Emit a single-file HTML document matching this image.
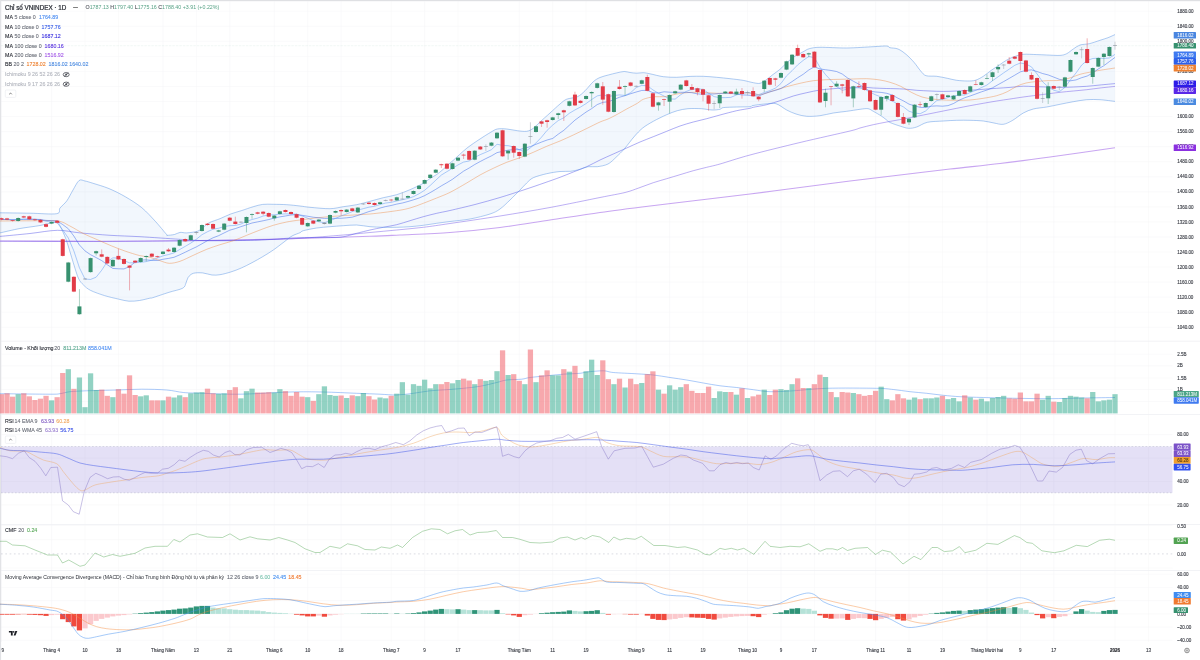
<!DOCTYPE html><html><head><meta charset="utf-8"><style>html,body{margin:0;padding:0;background:#fff}svg{display:block;filter:blur(0.3px)}</style></head><body><svg width="1200" height="660" viewBox="0 0 1200 660" font-family="Liberation Sans, sans-serif">
<rect width="1200" height="660" fill="#fff"/>
<line x1="1.49" y1="1.5" x2="1.49" y2="642" stroke="#f4f5f7" stroke-width="0.5"/>
<line x1="51.6" y1="1.5" x2="51.6" y2="642" stroke="#f4f5f7" stroke-width="0.5"/>
<line x1="85.01" y1="1.5" x2="85.01" y2="642" stroke="#f4f5f7" stroke-width="0.5"/>
<line x1="118.41" y1="1.5" x2="118.41" y2="642" stroke="#f4f5f7" stroke-width="0.5"/>
<line x1="162.95" y1="1.5" x2="162.95" y2="642" stroke="#f4f5f7" stroke-width="0.5"/>
<line x1="196.36" y1="1.5" x2="196.36" y2="642" stroke="#f4f5f7" stroke-width="0.5"/>
<line x1="229.76" y1="1.5" x2="229.76" y2="642" stroke="#f4f5f7" stroke-width="0.5"/>
<line x1="274.3" y1="1.5" x2="274.3" y2="642" stroke="#f4f5f7" stroke-width="0.5"/>
<line x1="307.71" y1="1.5" x2="307.71" y2="642" stroke="#f4f5f7" stroke-width="0.5"/>
<line x1="341.12" y1="1.5" x2="341.12" y2="642" stroke="#f4f5f7" stroke-width="0.5"/>
<line x1="391.22" y1="1.5" x2="391.22" y2="642" stroke="#f4f5f7" stroke-width="0.5"/>
<line x1="424.63" y1="1.5" x2="424.63" y2="642" stroke="#f4f5f7" stroke-width="0.5"/>
<line x1="458.03" y1="1.5" x2="458.03" y2="642" stroke="#f4f5f7" stroke-width="0.5"/>
<line x1="519.28" y1="1.5" x2="519.28" y2="642" stroke="#f4f5f7" stroke-width="0.5"/>
<line x1="552.68" y1="1.5" x2="552.68" y2="642" stroke="#f4f5f7" stroke-width="0.5"/>
<line x1="586.09" y1="1.5" x2="586.09" y2="642" stroke="#f4f5f7" stroke-width="0.5"/>
<line x1="636.2" y1="1.5" x2="636.2" y2="642" stroke="#f4f5f7" stroke-width="0.5"/>
<line x1="669.6" y1="1.5" x2="669.6" y2="642" stroke="#f4f5f7" stroke-width="0.5"/>
<line x1="703.01" y1="1.5" x2="703.01" y2="642" stroke="#f4f5f7" stroke-width="0.5"/>
<line x1="747.55" y1="1.5" x2="747.55" y2="642" stroke="#f4f5f7" stroke-width="0.5"/>
<line x1="780.96" y1="1.5" x2="780.96" y2="642" stroke="#f4f5f7" stroke-width="0.5"/>
<line x1="814.36" y1="1.5" x2="814.36" y2="642" stroke="#f4f5f7" stroke-width="0.5"/>
<line x1="875.6" y1="1.5" x2="875.6" y2="642" stroke="#f4f5f7" stroke-width="0.5"/>
<line x1="909.01" y1="1.5" x2="909.01" y2="642" stroke="#f4f5f7" stroke-width="0.5"/>
<line x1="942.42" y1="1.5" x2="942.42" y2="642" stroke="#f4f5f7" stroke-width="0.5"/>
<line x1="986.96" y1="1.5" x2="986.96" y2="642" stroke="#f4f5f7" stroke-width="0.5"/>
<line x1="1020.36" y1="1.5" x2="1020.36" y2="642" stroke="#f4f5f7" stroke-width="0.5"/>
<line x1="1053.77" y1="1.5" x2="1053.77" y2="642" stroke="#f4f5f7" stroke-width="0.5"/>
<line x1="1115.01" y1="1.5" x2="1115.01" y2="642" stroke="#f4f5f7" stroke-width="0.5"/>
<line x1="1148.42" y1="1.5" x2="1148.42" y2="642" stroke="#f4f5f7" stroke-width="0.5"/>
<line x1="1" y1="327.25" x2="1172.5" y2="327.25" stroke="#f4f5f7" stroke-width="0.5"/>
<line x1="1" y1="312.2" x2="1172.5" y2="312.2" stroke="#f4f5f7" stroke-width="0.5"/>
<line x1="1" y1="297.15" x2="1172.5" y2="297.15" stroke="#f4f5f7" stroke-width="0.5"/>
<line x1="1" y1="282.1" x2="1172.5" y2="282.1" stroke="#f4f5f7" stroke-width="0.5"/>
<line x1="1" y1="267.05" x2="1172.5" y2="267.05" stroke="#f4f5f7" stroke-width="0.5"/>
<line x1="1" y1="252" x2="1172.5" y2="252" stroke="#f4f5f7" stroke-width="0.5"/>
<line x1="1" y1="236.95" x2="1172.5" y2="236.95" stroke="#f4f5f7" stroke-width="0.5"/>
<line x1="1" y1="221.9" x2="1172.5" y2="221.9" stroke="#f4f5f7" stroke-width="0.5"/>
<line x1="1" y1="206.85" x2="1172.5" y2="206.85" stroke="#f4f5f7" stroke-width="0.5"/>
<line x1="1" y1="191.8" x2="1172.5" y2="191.8" stroke="#f4f5f7" stroke-width="0.5"/>
<line x1="1" y1="176.75" x2="1172.5" y2="176.75" stroke="#f4f5f7" stroke-width="0.5"/>
<line x1="1" y1="161.7" x2="1172.5" y2="161.7" stroke="#f4f5f7" stroke-width="0.5"/>
<line x1="1" y1="146.65" x2="1172.5" y2="146.65" stroke="#f4f5f7" stroke-width="0.5"/>
<line x1="1" y1="131.6" x2="1172.5" y2="131.6" stroke="#f4f5f7" stroke-width="0.5"/>
<line x1="1" y1="116.55" x2="1172.5" y2="116.55" stroke="#f4f5f7" stroke-width="0.5"/>
<line x1="1" y1="101.5" x2="1172.5" y2="101.5" stroke="#f4f5f7" stroke-width="0.5"/>
<line x1="1" y1="86.45" x2="1172.5" y2="86.45" stroke="#f4f5f7" stroke-width="0.5"/>
<line x1="1" y1="71.4" x2="1172.5" y2="71.4" stroke="#f4f5f7" stroke-width="0.5"/>
<line x1="1" y1="56.35" x2="1172.5" y2="56.35" stroke="#f4f5f7" stroke-width="0.5"/>
<line x1="1" y1="41.3" x2="1172.5" y2="41.3" stroke="#f4f5f7" stroke-width="0.5"/>
<line x1="1" y1="26.25" x2="1172.5" y2="26.25" stroke="#f4f5f7" stroke-width="0.5"/>
<line x1="1" y1="11.2" x2="1172.5" y2="11.2" stroke="#f4f5f7" stroke-width="0.5"/>
<line x1="1" y1="354.2" x2="1172.5" y2="354.2" stroke="#f4f5f7" stroke-width="0.5"/>
<line x1="1" y1="365.8" x2="1172.5" y2="365.8" stroke="#f4f5f7" stroke-width="0.5"/>
<line x1="1" y1="378" x2="1172.5" y2="378" stroke="#f4f5f7" stroke-width="0.5"/>
<line x1="1" y1="389.5" x2="1172.5" y2="389.5" stroke="#f4f5f7" stroke-width="0.5"/>
<line x1="1" y1="401.5" x2="1172.5" y2="401.5" stroke="#f4f5f7" stroke-width="0.5"/>
<line x1="1" y1="434.6" x2="1172.5" y2="434.6" stroke="#f4f5f7" stroke-width="0.5"/>
<line x1="1" y1="458.1" x2="1172.5" y2="458.1" stroke="#f4f5f7" stroke-width="0.5"/>
<line x1="1" y1="481.5" x2="1172.5" y2="481.5" stroke="#f4f5f7" stroke-width="0.5"/>
<line x1="1" y1="504.9" x2="1172.5" y2="504.9" stroke="#f4f5f7" stroke-width="0.5"/>
<line x1="1" y1="525.5" x2="1172.5" y2="525.5" stroke="#f4f5f7" stroke-width="0.5"/>
<line x1="1" y1="539.7" x2="1172.5" y2="539.7" stroke="#f4f5f7" stroke-width="0.5"/>
<line x1="1" y1="568" x2="1172.5" y2="568" stroke="#f4f5f7" stroke-width="0.5"/>
<line x1="1" y1="574.2" x2="1172.5" y2="574.2" stroke="#f4f5f7" stroke-width="0.5"/>
<line x1="1" y1="587.4" x2="1172.5" y2="587.4" stroke="#f4f5f7" stroke-width="0.5"/>
<line x1="1" y1="600.6" x2="1172.5" y2="600.6" stroke="#f4f5f7" stroke-width="0.5"/>
<line x1="1" y1="613.9" x2="1172.5" y2="613.9" stroke="#f4f5f7" stroke-width="0.5"/>
<line x1="1" y1="627.1" x2="1172.5" y2="627.1" stroke="#f4f5f7" stroke-width="0.5"/>
<line x1="1" y1="640.3" x2="1172.5" y2="640.3" stroke="#f4f5f7" stroke-width="0.5"/>
<line x1="0" y1="341.2" x2="1200" y2="341.2" stroke="#eceef2" stroke-width="0.7"/>
<line x1="0" y1="414.5" x2="1200" y2="414.5" stroke="#eceef2" stroke-width="0.7"/>
<line x1="0" y1="524.5" x2="1200" y2="524.5" stroke="#eceef2" stroke-width="0.7"/>
<line x1="0" y1="570.5" x2="1200" y2="570.5" stroke="#eceef2" stroke-width="0.7"/>
<rect x="0" y="0" width="1200" height="1.2" fill="#dfe0e3"/>
<rect x="0" y="0" width="1.1" height="660" fill="#e2e3e6"/>
<path d="M0 212.8 C4.8 212.86 20.94 213.06 30 213.2 C39.06 213.34 51.8 214.53 56.6 213.7 C61.4 212.87 58.37 210.05 60 208 C61.63 205.95 64.72 203.78 66.8 200.9 C68.88 198.02 71.03 193.26 73 190 C74.97 186.74 77.18 181.94 79.1 180.5 C81.02 179.06 82.82 180.57 85 181 C87.18 181.43 88.86 181.98 92.7 183.2 C96.54 184.42 103.77 186.42 109 188.6 C114.23 190.78 120.15 193.74 125.4 196.8 C130.65 199.86 137 203.76 141.8 207.7 C146.6 211.64 151.48 217.16 155.4 221.4 C159.32 225.64 164.4 231.98 166.3 234.2 C168.2 236.42 165.99 235.25 167.3 235.3 C168.61 235.35 172.47 234.96 174.5 234.5 C176.53 234.04 178.05 232.66 180 232.4 C181.95 232.14 183.93 233.08 186.7 232.9 C189.47 232.72 194.69 232.16 197.3 231.3 C199.91 230.44 201.08 228.88 203 227.5 C204.92 226.12 206.58 224.11 209.3 222.7 C212.02 221.29 216.58 220.09 220 218.7 C223.42 217.31 227.29 215.28 230.7 214 C234.11 212.72 237.68 211.87 241.3 210.7 C244.92 209.53 249.88 207.71 253.3 206.7 C256.72 205.69 259.5 204.78 262.7 204.4 C265.9 204.02 269.46 204.25 273.3 204.3 C277.14 204.35 282.43 204.43 286.7 204.7 C290.97 204.97 296.27 205.58 300 206 C303.73 206.42 305.2 206.87 310 207.3 C314.8 207.73 324.67 208.8 330 208.7 C335.33 208.6 339.03 207.34 343.3 206.7 C347.57 206.06 352.43 205.56 356.7 204.7 C360.97 203.84 365.74 202.42 370 201.3 C374.26 200.18 379.03 198.76 383.3 197.7 C387.57 196.64 392.43 195.98 396.7 194.7 C400.97 193.42 405.74 191.52 410 189.7 C414.26 187.88 420.1 185.09 423.3 183.3 C426.5 181.51 427.86 179.91 430 178.5 C432.14 177.09 434.62 175.94 436.7 174.5 C438.78 173.06 440.87 171.34 443 169.5 C445.13 167.66 448.35 164.47 450 163 C451.65 161.53 450.63 162.65 453.3 160.3 C455.97 157.95 462.43 151.71 466.7 148.3 C470.97 144.89 476.16 141.56 480 139 C483.84 136.44 487.93 133.9 490.7 132.3 C493.47 130.7 494.74 129.53 497.3 129 C499.86 128.47 503.5 128.73 506.7 129 C509.9 129.27 514.1 130.33 517.3 130.7 C520.5 131.07 524.14 131.68 526.7 131.3 C529.26 130.92 531.17 129.79 533.3 128.3 C535.43 126.81 537.33 124.45 540 122 C542.67 119.55 546.8 115.88 550 113 C553.2 110.12 557.33 106.21 560 104 C562.67 101.79 563.9 100.37 566.7 99.2 C569.5 98.03 574.57 98.04 577.5 96.7 C580.43 95.36 582.47 93.2 585 90.8 C587.53 88.4 590.9 83.83 593.3 81.7 C595.7 79.57 597.6 78.57 600 77.5 C602.4 76.43 605.63 75.74 608.3 75 C610.97 74.26 614.16 73.46 616.7 72.9 C619.24 72.34 622.07 71.56 624.2 71.5 C626.33 71.44 628 72.23 630 72.5 C632 72.77 634.57 73.17 636.7 73.2 C638.83 73.23 641.17 72.6 643.3 72.7 C645.43 72.8 646.8 73.16 650 73.8 C653.2 74.44 659.03 76.14 663.3 76.7 C667.57 77.26 672.43 77.35 676.7 77.3 C680.97 77.25 685.74 76.56 690 76.4 C694.26 76.24 699.03 76.16 703.3 76.3 C707.57 76.44 712.43 76.92 716.7 77.3 C720.97 77.68 725.74 78.2 730 78.7 C734.26 79.2 739.57 79.76 743.3 80.4 C747.03 81.04 750.63 82.24 753.3 82.7 C755.97 83.16 757.97 83.73 760 83.3 C762.03 82.87 763.92 81.41 766 80 C768.08 78.59 770.76 76.21 773 74.5 C775.24 72.79 777.84 71.14 780 69.3 C782.16 67.46 784.37 64.92 786.5 63 C788.63 61.08 791.14 58.82 793.3 57.3 C795.46 55.78 798.29 54.46 800 53.5 C801.71 52.54 802.51 52.07 804 51.3 C805.49 50.53 806.74 49.34 809.3 48.7 C811.86 48.06 814.02 47.41 820 47.3 C825.98 47.19 838.17 48.1 846.7 48 C855.23 47.9 866.9 47.02 873.3 46.7 C879.7 46.38 884.03 45.84 886.7 46 C889.37 46.16 888.19 47.22 890 47.7 C891.81 48.18 895.44 47.94 898 49 C900.56 50.06 903.44 52.17 906 54.3 C908.56 56.43 911.65 59.63 914 62.3 C916.35 64.97 918.78 68.86 920.7 71 C922.62 73.14 923.44 74.85 926 75.7 C928.56 76.55 933.29 75.88 936.7 76.3 C940.11 76.72 944.1 77.66 947.3 78.3 C950.5 78.94 953.5 79.87 956.7 80.3 C959.9 80.73 964.32 81 967.3 81 C970.28 81 972.74 81.05 975.3 80.3 C977.86 79.55 980.74 77.9 983.3 76.3 C985.86 74.7 988.74 72.11 991.3 70.3 C993.86 68.49 996.74 66.7 999.3 65 C1001.86 63.3 1004.74 61.09 1007.3 59.7 C1009.86 58.31 1012.74 57.16 1015.3 56.3 C1017.86 55.44 1019.88 54.57 1023.3 54.3 C1026.72 54.03 1032.96 54.49 1036.7 54.6 C1040.44 54.71 1042.97 54.87 1046.7 55 C1050.43 55.13 1056.8 55.61 1060 55.4 C1063.2 55.19 1064.57 54.72 1066.7 53.7 C1068.83 52.68 1071.17 50.39 1073.3 49 C1075.43 47.61 1077.44 45.85 1080 45 C1082.56 44.15 1086.1 44.45 1089.3 43.7 C1092.5 42.95 1097.01 41.26 1100 40.3 C1102.99 39.34 1105.6 38.61 1108 37.7 C1110.4 36.79 1113.88 35.1 1115 34.6 L1115 101.4 L1100 99.7 L1086.7 99.7 L1073.3 101.7 L1060 104.3 L1046.7 107 L1033.3 109 L1023.3 113 L1012.7 120.3 L1003.3 124.3 L994 123 L983.3 121 L970 120.3 L956.7 120.3 L943.3 121 L927.3 122.3 L916.7 127 L908.7 128.3 L900.7 126.3 L890 122.5 L886 119.5 L881.3 116 L873.3 111.3 L868 108.7 L860 109.3 L846.7 111.3 L833.3 113 L820 115.7 L806.7 116.3 L796 114 L786.7 110 L776 103.7 L765 104 L753 105.5 L750 106.7 L736.7 107 L723.3 107.6 L720 109.3 L712 110 L701.3 108.7 L688 108.7 L677.3 110.7 L666.7 114.7 L653.3 121.3 L642.7 128 L634.7 136 L629.3 142.7 L624 149.3 L616 157.3 L608 164 L597.3 166.7 L588 166.7 L580 169.3 L570.7 171.3 L560 171.5 L546.7 173.7 L533.3 177.7 L526.7 183 L520 190 L510 200 L500 209 L490 214 L470 219 L450 221.5 L436.7 223.3 L423.3 225.3 L410 226.7 L396.7 227.3 L383.3 227.3 L370 226.7 L356.7 225 L343.3 225.7 L330 226.7 L316.7 228 L303.3 230.7 L300 232.7 L292 236 L284 242 L273.3 250 L262.7 256.7 L252 262.7 L241.3 268 L230.7 272 L220 274.7 L212 275 L202.7 272.9 L193.3 273.3 L188.2 277.3 L186 283 L182.7 288.2 L169 292.3 L152.7 297.7 L149.8 298.2 L139.4 300.5 L128.9 301.2 L118.5 299.1 L104.5 295.6 L90.6 290.4 L83.6 285.1 L78.4 278.2 L73.2 262.5 L66.2 239.8 L59.2 224.2 L57.3 221.6 L40 225.5 L20 228.5 L0 232.9Z" fill="#2f7fe0" fill-opacity="0.062" stroke="none"/>
<path d="M0 241 C16 241.03 68 241.28 100 241.2 C132 241.12 169.6 240.88 200 240.5 C230.4 240.12 262.8 239.47 290 238.8 C317.2 238.13 352.4 236.91 370 236.3 C387.6 235.69 387.2 235.61 400 235 C412.8 234.39 434 233.7 450 232.5 C466 231.3 484 229.5 500 227.5 C516 225.5 534 222.4 550 220 C566 217.6 584 214.74 600 212.5 C616 210.26 634 208 650 206 C666 204 684 201.92 700 200 C716 198.08 734 196 750 194 C766 192 784 189.58 800 187.5 C816 185.42 834 183 850 181 C866 179 884 176.92 900 175 C916 173.08 934 170.84 950 169 C966 167.16 984 165.42 1000 163.5 C1016 161.58 1031.6 159.51 1050 157 C1068.4 154.49 1104.6 149.27 1115 147.8" fill="none" stroke="#c29cf0" stroke-width="1.15" stroke-opacity="0.9" stroke-linejoin="round" />
<path d="M0 241.2 C16 241.25 68 241.58 100 241.5 C132 241.42 174.4 240.97 200 240.7 C225.6 240.43 244 240.18 260 239.8 C276 239.42 286.67 239.07 300 238.3 C313.33 237.53 332.1 235.93 343.3 235 C354.5 234.07 361.46 233.3 370 232.5 C378.54 231.7 388.17 230.83 396.7 230 C405.23 229.17 414.77 228.34 423.3 227.3 C431.83 226.26 437.73 225.31 450 223.5 C462.27 221.69 484 218.56 500 216 C516 213.44 534 210.46 550 207.5 C566 204.54 588 199.9 600 197.5 C612 195.1 618.81 194.02 625 192.5 C631.19 190.98 634.17 189.57 638.7 188 C643.23 186.43 648.82 184.19 653.3 182.7 C657.78 181.21 662.43 179.98 666.7 178.7 C670.97 177.42 675.74 175.98 680 174.7 C684.26 173.42 689.03 171.88 693.3 170.7 C697.57 169.52 702.43 168.37 706.7 167.3 C710.97 166.23 713.07 165.97 720 164 C726.93 162.03 737.2 158.44 750 155 C762.8 151.56 784 146.34 800 142.5 C816 138.66 840.4 133.32 850 131 C859.6 128.68 856.27 129.01 860 128 C863.73 126.99 869.03 125.66 873.3 124.7 C877.57 123.74 881.9 122.91 886.7 122 C891.5 121.09 898.5 119.91 903.3 119 C908.1 118.09 912.43 117.15 916.7 116.3 C920.97 115.45 925.74 114.55 930 113.7 C934.26 112.85 939.03 111.86 943.3 111 C947.57 110.14 952.43 109.15 956.7 108.3 C960.97 107.45 965.74 106.5 970 105.7 C974.26 104.9 979.03 104.05 983.3 103.3 C987.57 102.55 992.43 101.69 996.7 101 C1000.97 100.31 1005.74 99.64 1010 99 C1014.26 98.36 1019.57 97.53 1023.3 97 C1027.03 96.47 1029.56 96.18 1033.3 95.7 C1037.04 95.22 1042.43 94.54 1046.7 94 C1050.97 93.46 1055.74 92.78 1060 92.3 C1064.26 91.82 1069.03 91.42 1073.3 91 C1077.57 90.58 1082.43 90.18 1086.7 89.7 C1090.97 89.22 1095.47 88.53 1100 88 C1104.53 87.47 1112.6 86.66 1115 86.4" fill="none" stroke="#6244e4" stroke-width="0.5" stroke-opacity="0.85" stroke-linejoin="round" />
<path d="M0 236.4 C4.8 235.94 20.8 234.48 30 233.5 C39.2 232.52 49.5 230.4 57.5 230.3 C65.5 230.2 71.6 232.1 80 232.9 C88.4 233.7 100.4 234.69 110 235.3 C119.6 235.91 128.8 236.06 140 236.7 C151.2 237.34 169.33 238.66 180 239.3 C190.67 239.94 196.03 240.52 206.7 240.7 C217.37 240.88 236.04 240.62 246.7 240.4 C257.36 240.18 266.9 239.64 273.3 239.3 C279.7 238.96 282.43 238.57 286.7 238.3 C290.97 238.03 294.67 237.73 300 237.6 C305.33 237.47 313.49 237.56 320 237.5 C326.51 237.44 334.83 237.87 340.7 237.2 C346.57 236.53 352.01 234.45 356.7 233.3 C361.39 232.15 365.74 230.96 370 230 C374.26 229.04 379.03 228.15 383.3 227.3 C387.57 226.45 392.43 225.76 396.7 224.7 C400.97 223.64 405.74 221.98 410 220.7 C414.26 219.42 419.03 217.88 423.3 216.7 C427.57 215.52 432.43 214.29 436.7 213.3 C440.97 212.31 443.87 211.91 450 210.5 C456.13 209.09 467 206.58 475 204.5 C483 202.42 492 199.9 500 197.5 C508 195.1 517.96 191.82 525 189.5 C532.04 187.18 538.4 184.95 544 183 C549.6 181.05 555.31 179.06 560 177.3 C564.69 175.54 569.03 173.7 573.3 172 C577.57 170.3 582.43 168.62 586.7 166.7 C590.97 164.78 595.74 162.03 600 160 C604.26 157.97 609.03 155.92 613.3 154 C617.57 152.08 622.43 149.92 626.7 148 C630.97 146.08 635.74 143.81 640 142 C644.26 140.19 649.03 138.41 653.3 136.7 C657.57 134.99 662.43 133.01 666.7 131.3 C670.97 129.59 675.74 127.49 680 126 C684.26 124.51 689.03 123.17 693.3 122 C697.57 120.83 702.43 119.82 706.7 118.7 C710.97 117.58 715.2 116.28 720 115 C724.8 113.72 731.9 111.77 736.7 110.7 C741.5 109.63 747.34 108.84 750 108.3 C752.66 107.76 750.63 107.88 753.3 107.3 C755.97 106.72 762.43 105.76 766.7 104.7 C770.97 103.64 775.74 102.09 780 100.7 C784.26 99.31 789.03 97.28 793.3 96 C797.57 94.72 802.43 93.66 806.7 92.7 C810.97 91.74 815.74 90.64 820 90 C824.26 89.36 829.03 89.07 833.3 88.7 C837.57 88.33 842.43 87.97 846.7 87.7 C850.97 87.43 855.74 86.95 860 87 C864.26 87.05 869.03 87.76 873.3 88 C877.57 88.24 881.9 88.34 886.7 88.5 C891.5 88.66 898.5 88.71 903.3 89 C908.1 89.29 912.43 89.98 916.7 90.3 C920.97 90.62 925.74 90.82 930 91 C934.26 91.18 939.03 91.4 943.3 91.4 C947.57 91.4 952.43 91.18 956.7 91 C960.97 90.82 965.74 90.57 970 90.3 C974.26 90.03 979.03 89.62 983.3 89.3 C987.57 88.98 992.43 88.6 996.7 88.3 C1000.97 88 1005.74 87.74 1010 87.4 C1014.26 87.06 1019.57 86.33 1023.3 86.2 C1027.03 86.07 1029.56 86.47 1033.3 86.6 C1037.04 86.73 1042.43 86.87 1046.7 87 C1050.97 87.13 1055.74 87.4 1060 87.4 C1064.26 87.4 1069.03 87.18 1073.3 87 C1077.57 86.82 1082.43 86.62 1086.7 86.3 C1090.97 85.98 1095.47 85.43 1100 85 C1104.53 84.57 1112.6 83.82 1115 83.6" fill="none" stroke="#4040e4" stroke-width="0.5" stroke-opacity="0.85" stroke-linejoin="round" />
<path d="M0 212.8 C4.8 212.86 20.94 213.06 30 213.2 C39.06 213.34 51.8 214.53 56.6 213.7 C61.4 212.87 58.37 210.05 60 208 C61.63 205.95 64.72 203.78 66.8 200.9 C68.88 198.02 71.03 193.26 73 190 C74.97 186.74 77.18 181.94 79.1 180.5 C81.02 179.06 82.82 180.57 85 181 C87.18 181.43 88.86 181.98 92.7 183.2 C96.54 184.42 103.77 186.42 109 188.6 C114.23 190.78 120.15 193.74 125.4 196.8 C130.65 199.86 137 203.76 141.8 207.7 C146.6 211.64 151.48 217.16 155.4 221.4 C159.32 225.64 164.4 231.98 166.3 234.2 C168.2 236.42 165.99 235.25 167.3 235.3 C168.61 235.35 172.47 234.96 174.5 234.5 C176.53 234.04 178.05 232.66 180 232.4 C181.95 232.14 183.93 233.08 186.7 232.9 C189.47 232.72 194.69 232.16 197.3 231.3 C199.91 230.44 201.08 228.88 203 227.5 C204.92 226.12 206.58 224.11 209.3 222.7 C212.02 221.29 216.58 220.09 220 218.7 C223.42 217.31 227.29 215.28 230.7 214 C234.11 212.72 237.68 211.87 241.3 210.7 C244.92 209.53 249.88 207.71 253.3 206.7 C256.72 205.69 259.5 204.78 262.7 204.4 C265.9 204.02 269.46 204.25 273.3 204.3 C277.14 204.35 282.43 204.43 286.7 204.7 C290.97 204.97 296.27 205.58 300 206 C303.73 206.42 305.2 206.87 310 207.3 C314.8 207.73 324.67 208.8 330 208.7 C335.33 208.6 339.03 207.34 343.3 206.7 C347.57 206.06 352.43 205.56 356.7 204.7 C360.97 203.84 365.74 202.42 370 201.3 C374.26 200.18 379.03 198.76 383.3 197.7 C387.57 196.64 392.43 195.98 396.7 194.7 C400.97 193.42 405.74 191.52 410 189.7 C414.26 187.88 420.1 185.09 423.3 183.3 C426.5 181.51 427.86 179.91 430 178.5 C432.14 177.09 434.62 175.94 436.7 174.5 C438.78 173.06 440.87 171.34 443 169.5 C445.13 167.66 448.35 164.47 450 163 C451.65 161.53 450.63 162.65 453.3 160.3 C455.97 157.95 462.43 151.71 466.7 148.3 C470.97 144.89 476.16 141.56 480 139 C483.84 136.44 487.93 133.9 490.7 132.3 C493.47 130.7 494.74 129.53 497.3 129 C499.86 128.47 503.5 128.73 506.7 129 C509.9 129.27 514.1 130.33 517.3 130.7 C520.5 131.07 524.14 131.68 526.7 131.3 C529.26 130.92 531.17 129.79 533.3 128.3 C535.43 126.81 537.33 124.45 540 122 C542.67 119.55 546.8 115.88 550 113 C553.2 110.12 557.33 106.21 560 104 C562.67 101.79 563.9 100.37 566.7 99.2 C569.5 98.03 574.57 98.04 577.5 96.7 C580.43 95.36 582.47 93.2 585 90.8 C587.53 88.4 590.9 83.83 593.3 81.7 C595.7 79.57 597.6 78.57 600 77.5 C602.4 76.43 605.63 75.74 608.3 75 C610.97 74.26 614.16 73.46 616.7 72.9 C619.24 72.34 622.07 71.56 624.2 71.5 C626.33 71.44 628 72.23 630 72.5 C632 72.77 634.57 73.17 636.7 73.2 C638.83 73.23 641.17 72.6 643.3 72.7 C645.43 72.8 646.8 73.16 650 73.8 C653.2 74.44 659.03 76.14 663.3 76.7 C667.57 77.26 672.43 77.35 676.7 77.3 C680.97 77.25 685.74 76.56 690 76.4 C694.26 76.24 699.03 76.16 703.3 76.3 C707.57 76.44 712.43 76.92 716.7 77.3 C720.97 77.68 725.74 78.2 730 78.7 C734.26 79.2 739.57 79.76 743.3 80.4 C747.03 81.04 750.63 82.24 753.3 82.7 C755.97 83.16 757.97 83.73 760 83.3 C762.03 82.87 763.92 81.41 766 80 C768.08 78.59 770.76 76.21 773 74.5 C775.24 72.79 777.84 71.14 780 69.3 C782.16 67.46 784.37 64.92 786.5 63 C788.63 61.08 791.14 58.82 793.3 57.3 C795.46 55.78 798.29 54.46 800 53.5 C801.71 52.54 802.51 52.07 804 51.3 C805.49 50.53 806.74 49.34 809.3 48.7 C811.86 48.06 814.02 47.41 820 47.3 C825.98 47.19 838.17 48.1 846.7 48 C855.23 47.9 866.9 47.02 873.3 46.7 C879.7 46.38 884.03 45.84 886.7 46 C889.37 46.16 888.19 47.22 890 47.7 C891.81 48.18 895.44 47.94 898 49 C900.56 50.06 903.44 52.17 906 54.3 C908.56 56.43 911.65 59.63 914 62.3 C916.35 64.97 918.78 68.86 920.7 71 C922.62 73.14 923.44 74.85 926 75.7 C928.56 76.55 933.29 75.88 936.7 76.3 C940.11 76.72 944.1 77.66 947.3 78.3 C950.5 78.94 953.5 79.87 956.7 80.3 C959.9 80.73 964.32 81 967.3 81 C970.28 81 972.74 81.05 975.3 80.3 C977.86 79.55 980.74 77.9 983.3 76.3 C985.86 74.7 988.74 72.11 991.3 70.3 C993.86 68.49 996.74 66.7 999.3 65 C1001.86 63.3 1004.74 61.09 1007.3 59.7 C1009.86 58.31 1012.74 57.16 1015.3 56.3 C1017.86 55.44 1019.88 54.57 1023.3 54.3 C1026.72 54.03 1032.96 54.49 1036.7 54.6 C1040.44 54.71 1042.97 54.87 1046.7 55 C1050.43 55.13 1056.8 55.61 1060 55.4 C1063.2 55.19 1064.57 54.72 1066.7 53.7 C1068.83 52.68 1071.17 50.39 1073.3 49 C1075.43 47.61 1077.44 45.85 1080 45 C1082.56 44.15 1086.1 44.45 1089.3 43.7 C1092.5 42.95 1097.01 41.26 1100 40.3 C1102.99 39.34 1105.6 38.61 1108 37.7 C1110.4 36.79 1113.88 35.1 1115 34.6" fill="none" stroke="#4a8ae0" stroke-width="0.55" stroke-opacity="0.8" stroke-linejoin="round" />
<path d="M0 232.9 C3.2 232.2 13.6 229.68 20 228.5 C26.4 227.32 34.03 226.6 40 225.5 C45.97 224.4 54.23 221.81 57.3 221.6 C60.37 221.39 57.78 221.29 59.2 224.2 C60.62 227.11 63.96 233.67 66.2 239.8 C68.44 245.93 71.25 256.36 73.2 262.5 C75.15 268.64 76.74 274.58 78.4 278.2 C80.06 281.82 81.65 283.15 83.6 285.1 C85.55 287.05 87.26 288.72 90.6 290.4 C93.94 292.08 100.04 294.21 104.5 295.6 C108.96 296.99 114.6 298.2 118.5 299.1 C122.4 300 125.56 300.98 128.9 301.2 C132.24 301.42 136.06 300.98 139.4 300.5 C142.74 300.02 147.67 298.65 149.8 298.2 C151.93 297.75 149.63 298.64 152.7 297.7 C155.77 296.76 164.2 293.82 169 292.3 C173.8 290.78 179.98 289.69 182.7 288.2 C185.42 286.71 185.12 284.74 186 283 C186.88 281.26 187.03 278.85 188.2 277.3 C189.37 275.75 190.98 274 193.3 273.3 C195.62 272.6 199.71 272.63 202.7 272.9 C205.69 273.17 209.23 274.71 212 275 C214.77 275.29 217.01 275.18 220 274.7 C222.99 274.22 227.29 273.07 230.7 272 C234.11 270.93 237.89 269.49 241.3 268 C244.71 266.51 248.58 264.51 252 262.7 C255.42 260.89 259.29 258.73 262.7 256.7 C266.11 254.67 269.89 252.35 273.3 250 C276.71 247.65 281.01 244.24 284 242 C286.99 239.76 289.44 237.49 292 236 C294.56 234.51 298.19 233.55 300 232.7 C301.81 231.85 300.63 231.45 303.3 230.7 C305.97 229.95 312.43 228.64 316.7 228 C320.97 227.36 325.74 227.07 330 226.7 C334.26 226.33 339.03 225.97 343.3 225.7 C347.57 225.43 352.43 224.84 356.7 225 C360.97 225.16 365.74 226.33 370 226.7 C374.26 227.07 379.03 227.2 383.3 227.3 C387.57 227.4 392.43 227.4 396.7 227.3 C400.97 227.2 405.74 227.02 410 226.7 C414.26 226.38 419.03 225.84 423.3 225.3 C427.57 224.76 432.43 223.91 436.7 223.3 C440.97 222.69 444.67 222.19 450 221.5 C455.33 220.81 463.6 220.2 470 219 C476.4 217.8 485.2 215.6 490 214 C494.8 212.4 496.8 211.24 500 209 C503.2 206.76 506.8 203.04 510 200 C513.2 196.96 517.33 192.72 520 190 C522.67 187.28 524.57 184.97 526.7 183 C528.83 181.03 530.1 179.19 533.3 177.7 C536.5 176.21 542.43 174.69 546.7 173.7 C550.97 172.71 556.16 171.88 560 171.5 C563.84 171.12 567.5 171.65 570.7 171.3 C573.9 170.95 577.23 170.04 580 169.3 C582.77 168.56 585.23 167.12 588 166.7 C590.77 166.28 594.1 167.13 597.3 166.7 C600.5 166.27 605.01 165.5 608 164 C610.99 162.5 613.44 159.65 616 157.3 C618.56 154.95 621.87 151.64 624 149.3 C626.13 146.96 627.59 144.83 629.3 142.7 C631.01 140.57 632.56 138.35 634.7 136 C636.84 133.65 639.72 130.35 642.7 128 C645.68 125.65 649.46 123.43 653.3 121.3 C657.14 119.17 662.86 116.4 666.7 114.7 C670.54 113 673.89 111.66 677.3 110.7 C680.71 109.74 684.16 109.02 688 108.7 C691.84 108.38 697.46 108.49 701.3 108.7 C705.14 108.91 709.01 109.9 712 110 C714.99 110.1 718.19 109.68 720 109.3 C721.81 108.92 720.63 107.97 723.3 107.6 C725.97 107.23 732.43 107.14 736.7 107 C740.97 106.86 747.39 106.94 750 106.7 C752.61 106.46 750.6 105.93 753 105.5 C755.4 105.07 761.32 104.29 765 104 C768.68 103.71 772.53 102.74 776 103.7 C779.47 104.66 783.5 108.35 786.7 110 C789.9 111.65 792.8 112.99 796 114 C799.2 115.01 802.86 116.03 806.7 116.3 C810.54 116.57 815.74 116.23 820 115.7 C824.26 115.17 829.03 113.7 833.3 113 C837.57 112.3 842.43 111.89 846.7 111.3 C850.97 110.71 856.59 109.72 860 109.3 C863.41 108.88 865.87 108.38 868 108.7 C870.13 109.02 871.17 110.13 873.3 111.3 C875.43 112.47 879.27 114.69 881.3 116 C883.33 117.31 884.61 118.46 886 119.5 C887.39 120.54 887.65 121.41 890 122.5 C892.35 123.59 897.71 125.37 900.7 126.3 C903.69 127.23 906.14 128.19 908.7 128.3 C911.26 128.41 913.72 127.96 916.7 127 C919.68 126.04 923.04 123.26 927.3 122.3 C931.56 121.34 938.6 121.32 943.3 121 C948 120.68 952.43 120.41 956.7 120.3 C960.97 120.19 965.74 120.19 970 120.3 C974.26 120.41 979.46 120.57 983.3 121 C987.14 121.43 990.8 122.47 994 123 C997.2 123.53 1000.31 124.73 1003.3 124.3 C1006.29 123.87 1009.5 122.11 1012.7 120.3 C1015.9 118.49 1020 114.81 1023.3 113 C1026.6 111.19 1029.56 109.96 1033.3 109 C1037.04 108.04 1042.43 107.75 1046.7 107 C1050.97 106.25 1055.74 105.15 1060 104.3 C1064.26 103.45 1069.03 102.44 1073.3 101.7 C1077.57 100.96 1082.43 100.02 1086.7 99.7 C1090.97 99.38 1095.47 99.43 1100 99.7 C1104.53 99.97 1112.6 101.13 1115 101.4" fill="none" stroke="#4a8ae0" stroke-width="0.55" stroke-opacity="0.8" stroke-linejoin="round" />
<path d="M0 221 C4.8 220.97 20.8 220.8 30 220.8 C39.2 220.8 51.15 220.18 57.5 221 C63.85 221.82 65.52 223.87 69.7 225.9 C73.88 227.93 79.14 231.48 83.6 233.7 C88.06 235.92 93.14 237.85 97.6 239.8 C102.06 241.75 107.05 244.08 111.5 245.9 C115.95 247.72 120.94 249.66 125.4 251.2 C129.86 252.74 135.5 254.52 139.4 255.5 C143.3 256.48 146.5 256.47 149.8 257.3 C153.1 258.13 156.88 259.74 160 260.7 C163.12 261.66 166.1 263.2 169.3 263.3 C172.5 263.4 176.16 262.58 180 261.3 C183.84 260.02 189.03 257.22 193.3 255.3 C197.57 253.38 202.43 251 206.7 249.3 C210.97 247.6 215.74 246.08 220 244.7 C224.26 243.32 229.03 242.2 233.3 240.7 C237.57 239.2 242.43 237.01 246.7 235.3 C250.97 233.59 255.74 231.6 260 230 C264.26 228.4 269.03 226.58 273.3 225.3 C277.57 224.02 282.43 222.85 286.7 222 C290.97 221.15 294.67 220.72 300 220 C305.33 219.28 312.8 218.22 320 217.5 C327.2 216.78 337 216.06 345 215.5 C353 214.94 361.73 214.77 370 214 C378.27 213.23 390.3 211.66 396.7 210.7 C403.1 209.74 405.74 209.18 410 208 C414.26 206.82 419.03 204.9 423.3 203.3 C427.57 201.7 432.43 199.74 436.7 198 C440.97 196.26 445.2 194.8 450 192.4 C454.8 190 461.9 185.78 466.7 183 C471.5 180.22 475.74 177.35 480 175 C484.26 172.65 489.03 170.33 493.3 168.3 C497.57 166.27 502.43 164 506.7 162.3 C510.97 160.6 515.74 159.3 520 157.7 C524.26 156.1 529.03 154.12 533.3 152.3 C537.57 150.48 542.43 148.11 546.7 146.3 C550.97 144.49 555.74 142.81 560 141 C564.26 139.19 569.03 137 573.3 135 C577.57 133 582.43 130.58 586.7 128.5 C590.97 126.42 596.59 123.52 600 122 C603.41 120.48 605.44 120.12 608 119 C610.56 117.88 613.01 116.6 616 115 C618.99 113.4 623.29 110.87 626.7 109 C630.11 107.13 634.64 104.85 637.3 103.3 C639.96 101.75 640.63 100.36 643.3 99.3 C645.97 98.24 650.58 97.12 654 96.7 C657.42 96.28 661.07 97.13 664.7 96.7 C668.33 96.27 672.65 94.69 676.7 94 C680.75 93.31 685.74 92.66 690 92.4 C694.26 92.14 699.03 92.26 703.3 92.4 C707.57 92.54 712.43 93.2 716.7 93.3 C720.97 93.4 724.67 93.05 730 93 C735.33 92.95 745.2 92.73 750 93 C754.8 93.27 756.27 95.07 760 94.7 C763.73 94.33 769.03 91.98 773.3 90.7 C777.57 89.42 782.43 87.88 786.7 86.7 C790.97 85.52 795.74 84.26 800 83.3 C804.26 82.34 809.03 81.28 813.3 80.7 C817.57 80.12 822.43 79.92 826.7 79.7 C830.97 79.48 835.74 79.41 840 79.3 C844.26 79.19 849.03 79.1 853.3 79 C857.57 78.9 862.43 78.54 866.7 78.7 C870.97 78.86 876.27 79.42 880 80 C883.73 80.58 886.69 81.29 890 82.3 C893.31 83.31 897.29 84.7 900.7 86.3 C904.11 87.9 907.89 90.59 911.3 92.3 C914.71 94.01 918.58 95.93 922 97 C925.42 98.07 929.29 98.52 932.7 99 C936.11 99.48 939.46 99.79 943.3 100 C947.14 100.21 952.43 100.3 956.7 100.3 C960.97 100.3 965.74 100.32 970 100 C974.26 99.68 979.03 98.99 983.3 98.3 C987.57 97.61 992.86 96.76 996.7 95.7 C1000.54 94.64 1004.1 93.2 1007.3 91.7 C1010.5 90.2 1013.71 87.69 1016.7 86.3 C1019.69 84.91 1022.8 83.77 1026 83 C1029.2 82.23 1033.39 81.87 1036.7 81.5 C1040.01 81.13 1042.97 80.89 1046.7 80.7 C1050.43 80.51 1056.16 80.78 1060 80.3 C1063.84 79.82 1067.5 78.66 1070.7 77.7 C1073.9 76.74 1077.02 75.16 1080 74.3 C1082.98 73.44 1086.1 72.94 1089.3 72.3 C1092.5 71.66 1095.89 70.99 1100 70.3 C1104.11 69.61 1112.6 68.37 1115 68" fill="none" stroke="#ee8030" stroke-width="0.55" stroke-opacity="0.75" stroke-linejoin="round" />
<path d="M1.49 219.51 L7.06 219.52 L12.63 219.67 L18.19 219.52 L23.76 219.32 L29.33 219.3 L34.9 219.37 L40.46 219.66 L46.03 220.39 L51.6 220.63 L57.17 220.95 L62.74 224.58 L68.3 228.73 L73.87 236.09 L79.44 244.98 L85.01 250.92 L90.57 254.71 L96.14 257.59 L101.71 260.58 L107.28 264.73 L112.84 268.44 L118.41 268.79 L123.98 268.93 L129.55 266.54 L135.11 262.15 L140.68 260.08 L146.25 259.87 L151.82 260.42 L157.38 260.46 L162.95 259.28 L168.52 258.42 L174.09 257.25 L179.65 254.86 L185.22 252.22 L190.79 249.5 L196.36 246.9 L201.93 243.8 L207.49 240.63 L213.06 237.79 L218.63 235.67 L224.2 232.9 L229.76 230.2 L235.33 228.6 L240.9 226.65 L246.47 224.82 L252.03 223.02 L257.6 221.89 L263.17 220.76 L268.74 219.56 L274.3 218.08 L279.87 216.85 L285.44 215.98 L291.01 214.98 L296.57 214.57 L302.14 215.34 L307.71 216.24 L313.28 217.23 L318.84 217.82 L324.41 218.42 L329.98 218.36 L335.55 218.33 L341.12 218.26 L346.68 217.82 L352.25 217.15 L357.82 215.44 L363.39 213.51 L368.95 211.55 L374.52 210.09 L380.09 208.05 L385.66 206.56 L391.22 205.49 L396.79 204.09 L402.36 203 L407.93 201.5 L413.49 199.84 L419.06 198.04 L424.63 195.64 L430.2 192.61 L435.76 189.35 L441.33 185.86 L446.9 182.7 L452.47 179.3 L458.03 175.2 L463.6 171.15 L469.17 168.02 L474.74 164.52 L480.31 161.46 L485.87 158.59 L491.44 155.88 L497.01 152.63 L502.58 151.39 L508.14 150.13 L513.71 149.63 L519.28 149.68 L524.85 148.08 L530.41 146.61 L535.98 144.3 L541.55 142.07 L547.12 140.01 L552.68 138.48 L558.25 134.18 L563.82 130.34 L569.39 125.2 L574.95 120.14 L580.52 116.06 L586.09 112.06 L591.66 108.63 L597.22 104.59 L602.79 102.35 L608.36 101.78 L613.93 99.55 L619.5 97.22 L625.06 95.69 L630.63 93.73 L636.2 92.03 L641.77 90.46 L647.33 90.34 L652.9 92.68 L658.47 92.96 L664.04 91.79 L669.6 92.19 L675.17 92.42 L680.74 92.29 L686.31 92.31 L691.87 92.69 L697.44 93.86 L703.01 94.25 L708.58 93.95 L714.14 94.01 L719.71 93.51 L725.28 93.17 L730.85 93.4 L736.41 94.09 L741.98 94.89 L747.55 95.13 L753.12 95.56 L758.69 96.02 L764.25 93.72 L769.82 91.89 L775.39 90.36 L780.96 88.5 L786.52 85.27 L792.09 81.58 L797.66 77.75 L803.23 74.27 L808.79 69.97 L814.36 66.77 L819.93 68.94 L825.5 69.74 L831.06 70.47 L836.63 71.54 L842.2 73.98 L847.77 78.15 L853.33 81.21 L858.9 84.18 L864.47 87.85 L870.04 91.25 L875.6 91.98 L881.17 92.41 L886.74 93.31 L892.31 95.04 L897.88 98.16 L903.44 100.89 L909.01 104.13 L914.58 105.9 L920.15 107.36 L925.71 107.53 L931.28 106.19 L936.85 105.89 L942.42 106.19 L947.98 105.63 L953.55 103.51 L959.12 100.24 L964.69 97.77 L970.25 95.93 L975.82 93.93 L981.39 91.86 L986.96 90.03 L992.52 87.86 L998.09 84.66 L1003.66 81.59 L1009.23 78.39 L1014.79 75.16 L1020.36 71.86 L1025.93 70.4 L1031.5 69.89 L1037.07 71.54 L1042.63 73.54 L1048.2 74.94 L1053.77 77.11 L1059.34 79.31 L1064.9 80.68 L1070.47 80.81 L1076.04 79.91 L1081.61 77.69 L1087.17 76.04 L1092.74 72.96 L1098.31 68.96 L1103.88 65.7 L1109.44 61.53 L1115.01 57.4" fill="none" stroke="#2e5fe8" stroke-width="0.55" stroke-opacity="0.85" stroke-linejoin="round" />
<path d="M1.49 219.52 L7.06 219.54 L12.63 219.84 L18.19 219.54 L23.76 219.14 L29.33 219.08 L34.9 219.2 L40.46 219.48 L46.03 221.24 L51.6 222.12 L57.17 222.82 L62.74 229.96 L68.3 237.98 L73.87 250.94 L79.44 267.84 L85.01 279.02 L90.57 279.46 L96.14 277.2 L101.71 270.22 L107.28 261.62 L112.84 257.86 L118.41 258.12 L123.98 260.66 L129.55 262.86 L135.11 262.68 L140.68 262.3 L146.25 261.62 L151.82 260.18 L157.38 258.06 L162.95 255.88 L168.52 254.54 L174.09 252.88 L179.65 249.54 L185.22 246.38 L190.79 243.12 L196.36 239.26 L201.93 234.72 L207.49 231.72 L213.06 229.2 L218.63 228.22 L224.2 226.54 L229.76 225.68 L235.33 225.48 L240.9 224.1 L246.47 221.42 L252.03 219.5 L257.6 218.1 L263.17 216.04 L268.74 215.02 L274.3 214.74 L279.87 214.2 L285.44 213.86 L291.01 213.92 L296.57 214.12 L302.14 215.94 L307.71 218.28 L313.28 220.6 L318.84 221.72 L324.41 222.72 L329.98 220.78 L335.55 218.38 L341.12 215.92 L346.68 213.92 L352.25 211.58 L357.82 210.1 L363.39 208.64 L368.95 207.18 L374.52 206.26 L380.09 204.52 L385.66 203.02 L391.22 202.34 L396.79 201 L402.36 199.74 L407.93 198.48 L413.49 196.66 L419.06 193.74 L424.63 190.28 L430.2 185.48 L435.76 180.22 L441.33 175.06 L446.9 171.66 L452.47 168.32 L458.03 164.92 L463.6 162.08 L469.17 160.98 L474.74 157.38 L480.31 154.6 L485.87 152.26 L491.44 149.68 L497.01 144.28 L502.58 145.4 L508.14 145.66 L513.71 147 L519.28 149.68 L524.85 151.88 L530.41 147.82 L535.98 142.94 L541.55 137.14 L547.12 130.34 L552.68 125.08 L558.25 120.54 L563.82 117.74 L569.39 113.26 L574.95 109.94 L580.52 107.04 L586.09 103.58 L591.66 99.52 L597.22 95.92 L602.79 94.76 L608.36 96.52 L613.93 95.52 L619.5 94.92 L625.06 95.46 L630.63 92.7 L636.2 87.54 L641.77 85.4 L647.33 85.76 L652.9 89.9 L658.47 93.22 L664.04 96.04 L669.6 98.98 L675.17 99.08 L680.74 94.68 L686.31 91.4 L691.87 89.34 L697.44 88.74 L703.01 89.42 L708.58 93.22 L714.14 96.62 L719.71 97.68 L725.28 97.6 L730.85 97.38 L736.41 94.96 L741.98 93.16 L747.55 92.58 L753.12 93.52 L758.69 94.66 L764.25 92.48 L769.82 90.62 L775.39 88.14 L780.96 83.48 L786.52 75.88 L792.09 70.68 L797.66 64.88 L803.23 60.4 L808.79 56.46 L814.36 57.66 L819.93 67.2 L825.5 74.6 L831.06 80.54 L836.63 86.62 L842.2 90.3 L847.77 89.1 L853.33 87.82 L858.9 87.82 L864.47 89.08 L870.04 92.2 L875.6 94.86 L881.17 97 L886.74 98.8 L892.31 101 L897.88 104.12 L903.44 106.92 L909.01 111.26 L914.58 113 L920.15 113.72 L925.71 110.94 L931.28 105.46 L936.85 100.52 L942.42 99.38 L947.98 97.54 L953.55 96.08 L959.12 95.02 L964.69 95.02 L970.25 92.48 L975.82 90.32 L981.39 87.64 L986.96 85.04 L992.52 80.7 L998.09 76.84 L1003.66 72.86 L1009.23 69.14 L1014.79 65.28 L1020.36 63.02 L1025.93 63.96 L1031.5 66.92 L1037.07 73.94 L1042.63 81.8 L1048.2 86.86 L1053.77 90.26 L1059.34 91.7 L1064.9 87.42 L1070.47 79.82 L1076.04 72.96 L1081.61 65.12 L1087.17 60.38 L1092.74 58.5 L1098.31 58.1 L1103.88 58.44 L1109.44 57.94 L1115.01 54.42" fill="none" stroke="#4a8cf2" stroke-width="0.55" stroke-opacity="0.8" stroke-linejoin="round" />
<line x1="1" y1="45.7" x2="1172.5" y2="45.7" stroke="#37916f" stroke-width="0.4" stroke-dasharray="0.5 0.9" stroke-opacity="0.35"/>
<line x1="1.49" y1="217.6" x2="1.49" y2="220.2" stroke="#e23b47" stroke-width="0.5" stroke-opacity="0.8"/>
<rect x="-0.51" y="218.2" width="4.0" height="1.4" fill="#e23b47"/>
<line x1="7.06" y1="217.8" x2="7.06" y2="220.2" stroke="#e23b47" stroke-width="0.5" stroke-opacity="0.8"/>
<rect x="5.06" y="218.4" width="4.0" height="1.2" fill="#e23b47"/>
<line x1="12.63" y1="219.7" x2="12.63" y2="221.6" stroke="#e23b47" stroke-width="0.5" stroke-opacity="0.8"/>
<rect x="10.63" y="220.3" width="4.0" height="0.7" fill="#e23b47"/>
<line x1="18.19" y1="217.4" x2="18.19" y2="221.6" stroke="#37916f" stroke-width="0.5" stroke-opacity="0.8"/>
<rect x="16.19" y="218" width="4.0" height="3" fill="#37916f"/>
<line x1="23.76" y1="215.7" x2="23.76" y2="218.1" stroke="#e23b47" stroke-width="0.5" stroke-opacity="0.8"/>
<rect x="21.76" y="216.3" width="4.0" height="1.2" fill="#e23b47"/>
<line x1="29.33" y1="215.7" x2="29.33" y2="219.9" stroke="#e23b47" stroke-width="0.5" stroke-opacity="0.8"/>
<rect x="27.33" y="216.3" width="4.0" height="3" fill="#e23b47"/>
<line x1="34.9" y1="218.8" x2="34.9" y2="220.8" stroke="#e23b47" stroke-width="0.5" stroke-opacity="0.8"/>
<rect x="32.9" y="219.4" width="4.0" height="0.8" fill="#e23b47"/>
<line x1="40.46" y1="219.2" x2="40.46" y2="223" stroke="#e23b47" stroke-width="0.5" stroke-opacity="0.8"/>
<rect x="38.46" y="219.8" width="4.0" height="2.6" fill="#e23b47"/>
<line x1="46.03" y1="223.6" x2="46.03" y2="227.4" stroke="#e23b47" stroke-width="0.5" stroke-opacity="0.8"/>
<rect x="44.03" y="224.2" width="4.0" height="2.6" fill="#e23b47"/>
<line x1="51.6" y1="221.3" x2="51.6" y2="224.2" stroke="#37916f" stroke-width="0.5" stroke-opacity="0.8"/>
<rect x="49.6" y="221.9" width="4.0" height="1.7" fill="#37916f"/>
<line x1="57.17" y1="220.1" x2="57.17" y2="223.4" stroke="#e23b47" stroke-width="0.5" stroke-opacity="0.8"/>
<rect x="55.17" y="220.7" width="4.0" height="2.1" fill="#e23b47"/>
<line x1="62.74" y1="238.7" x2="62.74" y2="256.5" stroke="#e23b47" stroke-width="0.5" stroke-opacity="0.8"/>
<rect x="60.74" y="239.3" width="4.0" height="16.6" fill="#e23b47"/>
<line x1="68.3" y1="261.9" x2="68.3" y2="282.3" stroke="#37916f" stroke-width="0.5" stroke-opacity="0.8"/>
<rect x="66.3" y="262.5" width="4.0" height="19.2" fill="#37916f"/>
<line x1="73.87" y1="276.2" x2="73.87" y2="292.2" stroke="#e23b47" stroke-width="0.5" stroke-opacity="0.8"/>
<rect x="71.87" y="276.8" width="4.0" height="14.8" fill="#e23b47"/>
<line x1="79.44" y1="289.1" x2="79.44" y2="314.8" stroke="#37916f" stroke-width="0.5" stroke-opacity="0.8"/>
<rect x="77.44" y="306.4" width="4.0" height="7.8" fill="#37916f"/>
<line x1="85.01" y1="278.1" x2="85.01" y2="279.9" stroke="#8d949e" stroke-width="0.5" stroke-opacity="0.8"/>
<rect x="83.01" y="278.7" width="4.0" height="0.6" fill="#8d949e"/>
<line x1="90.57" y1="257.5" x2="90.57" y2="272.7" stroke="#37916f" stroke-width="0.5" stroke-opacity="0.8"/>
<rect x="88.57" y="258.1" width="4.0" height="14" fill="#37916f"/>
<line x1="96.14" y1="250.6" x2="96.14" y2="255.5" stroke="#37916f" stroke-width="0.5" stroke-opacity="0.8"/>
<rect x="94.14" y="251.2" width="4.0" height="2.1" fill="#37916f"/>
<line x1="101.71" y1="249.4" x2="101.71" y2="257.3" stroke="#e23b47" stroke-width="0.5" stroke-opacity="0.8"/>
<rect x="99.71" y="254.3" width="4.0" height="2.4" fill="#e23b47"/>
<line x1="107.28" y1="256.3" x2="107.28" y2="264" stroke="#e23b47" stroke-width="0.5" stroke-opacity="0.8"/>
<rect x="105.28" y="256.9" width="4.0" height="6.5" fill="#e23b47"/>
<line x1="112.84" y1="259.3" x2="112.84" y2="266.9" stroke="#37916f" stroke-width="0.5" stroke-opacity="0.8"/>
<rect x="110.84" y="259.9" width="4.0" height="6.4" fill="#37916f"/>
<line x1="118.41" y1="248.6" x2="118.41" y2="260" stroke="#e23b47" stroke-width="0.5" stroke-opacity="0.8"/>
<rect x="116.41" y="255.9" width="4.0" height="3.5" fill="#e23b47"/>
<line x1="123.98" y1="258.4" x2="123.98" y2="264.5" stroke="#e23b47" stroke-width="0.5" stroke-opacity="0.8"/>
<rect x="121.98" y="259" width="4.0" height="4.9" fill="#e23b47"/>
<line x1="129.55" y1="265" x2="129.55" y2="290.4" stroke="#e23b47" stroke-width="0.5" stroke-opacity="0.8"/>
<rect x="127.55" y="265.6" width="4.0" height="2.1" fill="#e23b47"/>
<line x1="135.11" y1="260.1" x2="135.11" y2="263.1" stroke="#e23b47" stroke-width="0.5" stroke-opacity="0.8"/>
<rect x="133.11" y="260.7" width="4.0" height="1.8" fill="#e23b47"/>
<line x1="140.68" y1="257.4" x2="140.68" y2="262.6" stroke="#37916f" stroke-width="0.5" stroke-opacity="0.8"/>
<rect x="138.68" y="258" width="4.0" height="4" fill="#37916f"/>
<line x1="146.25" y1="255.4" x2="146.25" y2="261.3" stroke="#37916f" stroke-width="0.5" stroke-opacity="0.8"/>
<rect x="144.25" y="256" width="4.0" height="1" fill="#37916f"/>
<line x1="151.82" y1="253.1" x2="151.82" y2="257.3" stroke="#e23b47" stroke-width="0.5" stroke-opacity="0.8"/>
<rect x="149.82" y="253.7" width="4.0" height="3" fill="#e23b47"/>
<line x1="157.38" y1="255.7" x2="157.38" y2="257.7" stroke="#e23b47" stroke-width="0.5" stroke-opacity="0.8"/>
<rect x="155.38" y="256.3" width="4.0" height="0.8" fill="#e23b47"/>
<line x1="162.95" y1="251" x2="162.95" y2="254.6" stroke="#37916f" stroke-width="0.5" stroke-opacity="0.8"/>
<rect x="160.95" y="251.6" width="4.0" height="2.4" fill="#37916f"/>
<line x1="168.52" y1="248" x2="168.52" y2="251.9" stroke="#e23b47" stroke-width="0.5" stroke-opacity="0.8"/>
<rect x="166.52" y="249.6" width="4.0" height="1.7" fill="#e23b47"/>
<line x1="174.09" y1="247.1" x2="174.09" y2="252.6" stroke="#37916f" stroke-width="0.5" stroke-opacity="0.8"/>
<rect x="172.09" y="247.7" width="4.0" height="4.3" fill="#37916f"/>
<line x1="179.65" y1="239.4" x2="179.65" y2="246.3" stroke="#37916f" stroke-width="0.5" stroke-opacity="0.8"/>
<rect x="177.65" y="240" width="4.0" height="5.7" fill="#37916f"/>
<line x1="185.22" y1="238.4" x2="185.22" y2="241.9" stroke="#e23b47" stroke-width="0.5" stroke-opacity="0.8"/>
<rect x="183.22" y="239" width="4.0" height="2.3" fill="#e23b47"/>
<line x1="190.79" y1="234.7" x2="190.79" y2="240.6" stroke="#37916f" stroke-width="0.5" stroke-opacity="0.8"/>
<rect x="188.79" y="235.3" width="4.0" height="4.7" fill="#37916f"/>
<line x1="196.36" y1="231.3" x2="196.36" y2="234.7" stroke="#8d949e" stroke-width="0.5" stroke-opacity="0.8"/>
<rect x="194.36" y="232" width="4.0" height="0.8" fill="#8d949e"/>
<line x1="201.93" y1="224.4" x2="201.93" y2="231.6" stroke="#37916f" stroke-width="0.5" stroke-opacity="0.8"/>
<rect x="199.93" y="225" width="4.0" height="6" fill="#37916f"/>
<line x1="207.49" y1="223.1" x2="207.49" y2="225.6" stroke="#e23b47" stroke-width="0.5" stroke-opacity="0.8"/>
<rect x="205.49" y="223.7" width="4.0" height="1.3" fill="#e23b47"/>
<line x1="213.06" y1="223.4" x2="213.06" y2="229.3" stroke="#e23b47" stroke-width="0.5" stroke-opacity="0.8"/>
<rect x="211.06" y="224" width="4.0" height="4.7" fill="#e23b47"/>
<line x1="218.63" y1="229.8" x2="218.63" y2="232.2" stroke="#37916f" stroke-width="0.5" stroke-opacity="0.8"/>
<rect x="216.63" y="230.4" width="4.0" height="1.2" fill="#37916f"/>
<line x1="224.2" y1="223" x2="224.2" y2="230.3" stroke="#37916f" stroke-width="0.5" stroke-opacity="0.8"/>
<rect x="222.2" y="223.6" width="4.0" height="6.1" fill="#37916f"/>
<line x1="229.76" y1="217.1" x2="229.76" y2="221.3" stroke="#e23b47" stroke-width="0.5" stroke-opacity="0.8"/>
<rect x="227.76" y="217.7" width="4.0" height="3" fill="#e23b47"/>
<line x1="235.33" y1="216.7" x2="235.33" y2="224.6" stroke="#e23b47" stroke-width="0.5" stroke-opacity="0.8"/>
<rect x="233.33" y="221.6" width="4.0" height="2.4" fill="#e23b47"/>
<line x1="240.9" y1="221.2" x2="240.9" y2="222.9" stroke="#8d949e" stroke-width="0.5" stroke-opacity="0.8"/>
<rect x="238.9" y="221.8" width="4.0" height="0.6" fill="#8d949e"/>
<line x1="246.47" y1="216.4" x2="246.47" y2="232.4" stroke="#37916f" stroke-width="0.5" stroke-opacity="0.8"/>
<rect x="244.47" y="217" width="4.0" height="6" fill="#37916f"/>
<line x1="252.03" y1="213.4" x2="252.03" y2="218.7" stroke="#37916f" stroke-width="0.5" stroke-opacity="0.8"/>
<rect x="250.03" y="214" width="4.0" height="0.8" fill="#37916f"/>
<line x1="257.6" y1="211.8" x2="257.6" y2="214.3" stroke="#e23b47" stroke-width="0.5" stroke-opacity="0.8"/>
<rect x="255.6" y="212.4" width="4.0" height="1.3" fill="#e23b47"/>
<line x1="263.17" y1="211.1" x2="263.17" y2="215.3" stroke="#e23b47" stroke-width="0.5" stroke-opacity="0.8"/>
<rect x="261.17" y="211.7" width="4.0" height="2" fill="#e23b47"/>
<line x1="268.74" y1="212.4" x2="268.74" y2="217.3" stroke="#e23b47" stroke-width="0.5" stroke-opacity="0.8"/>
<rect x="266.74" y="213" width="4.0" height="3.7" fill="#e23b47"/>
<line x1="274.3" y1="215" x2="274.3" y2="220.7" stroke="#37916f" stroke-width="0.5" stroke-opacity="0.8"/>
<rect x="272.3" y="215.6" width="4.0" height="2.7" fill="#37916f"/>
<line x1="279.87" y1="210.7" x2="279.87" y2="214.6" stroke="#37916f" stroke-width="0.5" stroke-opacity="0.8"/>
<rect x="277.87" y="211.3" width="4.0" height="2.7" fill="#37916f"/>
<line x1="285.44" y1="209.4" x2="285.44" y2="212.6" stroke="#e23b47" stroke-width="0.5" stroke-opacity="0.8"/>
<rect x="283.44" y="210" width="4.0" height="2" fill="#e23b47"/>
<line x1="291.01" y1="211.4" x2="291.01" y2="214.6" stroke="#e23b47" stroke-width="0.5" stroke-opacity="0.8"/>
<rect x="289.01" y="212" width="4.0" height="2" fill="#e23b47"/>
<line x1="296.57" y1="213.6" x2="296.57" y2="218.3" stroke="#e23b47" stroke-width="0.5" stroke-opacity="0.8"/>
<rect x="294.57" y="214.2" width="4.0" height="3.5" fill="#e23b47"/>
<line x1="302.14" y1="217.4" x2="302.14" y2="225.3" stroke="#e23b47" stroke-width="0.5" stroke-opacity="0.8"/>
<rect x="300.14" y="218" width="4.0" height="6.7" fill="#e23b47"/>
<line x1="307.71" y1="222.4" x2="307.71" y2="226.9" stroke="#37916f" stroke-width="0.5" stroke-opacity="0.8"/>
<rect x="305.71" y="223" width="4.0" height="3.3" fill="#37916f"/>
<line x1="313.28" y1="220.1" x2="313.28" y2="224.2" stroke="#e23b47" stroke-width="0.5" stroke-opacity="0.8"/>
<rect x="311.28" y="220.7" width="4.0" height="2.9" fill="#e23b47"/>
<line x1="318.84" y1="219" x2="318.84" y2="221.9" stroke="#37916f" stroke-width="0.5" stroke-opacity="0.8"/>
<rect x="316.84" y="219.6" width="4.0" height="1.7" fill="#37916f"/>
<line x1="324.41" y1="222.1" x2="324.41" y2="224.6" stroke="#8d949e" stroke-width="0.5" stroke-opacity="0.8"/>
<rect x="322.41" y="222.7" width="4.0" height="1.3" fill="#8d949e"/>
<line x1="329.98" y1="214.4" x2="329.98" y2="224.2" stroke="#37916f" stroke-width="0.5" stroke-opacity="0.8"/>
<rect x="327.98" y="215" width="4.0" height="8.6" fill="#37916f"/>
<line x1="335.55" y1="210.4" x2="335.55" y2="213.3" stroke="#37916f" stroke-width="0.5" stroke-opacity="0.8"/>
<rect x="333.55" y="211" width="4.0" height="1.7" fill="#37916f"/>
<line x1="341.12" y1="209.4" x2="341.12" y2="215.3" stroke="#e23b47" stroke-width="0.5" stroke-opacity="0.8"/>
<rect x="339.12" y="210" width="4.0" height="1.3" fill="#e23b47"/>
<line x1="346.68" y1="209" x2="346.68" y2="212.6" stroke="#37916f" stroke-width="0.5" stroke-opacity="0.8"/>
<rect x="344.68" y="209.6" width="4.0" height="2.4" fill="#37916f"/>
<line x1="352.25" y1="207.8" x2="352.25" y2="211.6" stroke="#e23b47" stroke-width="0.5" stroke-opacity="0.8"/>
<rect x="350.25" y="208.4" width="4.0" height="2.6" fill="#e23b47"/>
<line x1="357.82" y1="207" x2="357.82" y2="213" stroke="#37916f" stroke-width="0.5" stroke-opacity="0.8"/>
<rect x="355.82" y="207.6" width="4.0" height="4.8" fill="#37916f"/>
<line x1="363.39" y1="203.1" x2="363.39" y2="204.9" stroke="#8d949e" stroke-width="0.5" stroke-opacity="0.8"/>
<rect x="361.39" y="203.7" width="4.0" height="0.6" fill="#8d949e"/>
<line x1="368.95" y1="202.1" x2="368.95" y2="204.6" stroke="#e23b47" stroke-width="0.5" stroke-opacity="0.8"/>
<rect x="366.95" y="202.7" width="4.0" height="1.3" fill="#e23b47"/>
<line x1="374.52" y1="202.4" x2="374.52" y2="205.6" stroke="#e23b47" stroke-width="0.5" stroke-opacity="0.8"/>
<rect x="372.52" y="203" width="4.0" height="2" fill="#e23b47"/>
<line x1="380.09" y1="201.7" x2="380.09" y2="204.6" stroke="#37916f" stroke-width="0.5" stroke-opacity="0.8"/>
<rect x="378.09" y="202.3" width="4.0" height="1.7" fill="#37916f"/>
<line x1="385.66" y1="199.5" x2="385.66" y2="201.3" stroke="#8d949e" stroke-width="0.5" stroke-opacity="0.8"/>
<rect x="383.66" y="200.1" width="4.0" height="0.6" fill="#8d949e"/>
<line x1="391.22" y1="199" x2="391.22" y2="201.7" stroke="#e23b47" stroke-width="0.5" stroke-opacity="0.8"/>
<rect x="389.22" y="199.7" width="4.0" height="0.6" fill="#e23b47"/>
<line x1="396.79" y1="196.7" x2="396.79" y2="201" stroke="#37916f" stroke-width="0.5" stroke-opacity="0.8"/>
<rect x="394.79" y="197.3" width="4.0" height="3.1" fill="#37916f"/>
<line x1="402.36" y1="192.4" x2="402.36" y2="199.6" stroke="#8d949e" stroke-width="0.5" stroke-opacity="0.8"/>
<rect x="400.36" y="198.7" width="4.0" height="0.6" fill="#8d949e"/>
<line x1="407.93" y1="195.4" x2="407.93" y2="198.3" stroke="#37916f" stroke-width="0.5" stroke-opacity="0.8"/>
<rect x="405.93" y="196" width="4.0" height="1.7" fill="#37916f"/>
<line x1="413.49" y1="190.4" x2="413.49" y2="194.6" stroke="#37916f" stroke-width="0.5" stroke-opacity="0.8"/>
<rect x="411.49" y="191" width="4.0" height="3" fill="#37916f"/>
<line x1="419.06" y1="185.1" x2="419.06" y2="189.6" stroke="#37916f" stroke-width="0.5" stroke-opacity="0.8"/>
<rect x="417.06" y="185.7" width="4.0" height="3.3" fill="#37916f"/>
<line x1="424.63" y1="179.4" x2="424.63" y2="184.3" stroke="#37916f" stroke-width="0.5" stroke-opacity="0.8"/>
<rect x="422.63" y="180" width="4.0" height="3.7" fill="#37916f"/>
<line x1="430.2" y1="174.1" x2="430.2" y2="178.6" stroke="#37916f" stroke-width="0.5" stroke-opacity="0.8"/>
<rect x="428.2" y="174.7" width="4.0" height="3.3" fill="#37916f"/>
<line x1="435.76" y1="169.1" x2="435.76" y2="173.3" stroke="#37916f" stroke-width="0.5" stroke-opacity="0.8"/>
<rect x="433.76" y="169.7" width="4.0" height="3" fill="#37916f"/>
<line x1="441.33" y1="163.7" x2="441.33" y2="168" stroke="#e23b47" stroke-width="0.5" stroke-opacity="0.8"/>
<rect x="439.33" y="164.3" width="4.0" height="0.9" fill="#e23b47"/>
<line x1="446.9" y1="163.1" x2="446.9" y2="169.3" stroke="#e23b47" stroke-width="0.5" stroke-opacity="0.8"/>
<rect x="444.9" y="163.7" width="4.0" height="5" fill="#e23b47"/>
<line x1="452.47" y1="162.7" x2="452.47" y2="169.6" stroke="#37916f" stroke-width="0.5" stroke-opacity="0.8"/>
<rect x="450.47" y="163.3" width="4.0" height="5.7" fill="#37916f"/>
<line x1="458.03" y1="157.1" x2="458.03" y2="161.2" stroke="#37916f" stroke-width="0.5" stroke-opacity="0.8"/>
<rect x="456.03" y="157.7" width="4.0" height="2.9" fill="#37916f"/>
<line x1="463.6" y1="153.7" x2="463.6" y2="159" stroke="#e23b47" stroke-width="0.5" stroke-opacity="0.8"/>
<rect x="461.6" y="154.7" width="4.0" height="0.8" fill="#e23b47"/>
<line x1="469.17" y1="150.4" x2="469.17" y2="160.3" stroke="#e23b47" stroke-width="0.5" stroke-opacity="0.8"/>
<rect x="467.17" y="151" width="4.0" height="8.7" fill="#e23b47"/>
<line x1="474.74" y1="150.1" x2="474.74" y2="160.3" stroke="#37916f" stroke-width="0.5" stroke-opacity="0.8"/>
<rect x="472.74" y="150.7" width="4.0" height="9" fill="#37916f"/>
<line x1="480.31" y1="146" x2="480.31" y2="150" stroke="#e23b47" stroke-width="0.5" stroke-opacity="0.8"/>
<rect x="478.31" y="146.6" width="4.0" height="2.8" fill="#e23b47"/>
<line x1="485.87" y1="144.3" x2="485.87" y2="151" stroke="#8d949e" stroke-width="0.5" stroke-opacity="0.8"/>
<rect x="483.87" y="146" width="4.0" height="0.6" fill="#8d949e"/>
<line x1="491.44" y1="142" x2="491.44" y2="146.3" stroke="#37916f" stroke-width="0.5" stroke-opacity="0.8"/>
<rect x="489.44" y="142.6" width="4.0" height="3.1" fill="#37916f"/>
<line x1="497.01" y1="132.1" x2="497.01" y2="138.9" stroke="#37916f" stroke-width="0.5" stroke-opacity="0.8"/>
<rect x="495.01" y="132.7" width="4.0" height="5.6" fill="#37916f"/>
<line x1="502.58" y1="129.7" x2="502.58" y2="156.9" stroke="#e23b47" stroke-width="0.5" stroke-opacity="0.8"/>
<rect x="500.58" y="130.3" width="4.0" height="26" fill="#e23b47"/>
<line x1="508.14" y1="150.1" x2="508.14" y2="159.7" stroke="#37916f" stroke-width="0.5" stroke-opacity="0.8"/>
<rect x="506.14" y="150.7" width="4.0" height="2.7" fill="#37916f"/>
<line x1="513.71" y1="145.4" x2="513.71" y2="157.7" stroke="#e23b47" stroke-width="0.5" stroke-opacity="0.8"/>
<rect x="511.71" y="146" width="4.0" height="6.7" fill="#e23b47"/>
<line x1="519.28" y1="151.4" x2="519.28" y2="159" stroke="#e23b47" stroke-width="0.5" stroke-opacity="0.8"/>
<rect x="517.28" y="152" width="4.0" height="4" fill="#e23b47"/>
<line x1="524.85" y1="143.1" x2="524.85" y2="157.2" stroke="#37916f" stroke-width="0.5" stroke-opacity="0.8"/>
<rect x="522.85" y="143.7" width="4.0" height="12.9" fill="#37916f"/>
<line x1="530.41" y1="122.3" x2="530.41" y2="143.7" stroke="#8d949e" stroke-width="0.5" stroke-opacity="0.8"/>
<rect x="528.41" y="136" width="4.0" height="0.6" fill="#8d949e"/>
<line x1="535.98" y1="125.7" x2="535.98" y2="132.6" stroke="#37916f" stroke-width="0.5" stroke-opacity="0.8"/>
<rect x="533.98" y="126.3" width="4.0" height="5.7" fill="#37916f"/>
<line x1="541.55" y1="120.8" x2="541.55" y2="127" stroke="#e23b47" stroke-width="0.5" stroke-opacity="0.8"/>
<rect x="539.55" y="121.4" width="4.0" height="2.3" fill="#e23b47"/>
<line x1="547.12" y1="119.7" x2="547.12" y2="127.7" stroke="#e23b47" stroke-width="0.5" stroke-opacity="0.8"/>
<rect x="545.12" y="120.3" width="4.0" height="1.7" fill="#e23b47"/>
<line x1="552.68" y1="116.8" x2="552.68" y2="120.6" stroke="#37916f" stroke-width="0.5" stroke-opacity="0.8"/>
<rect x="550.68" y="117.4" width="4.0" height="2.6" fill="#37916f"/>
<line x1="558.25" y1="112.7" x2="558.25" y2="119" stroke="#37916f" stroke-width="0.5" stroke-opacity="0.8"/>
<rect x="556.25" y="113.3" width="4.0" height="1.7" fill="#37916f"/>
<line x1="563.82" y1="109.7" x2="563.82" y2="121" stroke="#e23b47" stroke-width="0.5" stroke-opacity="0.8"/>
<rect x="561.82" y="110.3" width="4.0" height="2" fill="#e23b47"/>
<line x1="569.39" y1="100.7" x2="569.39" y2="106.4" stroke="#37916f" stroke-width="0.5" stroke-opacity="0.8"/>
<rect x="567.39" y="101.3" width="4.0" height="4.5" fill="#37916f"/>
<line x1="574.95" y1="91.7" x2="574.95" y2="106" stroke="#e23b47" stroke-width="0.5" stroke-opacity="0.8"/>
<rect x="572.95" y="94.6" width="4.0" height="10.8" fill="#e23b47"/>
<line x1="580.52" y1="100.2" x2="580.52" y2="103.5" stroke="#e23b47" stroke-width="0.5" stroke-opacity="0.8"/>
<rect x="578.52" y="100.8" width="4.0" height="2.1" fill="#e23b47"/>
<line x1="586.09" y1="95.4" x2="586.09" y2="99.6" stroke="#37916f" stroke-width="0.5" stroke-opacity="0.8"/>
<rect x="584.09" y="96" width="4.0" height="3" fill="#37916f"/>
<line x1="591.66" y1="91.3" x2="591.66" y2="107.3" stroke="#37916f" stroke-width="0.5" stroke-opacity="0.8"/>
<rect x="589.66" y="92" width="4.0" height="1.3" fill="#37916f"/>
<line x1="597.22" y1="82.7" x2="597.22" y2="88.5" stroke="#37916f" stroke-width="0.5" stroke-opacity="0.8"/>
<rect x="595.22" y="83.3" width="4.0" height="4.6" fill="#37916f"/>
<line x1="602.79" y1="82" x2="602.79" y2="104.7" stroke="#e23b47" stroke-width="0.5" stroke-opacity="0.8"/>
<rect x="600.79" y="86.3" width="4.0" height="13.3" fill="#e23b47"/>
<line x1="608.36" y1="93.6" x2="608.36" y2="112.3" stroke="#e23b47" stroke-width="0.5" stroke-opacity="0.8"/>
<rect x="606.36" y="94.2" width="4.0" height="17.5" fill="#e23b47"/>
<line x1="613.93" y1="90.4" x2="613.93" y2="112.6" stroke="#37916f" stroke-width="0.5" stroke-opacity="0.8"/>
<rect x="611.93" y="91" width="4.0" height="21" fill="#37916f"/>
<line x1="619.5" y1="80" x2="619.5" y2="89.6" stroke="#e23b47" stroke-width="0.5" stroke-opacity="0.8"/>
<rect x="617.5" y="86.7" width="4.0" height="2.3" fill="#e23b47"/>
<line x1="625.06" y1="85.4" x2="625.06" y2="95.4" stroke="#37916f" stroke-width="0.5" stroke-opacity="0.8"/>
<rect x="623.06" y="86" width="4.0" height="0.8" fill="#37916f"/>
<line x1="630.63" y1="81.9" x2="630.63" y2="86.4" stroke="#e23b47" stroke-width="0.5" stroke-opacity="0.8"/>
<rect x="628.63" y="82.5" width="4.0" height="3.3" fill="#e23b47"/>
<line x1="636.2" y1="85.3" x2="636.2" y2="87.1" stroke="#8d949e" stroke-width="0.5" stroke-opacity="0.8"/>
<rect x="634.2" y="85.9" width="4.0" height="0.6" fill="#8d949e"/>
<line x1="641.77" y1="79.7" x2="641.77" y2="84.4" stroke="#37916f" stroke-width="0.5" stroke-opacity="0.8"/>
<rect x="639.77" y="80.3" width="4.0" height="3.5" fill="#37916f"/>
<line x1="647.33" y1="74.7" x2="647.33" y2="91.4" stroke="#e23b47" stroke-width="0.5" stroke-opacity="0.8"/>
<rect x="645.33" y="77" width="4.0" height="13.8" fill="#e23b47"/>
<line x1="652.9" y1="92.7" x2="652.9" y2="107.3" stroke="#e23b47" stroke-width="0.5" stroke-opacity="0.8"/>
<rect x="650.9" y="93.3" width="4.0" height="13.4" fill="#e23b47"/>
<line x1="658.47" y1="101.8" x2="658.47" y2="110.7" stroke="#37916f" stroke-width="0.5" stroke-opacity="0.8"/>
<rect x="656.47" y="102.4" width="4.0" height="2.9" fill="#37916f"/>
<line x1="664.04" y1="98.7" x2="664.04" y2="106" stroke="#e23b47" stroke-width="0.5" stroke-opacity="0.8"/>
<rect x="662.04" y="99.3" width="4.0" height="0.7" fill="#e23b47"/>
<line x1="669.6" y1="94.4" x2="669.6" y2="113.3" stroke="#37916f" stroke-width="0.5" stroke-opacity="0.8"/>
<rect x="667.6" y="95" width="4.0" height="6.7" fill="#37916f"/>
<line x1="675.17" y1="90.7" x2="675.17" y2="93.9" stroke="#37916f" stroke-width="0.5" stroke-opacity="0.8"/>
<rect x="673.17" y="91.3" width="4.0" height="2" fill="#37916f"/>
<line x1="680.74" y1="84.1" x2="680.74" y2="90.2" stroke="#37916f" stroke-width="0.5" stroke-opacity="0.8"/>
<rect x="678.74" y="84.7" width="4.0" height="4.9" fill="#37916f"/>
<line x1="686.31" y1="79.8" x2="686.31" y2="86.6" stroke="#e23b47" stroke-width="0.5" stroke-opacity="0.8"/>
<rect x="684.31" y="80.4" width="4.0" height="5.6" fill="#e23b47"/>
<line x1="691.87" y1="84" x2="691.87" y2="90.3" stroke="#e23b47" stroke-width="0.5" stroke-opacity="0.8"/>
<rect x="689.87" y="87" width="4.0" height="2.7" fill="#e23b47"/>
<line x1="697.44" y1="87.7" x2="697.44" y2="95.3" stroke="#e23b47" stroke-width="0.5" stroke-opacity="0.8"/>
<rect x="695.44" y="88.3" width="4.0" height="3.7" fill="#e23b47"/>
<line x1="703.01" y1="88.7" x2="703.01" y2="101.3" stroke="#e23b47" stroke-width="0.5" stroke-opacity="0.8"/>
<rect x="701.01" y="89.3" width="4.0" height="5.4" fill="#e23b47"/>
<line x1="708.58" y1="94.7" x2="708.58" y2="110.7" stroke="#e23b47" stroke-width="0.5" stroke-opacity="0.8"/>
<rect x="706.58" y="95.3" width="4.0" height="8.4" fill="#e23b47"/>
<line x1="714.14" y1="100.7" x2="714.14" y2="109.3" stroke="#8d949e" stroke-width="0.5" stroke-opacity="0.8"/>
<rect x="712.14" y="103" width="4.0" height="0.6" fill="#8d949e"/>
<line x1="719.71" y1="94.4" x2="719.71" y2="108" stroke="#37916f" stroke-width="0.5" stroke-opacity="0.8"/>
<rect x="717.71" y="95" width="4.0" height="8.3" fill="#37916f"/>
<line x1="725.28" y1="91" x2="725.28" y2="93.9" stroke="#37916f" stroke-width="0.5" stroke-opacity="0.8"/>
<rect x="723.28" y="91.6" width="4.0" height="1.7" fill="#37916f"/>
<line x1="730.85" y1="91" x2="730.85" y2="94.2" stroke="#e23b47" stroke-width="0.5" stroke-opacity="0.8"/>
<rect x="728.85" y="91.6" width="4.0" height="2" fill="#e23b47"/>
<line x1="736.41" y1="88.7" x2="736.41" y2="95" stroke="#37916f" stroke-width="0.5" stroke-opacity="0.8"/>
<rect x="734.41" y="91.6" width="4.0" height="2.8" fill="#37916f"/>
<line x1="741.98" y1="88" x2="741.98" y2="98.7" stroke="#e23b47" stroke-width="0.5" stroke-opacity="0.8"/>
<rect x="739.98" y="91" width="4.0" height="3" fill="#e23b47"/>
<line x1="747.55" y1="90.7" x2="747.55" y2="95.3" stroke="#8d949e" stroke-width="0.5" stroke-opacity="0.8"/>
<rect x="745.55" y="92.1" width="4.0" height="0.6" fill="#8d949e"/>
<line x1="753.12" y1="87.3" x2="753.12" y2="96.9" stroke="#e23b47" stroke-width="0.5" stroke-opacity="0.8"/>
<rect x="751.12" y="91" width="4.0" height="5.3" fill="#e23b47"/>
<line x1="758.69" y1="96.1" x2="758.69" y2="101.3" stroke="#e23b47" stroke-width="0.5" stroke-opacity="0.8"/>
<rect x="756.69" y="96.7" width="4.0" height="2.6" fill="#e23b47"/>
<line x1="764.25" y1="80.1" x2="764.25" y2="92" stroke="#37916f" stroke-width="0.5" stroke-opacity="0.8"/>
<rect x="762.25" y="80.7" width="4.0" height="8.3" fill="#37916f"/>
<line x1="769.82" y1="77.4" x2="769.82" y2="85.3" stroke="#e23b47" stroke-width="0.5" stroke-opacity="0.8"/>
<rect x="767.82" y="78" width="4.0" height="6.7" fill="#e23b47"/>
<line x1="775.39" y1="77.8" x2="775.39" y2="86" stroke="#e23b47" stroke-width="0.5" stroke-opacity="0.8"/>
<rect x="773.39" y="78.4" width="4.0" height="1.3" fill="#e23b47"/>
<line x1="780.96" y1="72.4" x2="780.96" y2="78.3" stroke="#37916f" stroke-width="0.5" stroke-opacity="0.8"/>
<rect x="778.96" y="73" width="4.0" height="4.7" fill="#37916f"/>
<line x1="786.52" y1="60.7" x2="786.52" y2="70.2" stroke="#37916f" stroke-width="0.5" stroke-opacity="0.8"/>
<rect x="784.52" y="61.3" width="4.0" height="8.3" fill="#37916f"/>
<line x1="792.09" y1="54.1" x2="792.09" y2="65" stroke="#37916f" stroke-width="0.5" stroke-opacity="0.8"/>
<rect x="790.09" y="54.7" width="4.0" height="9.7" fill="#37916f"/>
<line x1="797.66" y1="44.7" x2="797.66" y2="56.3" stroke="#e23b47" stroke-width="0.5" stroke-opacity="0.8"/>
<rect x="795.66" y="48" width="4.0" height="7.7" fill="#e23b47"/>
<line x1="803.23" y1="53.4" x2="803.23" y2="57.9" stroke="#e23b47" stroke-width="0.5" stroke-opacity="0.8"/>
<rect x="801.23" y="54" width="4.0" height="3.3" fill="#e23b47"/>
<line x1="808.79" y1="52.7" x2="808.79" y2="57.3" stroke="#37916f" stroke-width="0.5" stroke-opacity="0.8"/>
<rect x="806.79" y="53.3" width="4.0" height="1.1" fill="#37916f"/>
<line x1="814.36" y1="51.1" x2="814.36" y2="67.9" stroke="#e23b47" stroke-width="0.5" stroke-opacity="0.8"/>
<rect x="812.36" y="51.7" width="4.0" height="15.6" fill="#e23b47"/>
<line x1="819.93" y1="69.4" x2="819.93" y2="103" stroke="#e23b47" stroke-width="0.5" stroke-opacity="0.8"/>
<rect x="817.93" y="70" width="4.0" height="32.4" fill="#e23b47"/>
<line x1="825.5" y1="88.7" x2="825.5" y2="107.3" stroke="#37916f" stroke-width="0.5" stroke-opacity="0.8"/>
<rect x="823.5" y="92.7" width="4.0" height="8.3" fill="#37916f"/>
<line x1="831.06" y1="86" x2="831.06" y2="105.3" stroke="#e23b47" stroke-width="0.5" stroke-opacity="0.8"/>
<rect x="829.06" y="86.4" width="4.0" height="0.6" fill="#e23b47"/>
<line x1="836.63" y1="81.3" x2="836.63" y2="87" stroke="#37916f" stroke-width="0.5" stroke-opacity="0.8"/>
<rect x="834.63" y="83.7" width="4.0" height="2.7" fill="#37916f"/>
<line x1="842.2" y1="83.8" x2="842.2" y2="93.3" stroke="#e23b47" stroke-width="0.5" stroke-opacity="0.8"/>
<rect x="840.2" y="84.4" width="4.0" height="1.3" fill="#e23b47"/>
<line x1="847.77" y1="79.4" x2="847.77" y2="97" stroke="#e23b47" stroke-width="0.5" stroke-opacity="0.8"/>
<rect x="845.77" y="80" width="4.0" height="16.4" fill="#e23b47"/>
<line x1="853.33" y1="85.7" x2="853.33" y2="107.3" stroke="#37916f" stroke-width="0.5" stroke-opacity="0.8"/>
<rect x="851.33" y="86.3" width="4.0" height="12.1" fill="#37916f"/>
<line x1="858.9" y1="81.3" x2="858.9" y2="88" stroke="#e23b47" stroke-width="0.5" stroke-opacity="0.8"/>
<rect x="856.9" y="86.4" width="4.0" height="0.6" fill="#e23b47"/>
<line x1="864.47" y1="82.4" x2="864.47" y2="90.6" stroke="#e23b47" stroke-width="0.5" stroke-opacity="0.8"/>
<rect x="862.47" y="83" width="4.0" height="7" fill="#e23b47"/>
<line x1="870.04" y1="89.8" x2="870.04" y2="101.9" stroke="#e23b47" stroke-width="0.5" stroke-opacity="0.8"/>
<rect x="868.04" y="90.4" width="4.0" height="10.9" fill="#e23b47"/>
<line x1="875.6" y1="99.4" x2="875.6" y2="110.3" stroke="#e23b47" stroke-width="0.5" stroke-opacity="0.8"/>
<rect x="873.6" y="100" width="4.0" height="9.7" fill="#e23b47"/>
<line x1="881.17" y1="96.4" x2="881.17" y2="115.3" stroke="#37916f" stroke-width="0.5" stroke-opacity="0.8"/>
<rect x="879.17" y="97" width="4.0" height="12.7" fill="#37916f"/>
<line x1="886.74" y1="95.4" x2="886.74" y2="101.3" stroke="#37916f" stroke-width="0.5" stroke-opacity="0.8"/>
<rect x="884.74" y="96" width="4.0" height="2.7" fill="#37916f"/>
<line x1="892.31" y1="94.4" x2="892.31" y2="101.6" stroke="#e23b47" stroke-width="0.5" stroke-opacity="0.8"/>
<rect x="890.31" y="95" width="4.0" height="6" fill="#e23b47"/>
<line x1="897.88" y1="102.4" x2="897.88" y2="117.5" stroke="#e23b47" stroke-width="0.5" stroke-opacity="0.8"/>
<rect x="895.88" y="103" width="4.0" height="13.9" fill="#e23b47"/>
<line x1="903.44" y1="113" x2="903.44" y2="124.3" stroke="#e23b47" stroke-width="0.5" stroke-opacity="0.8"/>
<rect x="901.44" y="117" width="4.0" height="6.7" fill="#e23b47"/>
<line x1="909.01" y1="118.1" x2="909.01" y2="125" stroke="#37916f" stroke-width="0.5" stroke-opacity="0.8"/>
<rect x="907.01" y="118.7" width="4.0" height="3.6" fill="#37916f"/>
<line x1="914.58" y1="104.1" x2="914.58" y2="118" stroke="#37916f" stroke-width="0.5" stroke-opacity="0.8"/>
<rect x="912.58" y="104.7" width="4.0" height="12.7" fill="#37916f"/>
<line x1="920.15" y1="101.7" x2="920.15" y2="107" stroke="#e23b47" stroke-width="0.5" stroke-opacity="0.8"/>
<rect x="918.15" y="104" width="4.0" height="0.6" fill="#e23b47"/>
<line x1="925.71" y1="102.4" x2="925.71" y2="107.6" stroke="#37916f" stroke-width="0.5" stroke-opacity="0.8"/>
<rect x="923.71" y="103" width="4.0" height="4" fill="#37916f"/>
<line x1="931.28" y1="95.7" x2="931.28" y2="101.6" stroke="#37916f" stroke-width="0.5" stroke-opacity="0.8"/>
<rect x="929.28" y="96.3" width="4.0" height="4.7" fill="#37916f"/>
<line x1="936.85" y1="93.4" x2="936.85" y2="99.7" stroke="#8d949e" stroke-width="0.5" stroke-opacity="0.8"/>
<rect x="934.85" y="94" width="4.0" height="0.6" fill="#8d949e"/>
<line x1="942.42" y1="93.7" x2="942.42" y2="99.6" stroke="#e23b47" stroke-width="0.5" stroke-opacity="0.8"/>
<rect x="940.42" y="94.3" width="4.0" height="4.7" fill="#e23b47"/>
<line x1="947.98" y1="94.8" x2="947.98" y2="97.6" stroke="#37916f" stroke-width="0.5" stroke-opacity="0.8"/>
<rect x="945.98" y="95.4" width="4.0" height="1.6" fill="#37916f"/>
<line x1="953.55" y1="95.1" x2="953.55" y2="100" stroke="#37916f" stroke-width="0.5" stroke-opacity="0.8"/>
<rect x="951.55" y="95.7" width="4.0" height="3.7" fill="#37916f"/>
<line x1="959.12" y1="90.4" x2="959.12" y2="96.3" stroke="#37916f" stroke-width="0.5" stroke-opacity="0.8"/>
<rect x="957.12" y="91" width="4.0" height="4.7" fill="#37916f"/>
<line x1="964.69" y1="89.4" x2="964.69" y2="94.6" stroke="#e23b47" stroke-width="0.5" stroke-opacity="0.8"/>
<rect x="962.69" y="90" width="4.0" height="4" fill="#e23b47"/>
<line x1="970.25" y1="85.7" x2="970.25" y2="92.3" stroke="#37916f" stroke-width="0.5" stroke-opacity="0.8"/>
<rect x="968.25" y="86.3" width="4.0" height="5.4" fill="#37916f"/>
<line x1="975.82" y1="80.3" x2="975.82" y2="85.2" stroke="#e23b47" stroke-width="0.5" stroke-opacity="0.8"/>
<rect x="973.82" y="84" width="4.0" height="0.6" fill="#e23b47"/>
<line x1="981.39" y1="81.7" x2="981.39" y2="85.6" stroke="#37916f" stroke-width="0.5" stroke-opacity="0.8"/>
<rect x="979.39" y="82.3" width="4.0" height="2.7" fill="#37916f"/>
<line x1="986.96" y1="74.3" x2="986.96" y2="79.2" stroke="#37916f" stroke-width="0.5" stroke-opacity="0.8"/>
<rect x="984.96" y="78" width="4.0" height="0.6" fill="#37916f"/>
<line x1="992.52" y1="71.7" x2="992.52" y2="81" stroke="#37916f" stroke-width="0.5" stroke-opacity="0.8"/>
<rect x="990.52" y="72.3" width="4.0" height="4.7" fill="#37916f"/>
<line x1="998.09" y1="64.3" x2="998.09" y2="73" stroke="#37916f" stroke-width="0.5" stroke-opacity="0.8"/>
<rect x="996.09" y="67" width="4.0" height="2.3" fill="#37916f"/>
<line x1="1003.66" y1="64.1" x2="1003.66" y2="69" stroke="#8d949e" stroke-width="0.5" stroke-opacity="0.8"/>
<rect x="1001.66" y="64.7" width="4.0" height="0.6" fill="#8d949e"/>
<line x1="1009.23" y1="57" x2="1009.23" y2="64.3" stroke="#e23b47" stroke-width="0.5" stroke-opacity="0.8"/>
<rect x="1007.23" y="60.7" width="4.0" height="3" fill="#e23b47"/>
<line x1="1014.79" y1="56.1" x2="1014.79" y2="59.3" stroke="#e23b47" stroke-width="0.5" stroke-opacity="0.8"/>
<rect x="1012.79" y="56.7" width="4.0" height="2" fill="#e23b47"/>
<line x1="1020.36" y1="51.4" x2="1020.36" y2="70.3" stroke="#e23b47" stroke-width="0.5" stroke-opacity="0.8"/>
<rect x="1018.36" y="52" width="4.0" height="9" fill="#e23b47"/>
<line x1="1025.93" y1="59.9" x2="1025.93" y2="72.3" stroke="#e23b47" stroke-width="0.5" stroke-opacity="0.8"/>
<rect x="1023.93" y="60.5" width="4.0" height="11.2" fill="#e23b47"/>
<line x1="1031.5" y1="72.3" x2="1031.5" y2="80.1" stroke="#e23b47" stroke-width="0.5" stroke-opacity="0.8"/>
<rect x="1029.5" y="75" width="4.0" height="4.5" fill="#e23b47"/>
<line x1="1037.07" y1="77.4" x2="1037.07" y2="99.4" stroke="#e23b47" stroke-width="0.5" stroke-opacity="0.8"/>
<rect x="1035.07" y="78" width="4.0" height="20.8" fill="#e23b47"/>
<line x1="1042.63" y1="92.3" x2="1042.63" y2="103" stroke="#8d949e" stroke-width="0.5" stroke-opacity="0.8"/>
<rect x="1040.63" y="98" width="4.0" height="0.6" fill="#8d949e"/>
<line x1="1048.2" y1="82.3" x2="1048.2" y2="104" stroke="#37916f" stroke-width="0.5" stroke-opacity="0.8"/>
<rect x="1046.2" y="86.3" width="4.0" height="12" fill="#37916f"/>
<line x1="1053.77" y1="85.4" x2="1053.77" y2="89.3" stroke="#e23b47" stroke-width="0.5" stroke-opacity="0.8"/>
<rect x="1051.77" y="86" width="4.0" height="2.7" fill="#e23b47"/>
<line x1="1059.34" y1="86.1" x2="1059.34" y2="90.3" stroke="#8d949e" stroke-width="0.5" stroke-opacity="0.8"/>
<rect x="1057.34" y="86.7" width="4.0" height="0.6" fill="#8d949e"/>
<line x1="1064.9" y1="76.8" x2="1064.9" y2="87.3" stroke="#37916f" stroke-width="0.5" stroke-opacity="0.8"/>
<rect x="1062.9" y="77.4" width="4.0" height="9.3" fill="#37916f"/>
<line x1="1070.47" y1="59.4" x2="1070.47" y2="72.3" stroke="#37916f" stroke-width="0.5" stroke-opacity="0.8"/>
<rect x="1068.47" y="60" width="4.0" height="11.7" fill="#37916f"/>
<line x1="1076.04" y1="51.4" x2="1076.04" y2="54.9" stroke="#37916f" stroke-width="0.5" stroke-opacity="0.8"/>
<rect x="1074.04" y="52" width="4.0" height="2.3" fill="#37916f"/>
<line x1="1081.61" y1="47" x2="1081.61" y2="58.3" stroke="#8d949e" stroke-width="0.5" stroke-opacity="0.8"/>
<rect x="1079.61" y="49.5" width="4.0" height="0.6" fill="#8d949e"/>
<line x1="1087.17" y1="38.3" x2="1087.17" y2="63.6" stroke="#e23b47" stroke-width="0.5" stroke-opacity="0.8"/>
<rect x="1085.17" y="49" width="4.0" height="14" fill="#e23b47"/>
<line x1="1092.74" y1="67.4" x2="1092.74" y2="83.7" stroke="#37916f" stroke-width="0.5" stroke-opacity="0.8"/>
<rect x="1090.74" y="68" width="4.0" height="9" fill="#37916f"/>
<line x1="1098.31" y1="57.4" x2="1098.31" y2="67.2" stroke="#37916f" stroke-width="0.5" stroke-opacity="0.8"/>
<rect x="1096.31" y="58" width="4.0" height="8.6" fill="#37916f"/>
<line x1="1103.88" y1="53.1" x2="1103.88" y2="65" stroke="#37916f" stroke-width="0.5" stroke-opacity="0.8"/>
<rect x="1101.88" y="53.7" width="4.0" height="3.3" fill="#37916f"/>
<line x1="1109.44" y1="46.4" x2="1109.44" y2="56.6" stroke="#37916f" stroke-width="0.5" stroke-opacity="0.8"/>
<rect x="1107.44" y="47" width="4.0" height="9" fill="#37916f"/>
<line x1="1115.01" y1="41.7" x2="1115.01" y2="49.7" stroke="#8d949e" stroke-width="0.5" stroke-opacity="0.8"/>
<rect x="1113.01" y="45.4" width="4.0" height="0.6" fill="#8d949e"/>
<path d="M0 393.7 C8 393.78 40.4 394.2 50 394.2 C59.6 394.2 56.8 394.1 60 393.7 C63.2 393.3 65.73 392.16 70 391.7 C74.27 391.24 79.23 391.07 86.7 390.8 C94.17 390.53 107.9 390.26 116.7 390 C125.5 389.74 133.7 389.2 141.7 389.2 C149.7 389.2 160.04 389.47 166.7 390 C173.36 390.53 177.97 391.99 183.3 392.5 C188.63 393.01 190.93 392.93 200 393.2 C209.07 393.47 225.6 394.39 240 394.2 C254.4 394.01 276.72 392.35 290 392 C303.28 391.65 312.33 391.79 323 392 C333.67 392.21 347.58 392.95 356.7 393.3 C365.82 393.65 373.6 393.93 380 394.2 C386.4 394.47 391.37 395.14 396.7 395 C402.03 394.86 407.97 393.97 413.3 393.3 C418.63 392.63 424.66 391.38 430 390.8 C435.34 390.22 441.37 390.1 446.7 389.7 C452.03 389.3 457.97 388.84 463.3 388.3 C468.63 387.76 474.66 387.23 480 386.3 C485.34 385.37 492.43 383.51 496.7 382.5 C500.97 381.49 502.7 380.53 506.7 380 C510.7 379.47 517.97 379.6 521.7 379.2 C525.43 378.8 526 378.04 530 377.5 C534 376.96 541.37 376.33 546.7 375.8 C552.03 375.27 557.97 374.6 563.3 374.2 C568.63 373.8 576.26 373.65 580 373.3 C583.74 372.95 582.97 372.4 586.7 372 C590.43 371.6 599.04 370.72 603.3 370.8 C607.56 370.88 607.96 372.02 613.3 372.5 C618.64 372.98 630.3 373.4 636.7 373.8 C643.1 374.2 647.97 374.41 653.3 375 C658.63 375.59 664.66 376.7 670 377.5 C675.34 378.3 681.37 379.12 686.7 380 C692.03 380.88 697.97 382.07 703.3 383 C708.63 383.93 714.66 385.08 720 385.8 C725.34 386.52 731.37 386.88 736.7 387.5 C742.03 388.12 747.97 389.03 753.3 389.7 C758.63 390.37 763.6 391.52 770 391.7 C776.4 391.88 784.23 391.34 793.3 390.8 C802.37 390.26 813.36 388.7 826.7 388.3 C840.04 387.9 866.04 388.11 876.7 388.3 C887.36 388.49 887.97 388.96 893.3 389.5 C898.63 390.04 904.66 391.09 910 391.7 C915.34 392.31 921.37 392.72 926.7 393.3 C932.03 393.88 937.97 394.76 943.3 395.3 C948.63 395.84 953.6 396.35 960 396.7 C966.4 397.05 974.23 397.24 983.3 397.5 C992.37 397.76 1006.03 398.11 1016.7 398.3 C1027.37 398.49 1039.34 398.75 1050 398.7 C1060.66 398.65 1072.9 398.19 1083.3 398 C1093.7 397.81 1109.93 397.58 1115 397.5" fill="none" stroke="#4a8cf2" stroke-width="0.55" stroke-opacity="0.85" stroke-linejoin="round" />
<rect x="-1.13" y="394.17" width="5.25" height="19.23" fill="#ef515b" fill-opacity="0.5"/>
<rect x="4.43" y="393.33" width="5.25" height="20.07" fill="#ef515b" fill-opacity="0.5"/>
<rect x="10" y="396.67" width="5.25" height="16.73" fill="#ef515b" fill-opacity="0.5"/>
<rect x="15.57" y="394.17" width="5.25" height="19.23" fill="#26a688" fill-opacity="0.5"/>
<rect x="21.14" y="393.33" width="5.25" height="20.07" fill="#ef515b" fill-opacity="0.5"/>
<rect x="26.7" y="396.33" width="5.25" height="17.07" fill="#ef515b" fill-opacity="0.5"/>
<rect x="32.27" y="400" width="5.25" height="13.4" fill="#ef515b" fill-opacity="0.5"/>
<rect x="37.84" y="398.67" width="5.25" height="14.73" fill="#ef515b" fill-opacity="0.5"/>
<rect x="43.41" y="395.83" width="5.25" height="17.57" fill="#ef515b" fill-opacity="0.5"/>
<rect x="48.98" y="400.33" width="5.25" height="13.07" fill="#26a688" fill-opacity="0.5"/>
<rect x="54.54" y="397.17" width="5.25" height="16.23" fill="#ef515b" fill-opacity="0.5"/>
<rect x="60.11" y="373" width="5.25" height="40.4" fill="#ef515b" fill-opacity="0.5"/>
<rect x="65.68" y="369.17" width="5.25" height="44.23" fill="#26a688" fill-opacity="0.5"/>
<rect x="71.25" y="388.83" width="5.25" height="24.57" fill="#ef515b" fill-opacity="0.5"/>
<rect x="76.81" y="377.5" width="5.25" height="35.9" fill="#26a688" fill-opacity="0.5"/>
<rect x="82.38" y="407.17" width="5.25" height="6.23" fill="#26a688" fill-opacity="0.5"/>
<rect x="87.95" y="373.33" width="5.25" height="40.07" fill="#26a688" fill-opacity="0.5"/>
<rect x="93.52" y="390" width="5.25" height="23.4" fill="#26a688" fill-opacity="0.5"/>
<rect x="99.08" y="389.67" width="5.25" height="23.73" fill="#ef515b" fill-opacity="0.5"/>
<rect x="104.65" y="395.83" width="5.25" height="17.57" fill="#ef515b" fill-opacity="0.5"/>
<rect x="110.22" y="397.17" width="5.25" height="16.23" fill="#26a688" fill-opacity="0.5"/>
<rect x="115.79" y="389.17" width="5.25" height="24.23" fill="#ef515b" fill-opacity="0.5"/>
<rect x="121.35" y="393.67" width="5.25" height="19.73" fill="#ef515b" fill-opacity="0.5"/>
<rect x="126.92" y="375.33" width="5.25" height="38.07" fill="#ef515b" fill-opacity="0.5"/>
<rect x="132.49" y="395" width="5.25" height="18.4" fill="#ef515b" fill-opacity="0.5"/>
<rect x="138.06" y="396.33" width="5.25" height="17.07" fill="#26a688" fill-opacity="0.5"/>
<rect x="143.62" y="395.33" width="5.25" height="18.07" fill="#26a688" fill-opacity="0.5"/>
<rect x="149.19" y="400.33" width="5.25" height="13.07" fill="#ef515b" fill-opacity="0.5"/>
<rect x="154.76" y="400.33" width="5.25" height="13.07" fill="#ef515b" fill-opacity="0.5"/>
<rect x="160.33" y="400.33" width="5.25" height="13.07" fill="#26a688" fill-opacity="0.5"/>
<rect x="165.89" y="396.67" width="5.25" height="16.73" fill="#ef515b" fill-opacity="0.5"/>
<rect x="171.46" y="397.5" width="5.25" height="15.9" fill="#26a688" fill-opacity="0.5"/>
<rect x="177.03" y="395.33" width="5.25" height="18.07" fill="#26a688" fill-opacity="0.5"/>
<rect x="182.6" y="397.17" width="5.25" height="16.23" fill="#ef515b" fill-opacity="0.5"/>
<rect x="188.16" y="393.33" width="5.25" height="20.07" fill="#26a688" fill-opacity="0.5"/>
<rect x="193.73" y="392.5" width="5.25" height="20.9" fill="#26a688" fill-opacity="0.5"/>
<rect x="199.3" y="392.17" width="5.25" height="21.23" fill="#26a688" fill-opacity="0.5"/>
<rect x="204.87" y="388.67" width="5.25" height="24.73" fill="#ef515b" fill-opacity="0.5"/>
<rect x="210.44" y="393.33" width="5.25" height="20.07" fill="#ef515b" fill-opacity="0.5"/>
<rect x="216" y="393.83" width="5.25" height="19.57" fill="#26a688" fill-opacity="0.5"/>
<rect x="221.57" y="393.33" width="5.25" height="20.07" fill="#26a688" fill-opacity="0.5"/>
<rect x="227.14" y="390" width="5.25" height="23.4" fill="#ef515b" fill-opacity="0.5"/>
<rect x="232.71" y="387.17" width="5.25" height="26.23" fill="#ef515b" fill-opacity="0.5"/>
<rect x="238.27" y="398.33" width="5.25" height="15.07" fill="#26a688" fill-opacity="0.5"/>
<rect x="243.84" y="391.17" width="5.25" height="22.23" fill="#26a688" fill-opacity="0.5"/>
<rect x="249.41" y="388.67" width="5.25" height="24.73" fill="#26a688" fill-opacity="0.5"/>
<rect x="254.98" y="392.5" width="5.25" height="20.9" fill="#ef515b" fill-opacity="0.5"/>
<rect x="260.54" y="392.5" width="5.25" height="20.9" fill="#ef515b" fill-opacity="0.5"/>
<rect x="266.11" y="392.17" width="5.25" height="21.23" fill="#ef515b" fill-opacity="0.5"/>
<rect x="271.68" y="392.5" width="5.25" height="20.9" fill="#26a688" fill-opacity="0.5"/>
<rect x="277.25" y="389.17" width="5.25" height="24.23" fill="#26a688" fill-opacity="0.5"/>
<rect x="282.81" y="391.17" width="5.25" height="22.23" fill="#ef515b" fill-opacity="0.5"/>
<rect x="288.38" y="395.83" width="5.25" height="17.57" fill="#ef515b" fill-opacity="0.5"/>
<rect x="293.95" y="392" width="5.25" height="21.4" fill="#ef515b" fill-opacity="0.5"/>
<rect x="299.52" y="396.67" width="5.25" height="16.73" fill="#ef515b" fill-opacity="0.5"/>
<rect x="305.08" y="397.17" width="5.25" height="16.23" fill="#26a688" fill-opacity="0.5"/>
<rect x="310.65" y="400.83" width="5.25" height="12.57" fill="#ef515b" fill-opacity="0.5"/>
<rect x="316.22" y="394.17" width="5.25" height="19.23" fill="#26a688" fill-opacity="0.5"/>
<rect x="321.79" y="386.33" width="5.25" height="27.07" fill="#26a688" fill-opacity="0.5"/>
<rect x="327.36" y="395" width="5.25" height="18.4" fill="#26a688" fill-opacity="0.5"/>
<rect x="332.92" y="395.83" width="5.25" height="17.57" fill="#26a688" fill-opacity="0.5"/>
<rect x="338.49" y="395.5" width="5.25" height="17.9" fill="#ef515b" fill-opacity="0.5"/>
<rect x="344.06" y="398" width="5.25" height="15.4" fill="#26a688" fill-opacity="0.5"/>
<rect x="349.63" y="395.33" width="5.25" height="18.07" fill="#ef515b" fill-opacity="0.5"/>
<rect x="355.19" y="396.17" width="5.25" height="17.23" fill="#26a688" fill-opacity="0.5"/>
<rect x="360.76" y="393" width="5.25" height="20.4" fill="#26a688" fill-opacity="0.5"/>
<rect x="366.33" y="396.17" width="5.25" height="17.23" fill="#ef515b" fill-opacity="0.5"/>
<rect x="371.9" y="399.5" width="5.25" height="13.9" fill="#ef515b" fill-opacity="0.5"/>
<rect x="377.46" y="397.5" width="5.25" height="15.9" fill="#26a688" fill-opacity="0.5"/>
<rect x="383.03" y="398.33" width="5.25" height="15.07" fill="#26a688" fill-opacity="0.5"/>
<rect x="388.6" y="395.83" width="5.25" height="17.57" fill="#ef515b" fill-opacity="0.5"/>
<rect x="394.17" y="393.67" width="5.25" height="19.73" fill="#26a688" fill-opacity="0.5"/>
<rect x="399.73" y="382.17" width="5.25" height="31.23" fill="#26a688" fill-opacity="0.5"/>
<rect x="405.3" y="394.67" width="5.25" height="18.73" fill="#26a688" fill-opacity="0.5"/>
<rect x="410.87" y="384.17" width="5.25" height="29.23" fill="#26a688" fill-opacity="0.5"/>
<rect x="416.44" y="385.83" width="5.25" height="27.57" fill="#26a688" fill-opacity="0.5"/>
<rect x="422" y="379.67" width="5.25" height="33.73" fill="#26a688" fill-opacity="0.5"/>
<rect x="427.57" y="388.33" width="5.25" height="25.07" fill="#26a688" fill-opacity="0.5"/>
<rect x="433.14" y="384.17" width="5.25" height="29.23" fill="#26a688" fill-opacity="0.5"/>
<rect x="438.71" y="384.17" width="5.25" height="29.23" fill="#ef515b" fill-opacity="0.5"/>
<rect x="444.27" y="382" width="5.25" height="31.4" fill="#ef515b" fill-opacity="0.5"/>
<rect x="449.84" y="383.33" width="5.25" height="30.07" fill="#26a688" fill-opacity="0.5"/>
<rect x="455.41" y="380" width="5.25" height="33.4" fill="#26a688" fill-opacity="0.5"/>
<rect x="460.98" y="378.67" width="5.25" height="34.73" fill="#ef515b" fill-opacity="0.5"/>
<rect x="466.55" y="380.5" width="5.25" height="32.9" fill="#ef515b" fill-opacity="0.5"/>
<rect x="472.11" y="384.17" width="5.25" height="29.23" fill="#26a688" fill-opacity="0.5"/>
<rect x="477.68" y="379.17" width="5.25" height="34.23" fill="#ef515b" fill-opacity="0.5"/>
<rect x="483.25" y="380.83" width="5.25" height="32.57" fill="#26a688" fill-opacity="0.5"/>
<rect x="488.82" y="380" width="5.25" height="33.4" fill="#26a688" fill-opacity="0.5"/>
<rect x="494.38" y="371.17" width="5.25" height="42.23" fill="#26a688" fill-opacity="0.5"/>
<rect x="499.95" y="350.33" width="5.25" height="63.07" fill="#ef515b" fill-opacity="0.5"/>
<rect x="505.52" y="375" width="5.25" height="38.4" fill="#26a688" fill-opacity="0.5"/>
<rect x="511.09" y="374.17" width="5.25" height="39.23" fill="#ef515b" fill-opacity="0.5"/>
<rect x="516.65" y="380.83" width="5.25" height="32.57" fill="#ef515b" fill-opacity="0.5"/>
<rect x="522.22" y="384.17" width="5.25" height="29.23" fill="#26a688" fill-opacity="0.5"/>
<rect x="527.79" y="349.5" width="5.25" height="63.9" fill="#ef515b" fill-opacity="0.5"/>
<rect x="533.36" y="382.17" width="5.25" height="31.23" fill="#26a688" fill-opacity="0.5"/>
<rect x="538.92" y="375.33" width="5.25" height="38.07" fill="#ef515b" fill-opacity="0.5"/>
<rect x="544.49" y="370.33" width="5.25" height="43.07" fill="#ef515b" fill-opacity="0.5"/>
<rect x="550.06" y="375.33" width="5.25" height="38.07" fill="#26a688" fill-opacity="0.5"/>
<rect x="555.63" y="375.33" width="5.25" height="38.07" fill="#26a688" fill-opacity="0.5"/>
<rect x="561.19" y="369.17" width="5.25" height="44.23" fill="#ef515b" fill-opacity="0.5"/>
<rect x="566.76" y="371.67" width="5.25" height="41.73" fill="#26a688" fill-opacity="0.5"/>
<rect x="572.33" y="365.83" width="5.25" height="47.57" fill="#ef515b" fill-opacity="0.5"/>
<rect x="577.9" y="378" width="5.25" height="35.4" fill="#ef515b" fill-opacity="0.5"/>
<rect x="583.46" y="371.33" width="5.25" height="42.07" fill="#26a688" fill-opacity="0.5"/>
<rect x="589.03" y="359.67" width="5.25" height="53.73" fill="#26a688" fill-opacity="0.5"/>
<rect x="594.6" y="375" width="5.25" height="38.4" fill="#26a688" fill-opacity="0.5"/>
<rect x="600.17" y="360.33" width="5.25" height="53.07" fill="#ef515b" fill-opacity="0.5"/>
<rect x="605.74" y="379.17" width="5.25" height="34.23" fill="#ef515b" fill-opacity="0.5"/>
<rect x="611.3" y="384.17" width="5.25" height="29.23" fill="#26a688" fill-opacity="0.5"/>
<rect x="616.87" y="378.67" width="5.25" height="34.73" fill="#ef515b" fill-opacity="0.5"/>
<rect x="622.44" y="387.5" width="5.25" height="25.9" fill="#26a688" fill-opacity="0.5"/>
<rect x="628.01" y="378.67" width="5.25" height="34.73" fill="#ef515b" fill-opacity="0.5"/>
<rect x="633.57" y="384.17" width="5.25" height="29.23" fill="#ef515b" fill-opacity="0.5"/>
<rect x="639.14" y="383" width="5.25" height="30.4" fill="#26a688" fill-opacity="0.5"/>
<rect x="644.71" y="374.17" width="5.25" height="39.23" fill="#ef515b" fill-opacity="0.5"/>
<rect x="650.28" y="371.33" width="5.25" height="42.07" fill="#ef515b" fill-opacity="0.5"/>
<rect x="655.84" y="389.67" width="5.25" height="23.73" fill="#26a688" fill-opacity="0.5"/>
<rect x="661.41" y="393.67" width="5.25" height="19.73" fill="#ef515b" fill-opacity="0.5"/>
<rect x="666.98" y="385.33" width="5.25" height="28.07" fill="#26a688" fill-opacity="0.5"/>
<rect x="672.55" y="389.67" width="5.25" height="23.73" fill="#26a688" fill-opacity="0.5"/>
<rect x="678.11" y="387.17" width="5.25" height="26.23" fill="#26a688" fill-opacity="0.5"/>
<rect x="683.68" y="384.17" width="5.25" height="29.23" fill="#ef515b" fill-opacity="0.5"/>
<rect x="689.25" y="390.83" width="5.25" height="22.57" fill="#ef515b" fill-opacity="0.5"/>
<rect x="694.82" y="393" width="5.25" height="20.4" fill="#ef515b" fill-opacity="0.5"/>
<rect x="700.38" y="393" width="5.25" height="20.4" fill="#ef515b" fill-opacity="0.5"/>
<rect x="705.95" y="386.67" width="5.25" height="26.73" fill="#ef515b" fill-opacity="0.5"/>
<rect x="711.52" y="398" width="5.25" height="15.4" fill="#26a688" fill-opacity="0.5"/>
<rect x="717.09" y="391.33" width="5.25" height="22.07" fill="#26a688" fill-opacity="0.5"/>
<rect x="722.65" y="392" width="5.25" height="21.4" fill="#26a688" fill-opacity="0.5"/>
<rect x="728.22" y="392" width="5.25" height="21.4" fill="#ef515b" fill-opacity="0.5"/>
<rect x="733.79" y="394.67" width="5.25" height="18.73" fill="#26a688" fill-opacity="0.5"/>
<rect x="739.36" y="388.33" width="5.25" height="25.07" fill="#ef515b" fill-opacity="0.5"/>
<rect x="744.92" y="398" width="5.25" height="15.4" fill="#26a688" fill-opacity="0.5"/>
<rect x="750.49" y="396.33" width="5.25" height="17.07" fill="#ef515b" fill-opacity="0.5"/>
<rect x="756.06" y="394.67" width="5.25" height="18.73" fill="#ef515b" fill-opacity="0.5"/>
<rect x="761.63" y="389.67" width="5.25" height="23.73" fill="#26a688" fill-opacity="0.5"/>
<rect x="767.2" y="395" width="5.25" height="18.4" fill="#ef515b" fill-opacity="0.5"/>
<rect x="772.76" y="389.67" width="5.25" height="23.73" fill="#ef515b" fill-opacity="0.5"/>
<rect x="778.33" y="389.17" width="5.25" height="24.23" fill="#26a688" fill-opacity="0.5"/>
<rect x="783.9" y="390" width="5.25" height="23.4" fill="#26a688" fill-opacity="0.5"/>
<rect x="789.47" y="384.17" width="5.25" height="29.23" fill="#26a688" fill-opacity="0.5"/>
<rect x="795.03" y="378.33" width="5.25" height="35.07" fill="#ef515b" fill-opacity="0.5"/>
<rect x="800.6" y="388" width="5.25" height="25.4" fill="#ef515b" fill-opacity="0.5"/>
<rect x="806.17" y="388" width="5.25" height="25.4" fill="#26a688" fill-opacity="0.5"/>
<rect x="811.74" y="384.17" width="5.25" height="29.23" fill="#ef515b" fill-opacity="0.5"/>
<rect x="817.3" y="374.67" width="5.25" height="38.73" fill="#ef515b" fill-opacity="0.5"/>
<rect x="822.87" y="377" width="5.25" height="36.4" fill="#26a688" fill-opacity="0.5"/>
<rect x="828.44" y="392" width="5.25" height="21.4" fill="#ef515b" fill-opacity="0.5"/>
<rect x="834.01" y="397.17" width="5.25" height="16.23" fill="#26a688" fill-opacity="0.5"/>
<rect x="839.57" y="392" width="5.25" height="21.4" fill="#ef515b" fill-opacity="0.5"/>
<rect x="845.14" y="392.5" width="5.25" height="20.9" fill="#ef515b" fill-opacity="0.5"/>
<rect x="850.71" y="393" width="5.25" height="20.4" fill="#26a688" fill-opacity="0.5"/>
<rect x="856.28" y="394.17" width="5.25" height="19.23" fill="#ef515b" fill-opacity="0.5"/>
<rect x="861.84" y="395.83" width="5.25" height="17.57" fill="#ef515b" fill-opacity="0.5"/>
<rect x="867.41" y="395" width="5.25" height="18.4" fill="#ef515b" fill-opacity="0.5"/>
<rect x="872.98" y="390.83" width="5.25" height="22.57" fill="#ef515b" fill-opacity="0.5"/>
<rect x="878.55" y="386.67" width="5.25" height="26.73" fill="#26a688" fill-opacity="0.5"/>
<rect x="884.12" y="399.17" width="5.25" height="14.23" fill="#26a688" fill-opacity="0.5"/>
<rect x="889.68" y="400.33" width="5.25" height="13.07" fill="#ef515b" fill-opacity="0.5"/>
<rect x="895.25" y="394.17" width="5.25" height="19.23" fill="#ef515b" fill-opacity="0.5"/>
<rect x="900.82" y="398.33" width="5.25" height="15.07" fill="#ef515b" fill-opacity="0.5"/>
<rect x="906.39" y="399.67" width="5.25" height="13.73" fill="#26a688" fill-opacity="0.5"/>
<rect x="911.95" y="397.5" width="5.25" height="15.9" fill="#26a688" fill-opacity="0.5"/>
<rect x="917.52" y="399.17" width="5.25" height="14.23" fill="#ef515b" fill-opacity="0.5"/>
<rect x="923.09" y="398.33" width="5.25" height="15.07" fill="#26a688" fill-opacity="0.5"/>
<rect x="928.66" y="398.33" width="5.25" height="15.07" fill="#26a688" fill-opacity="0.5"/>
<rect x="934.22" y="397.5" width="5.25" height="15.9" fill="#26a688" fill-opacity="0.5"/>
<rect x="939.79" y="395.83" width="5.25" height="17.57" fill="#ef515b" fill-opacity="0.5"/>
<rect x="945.36" y="399.17" width="5.25" height="14.23" fill="#26a688" fill-opacity="0.5"/>
<rect x="950.93" y="398" width="5.25" height="15.4" fill="#26a688" fill-opacity="0.5"/>
<rect x="956.49" y="401.33" width="5.25" height="12.07" fill="#26a688" fill-opacity="0.5"/>
<rect x="962.06" y="395.33" width="5.25" height="18.07" fill="#ef515b" fill-opacity="0.5"/>
<rect x="967.63" y="397.5" width="5.25" height="15.9" fill="#26a688" fill-opacity="0.5"/>
<rect x="973.2" y="399.67" width="5.25" height="13.73" fill="#ef515b" fill-opacity="0.5"/>
<rect x="978.76" y="398.67" width="5.25" height="14.73" fill="#26a688" fill-opacity="0.5"/>
<rect x="984.33" y="401.33" width="5.25" height="12.07" fill="#26a688" fill-opacity="0.5"/>
<rect x="989.9" y="398" width="5.25" height="15.4" fill="#26a688" fill-opacity="0.5"/>
<rect x="995.47" y="397" width="5.25" height="16.4" fill="#26a688" fill-opacity="0.5"/>
<rect x="1001.03" y="395.83" width="5.25" height="17.57" fill="#26a688" fill-opacity="0.5"/>
<rect x="1006.6" y="398.33" width="5.25" height="15.07" fill="#ef515b" fill-opacity="0.5"/>
<rect x="1012.17" y="398.67" width="5.25" height="14.73" fill="#ef515b" fill-opacity="0.5"/>
<rect x="1017.74" y="392.5" width="5.25" height="20.9" fill="#ef515b" fill-opacity="0.5"/>
<rect x="1023.3" y="401.33" width="5.25" height="12.07" fill="#ef515b" fill-opacity="0.5"/>
<rect x="1028.87" y="401.33" width="5.25" height="12.07" fill="#ef515b" fill-opacity="0.5"/>
<rect x="1034.44" y="393.67" width="5.25" height="19.73" fill="#ef515b" fill-opacity="0.5"/>
<rect x="1040.01" y="399.67" width="5.25" height="13.73" fill="#26a688" fill-opacity="0.5"/>
<rect x="1045.58" y="395.83" width="5.25" height="17.57" fill="#26a688" fill-opacity="0.5"/>
<rect x="1051.14" y="401.67" width="5.25" height="11.73" fill="#ef515b" fill-opacity="0.5"/>
<rect x="1056.71" y="402" width="5.25" height="11.4" fill="#26a688" fill-opacity="0.5"/>
<rect x="1062.28" y="398" width="5.25" height="15.4" fill="#26a688" fill-opacity="0.5"/>
<rect x="1067.85" y="395.83" width="5.25" height="17.57" fill="#26a688" fill-opacity="0.5"/>
<rect x="1073.41" y="396.67" width="5.25" height="16.73" fill="#26a688" fill-opacity="0.5"/>
<rect x="1078.98" y="397.5" width="5.25" height="15.9" fill="#26a688" fill-opacity="0.5"/>
<rect x="1084.55" y="398.33" width="5.25" height="15.07" fill="#ef515b" fill-opacity="0.5"/>
<rect x="1090.12" y="392" width="5.25" height="21.4" fill="#26a688" fill-opacity="0.5"/>
<rect x="1095.68" y="401.33" width="5.25" height="12.07" fill="#26a688" fill-opacity="0.5"/>
<rect x="1101.25" y="400.33" width="5.25" height="13.07" fill="#26a688" fill-opacity="0.5"/>
<rect x="1106.82" y="399.67" width="5.25" height="13.73" fill="#26a688" fill-opacity="0.5"/>
<rect x="1112.39" y="394.17" width="5.25" height="19.23" fill="#26a688" fill-opacity="0.5"/>
<rect x="1" y="446.5" width="1171.5" height="46.3" fill="#7864d2" fill-opacity="0.2"/>
<line x1="1" y1="446.5" x2="1172.5" y2="446.5" stroke="#8a8fa8" stroke-width="0.5" stroke-dasharray="1.7 1.8" stroke-opacity="0.55"/>
<line x1="1" y1="492.8" x2="1172.5" y2="492.8" stroke="#8a8fa8" stroke-width="0.5" stroke-dasharray="1.7 1.8" stroke-opacity="0.55"/>
<path d="M0 447.5 C1.6 448.03 6 450.19 10 450.8 C14 451.41 21.27 450.63 25 451.3 C28.73 451.97 30.37 453.61 33.3 455 C36.23 456.39 39.56 458.61 43.3 460 C47.04 461.39 53.5 461.83 56.7 463.7 C59.9 465.57 61.17 469.09 63.3 471.7 C65.43 474.31 67.86 477.47 70 480 C72.14 482.53 74.83 485.77 76.7 487.5 C78.57 489.23 80.1 490.53 81.7 490.8 C83.3 491.07 84.57 490.13 86.7 489.2 C88.83 488.27 91.54 486.07 95 485 C98.46 483.93 103.5 483.3 108.3 482.5 C113.1 481.7 119.66 480.8 125 480 C130.34 479.2 136.37 478.17 141.7 477.5 C147.03 476.83 154.3 476.47 158.3 475.8 C162.3 475.13 163.76 474.23 166.7 473.3 C169.64 472.37 173.5 471.2 176.7 470 C179.9 468.8 183.24 467.27 186.7 465.8 C190.16 464.33 195.1 462 198.3 460.8 C201.5 459.6 202.7 458.96 206.7 458.3 C210.7 457.64 217.97 457.36 223.3 456.7 C228.63 456.04 234.66 455.14 240 454.2 C245.34 453.26 252.7 451.52 256.7 450.8 C260.7 450.08 261.8 449.78 265 449.7 C268.2 449.62 272.7 450.25 276.7 450.3 C280.7 450.35 286.54 449.38 290 450 C293.46 450.62 295.63 452.81 298.3 454.2 C300.97 455.59 303.76 457.77 306.7 458.7 C309.64 459.63 313.5 459.79 316.7 460 C319.9 460.21 323.5 460.32 326.7 460 C329.9 459.68 333.24 458.67 336.7 458 C340.16 457.33 343.77 456.68 348.3 455.8 C352.83 454.92 359.66 453.46 365 452.5 C370.34 451.54 376.63 450.6 381.7 449.8 C386.77 449 391.64 448.54 396.7 447.5 C401.76 446.46 407.97 445.03 413.3 443.3 C418.63 441.57 425.2 438.35 430 436.7 C434.8 435.05 439.3 433.75 443.3 433 C447.3 432.25 450.46 432.08 455 432 C459.54 431.92 467.17 432.69 471.7 432.5 C476.23 432.31 479.3 431.6 483.3 430.8 C487.3 430 493.76 426.83 496.7 427.5 C499.64 428.17 499.57 432.87 501.7 435 C503.83 437.13 507.34 439.2 510 440.8 C512.66 442.4 515.1 444.01 518.3 445 C521.5 445.99 526.26 446.87 530 447 C533.74 447.13 537.7 446.39 541.7 445.8 C545.7 445.21 550.74 444.1 555 443.3 C559.26 442.5 564.3 441.38 568.3 440.8 C572.3 440.22 577.06 440.04 580 439.7 C582.94 439.36 583.77 439.05 586.7 438.7 C589.63 438.35 595.1 436.89 598.3 437.5 C601.5 438.11 603.23 441.17 606.7 442.5 C610.17 443.83 614.67 445.13 620 445.8 C625.33 446.47 635.2 445.9 640 446.7 C644.8 447.5 646.27 449.26 650 450.8 C653.73 452.34 658.77 455.36 663.3 456.3 C667.83 457.24 674.03 456.51 678.3 456.7 C682.57 456.89 686 456.84 690 457.5 C694 458.16 699.03 459.81 703.3 460.8 C707.57 461.79 712.43 463.3 716.7 463.7 C720.97 464.1 725.2 463.36 730 463.3 C734.8 463.24 741.9 463.11 746.7 463.3 C751.5 463.49 755.74 464.76 760 464.5 C764.26 464.24 769.3 462.95 773.3 461.7 C777.3 460.45 781.26 458.3 785 456.7 C788.74 455.1 792.7 452.82 796.7 451.7 C800.7 450.58 806.8 449.44 810 449.7 C813.2 449.96 814.03 451.52 816.7 453.3 C819.37 455.08 822.97 458.8 826.7 460.8 C830.43 462.8 835.74 464.6 840 465.8 C844.26 467 849.03 467.5 853.3 468.3 C857.57 469.1 862.43 470 866.7 470.8 C870.97 471.6 875.74 472.63 880 473.3 C884.26 473.97 889.03 474.2 893.3 475 C897.57 475.8 902.7 477.9 906.7 478.3 C910.7 478.7 914.57 478.08 918.3 477.5 C922.03 476.92 926 475.63 930 474.7 C934 473.77 939.3 472.53 943.3 471.7 C947.3 470.87 951.26 470.17 955 469.5 C958.74 468.83 962.17 468.59 966.7 467.5 C971.23 466.41 977.97 464.46 983.3 462.7 C988.63 460.94 994.99 458.26 1000 456.5 C1005.01 454.74 1010.94 452.37 1014.6 451.7 C1018.26 451.03 1019.91 451.21 1022.9 452.3 C1025.89 453.39 1029.96 456.56 1033.3 458.5 C1036.64 460.44 1039.8 463.15 1043.8 464.4 C1047.8 465.65 1053.98 466.57 1058.3 466.3 C1062.62 466.03 1066.8 463.95 1070.8 462.7 C1074.8 461.45 1079.3 459 1083.3 458.5 C1087.3 458 1091.8 459.71 1095.8 459.6 C1099.8 459.49 1105.23 458.1 1108.3 457.8 C1111.37 457.5 1113.93 457.72 1115 457.7" fill="none" stroke="#f0a860" stroke-width="0.55" stroke-opacity="0.8" stroke-linejoin="round" />
<path d="M0 448.3 C1.6 448.62 6 449.9 10 450.3 C14 450.7 19.93 450.5 25 450.8 C30.07 451.1 36.63 451.72 41.7 452.2 C46.77 452.68 52.7 452.95 56.7 453.8 C60.7 454.65 62.97 456.03 66.7 457.5 C70.43 458.97 75.74 461.72 80 463 C84.26 464.28 88.77 464.78 93.3 465.5 C97.83 466.22 103.23 466.83 108.3 467.5 C113.37 468.17 119.66 469.03 125 469.7 C130.34 470.37 136.9 471.2 141.7 471.7 C146.5 472.2 151 472.59 155 472.8 C159 473.01 162.17 473.05 166.7 473 C171.23 472.95 177.97 472.77 183.3 472.5 C188.63 472.23 193.6 471.97 200 471.3 C206.4 470.63 214.23 469.52 223.3 468.3 C232.37 467.08 246.03 465.08 256.7 463.7 C267.37 462.32 282 460.42 290 459.7 C298 458.98 301.37 459.28 306.7 459.2 C312.03 459.12 317.97 459.39 323.3 459.2 C328.63 459.01 334.66 458.4 340 458 C345.34 457.6 351.37 457.13 356.7 456.7 C362.03 456.27 367.97 455.78 373.3 455.3 C378.63 454.82 383.6 454.5 390 453.7 C396.4 452.9 406.9 451.29 413.3 450.3 C419.7 449.31 424.66 448.35 430 447.5 C435.34 446.65 441.37 445.8 446.7 445 C452.03 444.2 457.97 443.17 463.3 442.5 C468.63 441.83 474.66 441.33 480 440.8 C485.34 440.27 492.43 439.28 496.7 439.2 C500.97 439.12 502.7 439.96 506.7 440.3 C510.7 440.64 516.64 441.14 521.7 441.3 C526.76 441.46 532.97 441.38 538.3 441.3 C543.63 441.22 549.66 441.01 555 440.8 C560.34 440.59 566.63 440.18 571.7 440 C576.77 439.82 581.64 439.7 586.7 439.7 C591.76 439.7 597.97 439.74 603.3 440 C608.63 440.26 614.66 440.9 620 441.3 C625.34 441.7 631.37 441.96 636.7 442.5 C642.03 443.04 647.97 443.98 653.3 444.7 C658.63 445.42 664.66 446.28 670 447 C675.34 447.72 681.37 448.45 686.7 449.2 C692.03 449.95 697.97 450.96 703.3 451.7 C708.63 452.44 714.66 453.14 720 453.8 C725.34 454.46 731.37 455.21 736.7 455.8 C742.03 456.39 747.97 457.04 753.3 457.5 C758.63 457.96 766.26 458.57 770 458.7 C773.74 458.83 772.97 458.57 776.7 458.3 C780.43 458.03 787.97 457.4 793.3 457 C798.63 456.6 804.66 455.45 810 455.8 C815.34 456.15 821.37 458.32 826.7 459.2 C832.03 460.08 837.97 460.69 843.3 461.3 C848.63 461.91 854.66 462.41 860 463 C865.34 463.59 871.37 464.41 876.7 465 C882.03 465.59 887.97 466.11 893.3 466.7 C898.63 467.29 904.66 468.22 910 468.7 C915.34 469.18 921.37 469.49 926.7 469.7 C932.03 469.91 937.97 469.9 943.3 470 C948.63 470.1 955.6 470.36 960 470.3 C964.4 470.24 965.73 470.05 970.8 469.6 C975.87 469.15 985.03 468.27 991.7 467.5 C998.37 466.73 1005.84 465.3 1012.5 464.8 C1019.16 464.3 1026.63 464.24 1033.3 464.4 C1039.97 464.56 1047.53 465.74 1054.2 465.8 C1060.87 465.86 1068.34 465.23 1075 464.8 C1081.66 464.37 1089.4 463.56 1095.8 463.1 C1102.2 462.64 1111.93 462.09 1115 461.9" fill="none" stroke="#3d55e8" stroke-width="0.55" stroke-opacity="0.9" stroke-linejoin="round" />
<path d="M0 455.8 L6.7 456.7 L12.5 458.7 L18.3 453.3 L24.2 450.8 L29.2 457.5 L35 461.3 L40.8 468.3 L45.8 475.8 L50.8 467.5 L57.5 467.2 L62.5 500.8 L68.3 505 L73.3 511.7 L79.2 514.2 L84.2 491.7 L90 477.5 L95.8 473.3 L101.7 475.8 L107.5 478.7 L113.3 477 L119.2 476.7 L124.2 479.2 L129.2 480.3 L135 477.5 L140 474.7 L145 472.5 L150.8 473.3 L157.5 473 L162.5 469.2 L168.3 468.3 L174.2 464.7 L179.2 460 L185 461.3 L190 457.5 L196.7 453.3 L203.3 450.3 L208.3 451.3 L213.3 455 L219.2 457 L225 452.5 L230 450.8 L235 454.7 L240 455 L246.7 449.7 L253.3 447.5 L261.7 447.2 L270 452.5 L275 450.8 L280.8 448.3 L286.7 450 L291.7 452.5 L296.7 460 L301.7 468.7 L306.7 466.3 L312.5 466.7 L318.3 463.7 L324.2 467.5 L329.2 459.2 L335 455 L340.8 454.7 L345.8 453.3 L351.7 454.5 L356.7 451.7 L363.3 448.7 L369.2 448.3 L375 449.7 L381.7 446.7 L388.3 445 L395.8 442.5 L403.3 444.7 L410 440.8 L416.7 435 L423.3 430.8 L430 428 L436.7 426.3 L441.7 425.5 L445.8 432.5 L451.7 430.8 L458.3 428.3 L464.2 428 L469.2 435.8 L475 432 L481.7 432.5 L488.3 430 L496.7 426.7 L499.2 436.7 L502.5 456.3 L508.3 454.2 L514.2 456.7 L519.2 458 L525 450.8 L530 446.7 L536.7 443 L543.3 441.7 L550 440.8 L556.7 438.3 L562.5 437.5 L568.3 434.5 L575 439.2 L585 435.8 L596.7 431.7 L601.7 446.7 L608.3 459.2 L614.2 450.8 L625 448.3 L635 448 L641.7 446.3 L647.5 456.7 L653.3 467.2 L663.3 464.2 L673.3 458.3 L680.8 455 L686.7 455.8 L693.3 460 L702.5 463.3 L709.2 470.8 L714.2 470.8 L720 464.7 L725.8 462.5 L730.8 463.7 L736.7 462.5 L742.5 463.7 L748.3 463 L753.3 467.5 L759.2 470 L765 455.8 L770.8 459.2 L776.7 455.8 L783.3 449.2 L791.7 443.3 L798.3 445 L803.3 445.8 L808.3 444.7 L813.3 455 L820 480.8 L826.7 475 L833.3 471.3 L840 470.8 L847.5 476.7 L853.3 470.8 L859.2 469.2 L866.7 474.2 L875 482.5 L880.8 474.2 L886.7 473.3 L893.3 477.5 L898.3 484.2 L904.2 486.7 L910 481.7 L914.2 474.2 L920 473.7 L926.7 472 L931.7 468.3 L936.7 467.5 L943.3 470 L951.7 468.3 L958.3 464.8 L964.6 467.5 L970.8 462.3 L981.3 459.6 L991.7 453.3 L1000 449.2 L1008.3 447.7 L1014.6 445.4 L1019.8 447.1 L1025 455.4 L1031.3 467.9 L1037.5 481 L1042.7 481 L1049 471 L1056.3 472.1 L1062.5 467.5 L1069.8 454.4 L1076 450.2 L1081.3 449.2 L1086.5 460.6 L1092.7 463.8 L1100 458.5 L1108.3 453.8 L1115 453.6" fill="none" stroke="#8070c4" stroke-width="0.55" stroke-opacity="0.8" stroke-linejoin="round" />
<line x1="1" y1="553.9" x2="1172.5" y2="553.9" stroke="#9a9fb0" stroke-width="0.5" stroke-dasharray="1.7 2.6" stroke-opacity="0.7"/>
<path d="M0 541.3 L6.3 541.3 L12.5 545 L25 545.8 L35 550 L47.5 555 L57.5 555 L62.5 563 L68.8 560 L80 566.3 L85 565 L95 553 L103.8 557 L112.5 554.5 L120 556.3 L135 553.3 L145 548 L155 546.3 L167.5 546.3 L173.8 539.5 L180 542 L190 535 L197.5 533.8 L207.5 537 L222.5 537.5 L230 533.8 L240 540 L250 536.8 L257.5 538.8 L270 540 L278.8 537.5 L287.5 540 L295 542.5 L305 548.8 L315 552.5 L320 552.5 L330 546.3 L340 548.3 L347.5 543.8 L357.5 545.8 L365 549.5 L375 550 L381.3 547 L390 548.3 L397.5 545 L402.5 547.5 L412.5 537.5 L422.5 531.3 L431.3 528.8 L440 529.5 L447.5 533.8 L455 530.8 L462.5 529.5 L470 535 L477.5 532.5 L487.5 532 L496.3 530.5 L502.5 537.5 L512.5 537.5 L520 539.3 L530 542.5 L540 543 L552.5 542 L560 538 L567.5 537 L575 540 L581.3 537.5 L585 539.3 L592.5 535.5 L600 537 L608.8 542.5 L613.8 537 L620 540 L626.3 538.3 L635 539.3 L641.3 536.3 L653.8 545.5 L665 545.5 L677.5 547.5 L685 546.8 L697.5 550 L705 554.3 L710 555 L720 548.3 L725 549.5 L731.3 548.3 L737.5 550 L743.8 548.3 L753.8 554.3 L765 541.3 L770 546.3 L780 547.5 L790 546.3 L800 546.8 L808.8 543.8 L820 551.3 L826.3 548.8 L832.5 548.8 L837.5 550 L842.5 547.5 L847.5 550.5 L855 548.3 L867.5 547.5 L875.5 554.5 L882.4 550.2 L890.6 552.1 L903 564 L914 556.3 L920.9 559.6 L931.9 547.5 L937.4 547.5 L944.3 551.6 L952.5 550.8 L959.4 546.6 L964.9 552.7 L975.9 550.2 L986.9 543.3 L997.9 544.4 L1014.4 535.6 L1019.9 537.6 L1026.8 542.5 L1032.3 543.3 L1041.9 550.8 L1054.3 552.7 L1063.9 550.8 L1076.3 545.3 L1087.3 546.6 L1099.6 540.3 L1109.3 539.2 L1115 540.3" fill="none" stroke="#58a858" stroke-width="0.55" stroke-opacity="0.8" stroke-linejoin="round" />
<rect x="-1.13" y="613.9" width="5.25" height="0.8" fill="#f04a3e"/>
<rect x="4.43" y="613.9" width="5.25" height="0.8" fill="#f04a3e"/>
<rect x="10" y="613.9" width="5.25" height="0.8" fill="#f04a3e"/>
<rect x="15.57" y="613.9" width="5.25" height="0.5" fill="#f04a3e"/>
<rect x="21.14" y="613.9" width="5.25" height="0.3" fill="#f04a3e"/>
<rect x="26.7" y="613.9" width="5.25" height="0.8" fill="#f04a3e"/>
<rect x="32.27" y="613.9" width="5.25" height="1" fill="#f04a3e"/>
<rect x="37.84" y="613.9" width="5.25" height="1.3" fill="#f04a3e"/>
<rect x="43.41" y="613.9" width="5.25" height="2" fill="#f04a3e"/>
<rect x="48.98" y="613.9" width="5.25" height="1.2" fill="#fbc9cd"/>
<rect x="54.54" y="613.9" width="5.25" height="0.8" fill="#fbc9cd"/>
<rect x="60.11" y="613.9" width="5.25" height="5.3" fill="#f04a3e"/>
<rect x="65.68" y="613.9" width="5.25" height="8.2" fill="#f04a3e"/>
<rect x="71.25" y="613.9" width="5.25" height="12.5" fill="#f04a3e"/>
<rect x="76.81" y="613.9" width="5.25" height="16.5" fill="#f04a3e"/>
<rect x="82.38" y="613.9" width="5.25" height="14.5" fill="#fbc9cd"/>
<rect x="87.95" y="613.9" width="5.25" height="10.3" fill="#fbc9cd"/>
<rect x="93.52" y="613.9" width="5.25" height="7" fill="#fbc9cd"/>
<rect x="99.08" y="613.9" width="5.25" height="5" fill="#fbc9cd"/>
<rect x="104.65" y="613.9" width="5.25" height="3.7" fill="#fbc9cd"/>
<rect x="110.22" y="613.9" width="5.25" height="2.5" fill="#fbc9cd"/>
<rect x="115.79" y="613.9" width="5.25" height="1.7" fill="#fbc9cd"/>
<rect x="121.35" y="613.9" width="5.25" height="1.2" fill="#fbc9cd"/>
<rect x="126.92" y="613.9" width="5.25" height="0.5" fill="#fbc9cd"/>
<rect x="132.49" y="613.6" width="5.25" height="0.3" fill="#2f9478"/>
<rect x="138.06" y="613.1" width="5.25" height="0.8" fill="#2f9478"/>
<rect x="143.62" y="612.6" width="5.25" height="1.3" fill="#2f9478"/>
<rect x="149.19" y="612.1" width="5.25" height="1.8" fill="#2f9478"/>
<rect x="154.76" y="611.4" width="5.25" height="2.5" fill="#2f9478"/>
<rect x="160.33" y="610.6" width="5.25" height="3.3" fill="#2f9478"/>
<rect x="165.89" y="610.1" width="5.25" height="3.8" fill="#2f9478"/>
<rect x="171.46" y="609.6" width="5.25" height="4.3" fill="#2f9478"/>
<rect x="177.03" y="608.7" width="5.25" height="5.2" fill="#2f9478"/>
<rect x="182.6" y="608.4" width="5.25" height="5.5" fill="#2f9478"/>
<rect x="188.16" y="607.6" width="5.25" height="6.3" fill="#2f9478"/>
<rect x="193.73" y="606.4" width="5.25" height="7.5" fill="#2f9478"/>
<rect x="199.3" y="605.9" width="5.25" height="8" fill="#2f9478"/>
<rect x="204.87" y="605.9" width="5.25" height="8" fill="#2f9478"/>
<rect x="210.44" y="607.6" width="5.25" height="6.3" fill="#b5e2d8"/>
<rect x="216" y="608.4" width="5.25" height="5.5" fill="#b5e2d8"/>
<rect x="221.57" y="608.4" width="5.25" height="5.5" fill="#b5e2d8"/>
<rect x="227.14" y="609.2" width="5.25" height="4.7" fill="#b5e2d8"/>
<rect x="232.71" y="609.7" width="5.25" height="4.2" fill="#b5e2d8"/>
<rect x="238.27" y="610.1" width="5.25" height="3.8" fill="#b5e2d8"/>
<rect x="243.84" y="610.1" width="5.25" height="3.8" fill="#b5e2d8"/>
<rect x="249.41" y="610.4" width="5.25" height="3.5" fill="#b5e2d8"/>
<rect x="254.98" y="610.6" width="5.25" height="3.3" fill="#b5e2d8"/>
<rect x="260.54" y="611.2" width="5.25" height="2.7" fill="#b5e2d8"/>
<rect x="266.11" y="612.1" width="5.25" height="1.8" fill="#b5e2d8"/>
<rect x="271.68" y="612.6" width="5.25" height="1.3" fill="#b5e2d8"/>
<rect x="277.25" y="612.9" width="5.25" height="1" fill="#b5e2d8"/>
<rect x="282.81" y="613.2" width="5.25" height="0.7" fill="#b5e2d8"/>
<rect x="288.38" y="613.7" width="5.25" height="0.2" fill="#b5e2d8"/>
<rect x="293.95" y="613.9" width="5.25" height="0.8" fill="#f04a3e"/>
<rect x="299.52" y="613.9" width="5.25" height="1.5" fill="#f04a3e"/>
<rect x="305.08" y="613.9" width="5.25" height="2.5" fill="#f04a3e"/>
<rect x="310.65" y="613.9" width="5.25" height="2.5" fill="#f04a3e"/>
<rect x="316.22" y="613.9" width="5.25" height="1.7" fill="#fbc9cd"/>
<rect x="321.79" y="613.9" width="5.25" height="2.8" fill="#f04a3e"/>
<rect x="327.36" y="613.9" width="5.25" height="1.5" fill="#fbc9cd"/>
<rect x="332.92" y="613.9" width="5.25" height="0.8" fill="#fbc9cd"/>
<rect x="338.49" y="613.9" width="5.25" height="0.3" fill="#fbc9cd"/>
<rect x="344.06" y="613.75" width="5.25" height="0.15" fill="#b5e2d8"/>
<rect x="349.63" y="613.75" width="5.25" height="0.15" fill="#b5e2d8"/>
<rect x="355.19" y="613.75" width="5.25" height="0.15" fill="#b5e2d8"/>
<rect x="360.76" y="613.5" width="5.25" height="0.4" fill="#2f9478"/>
<rect x="366.33" y="613.4" width="5.25" height="0.5" fill="#2f9478"/>
<rect x="371.9" y="613.4" width="5.25" height="0.5" fill="#2f9478"/>
<rect x="377.46" y="613.4" width="5.25" height="0.5" fill="#2f9478"/>
<rect x="383.03" y="613.4" width="5.25" height="0.5" fill="#2f9478"/>
<rect x="388.6" y="613.7" width="5.25" height="0.2" fill="#b5e2d8"/>
<rect x="394.17" y="613.4" width="5.25" height="0.5" fill="#2f9478"/>
<rect x="399.73" y="613.7" width="5.25" height="0.2" fill="#b5e2d8"/>
<rect x="405.3" y="613.5" width="5.25" height="0.4" fill="#2f9478"/>
<rect x="410.87" y="613.1" width="5.25" height="0.8" fill="#2f9478"/>
<rect x="416.44" y="612.4" width="5.25" height="1.5" fill="#2f9478"/>
<rect x="422" y="611.4" width="5.25" height="2.5" fill="#2f9478"/>
<rect x="427.57" y="610.6" width="5.25" height="3.3" fill="#2f9478"/>
<rect x="433.14" y="609.6" width="5.25" height="4.3" fill="#2f9478"/>
<rect x="438.71" y="608.9" width="5.25" height="5" fill="#2f9478"/>
<rect x="444.27" y="609.2" width="5.25" height="4.7" fill="#b5e2d8"/>
<rect x="449.84" y="609.4" width="5.25" height="4.5" fill="#b5e2d8"/>
<rect x="455.41" y="609.2" width="5.25" height="4.7" fill="#2f9478"/>
<rect x="460.98" y="609.6" width="5.25" height="4.3" fill="#b5e2d8"/>
<rect x="466.55" y="610.1" width="5.25" height="3.8" fill="#b5e2d8"/>
<rect x="472.11" y="610.1" width="5.25" height="3.8" fill="#2f9478"/>
<rect x="477.68" y="610.2" width="5.25" height="3.7" fill="#b5e2d8"/>
<rect x="483.25" y="610.4" width="5.25" height="3.5" fill="#b5e2d8"/>
<rect x="488.82" y="610.4" width="5.25" height="3.5" fill="#b5e2d8"/>
<rect x="494.38" y="609.9" width="5.25" height="4" fill="#2f9478"/>
<rect x="499.95" y="613.2" width="5.25" height="0.7" fill="#b5e2d8"/>
<rect x="505.52" y="613.9" width="5.25" height="0.5" fill="#f04a3e"/>
<rect x="511.09" y="613.9" width="5.25" height="1.5" fill="#f04a3e"/>
<rect x="516.65" y="613.9" width="5.25" height="3" fill="#f04a3e"/>
<rect x="522.22" y="613.9" width="5.25" height="1.3" fill="#fbc9cd"/>
<rect x="527.79" y="613.9" width="5.25" height="0.7" fill="#fbc9cd"/>
<rect x="533.36" y="613.9" width="5.25" height="0.1" fill="#fbc9cd"/>
<rect x="538.92" y="613.2" width="5.25" height="0.7" fill="#2f9478"/>
<rect x="544.49" y="612.7" width="5.25" height="1.2" fill="#2f9478"/>
<rect x="550.06" y="612.2" width="5.25" height="1.7" fill="#2f9478"/>
<rect x="555.63" y="611.9" width="5.25" height="2" fill="#2f9478"/>
<rect x="561.19" y="611.6" width="5.25" height="2.3" fill="#2f9478"/>
<rect x="566.76" y="610.4" width="5.25" height="3.5" fill="#2f9478"/>
<rect x="572.33" y="610.9" width="5.25" height="3" fill="#b5e2d8"/>
<rect x="577.9" y="611.4" width="5.25" height="2.5" fill="#b5e2d8"/>
<rect x="583.46" y="611.2" width="5.25" height="2.7" fill="#2f9478"/>
<rect x="589.03" y="610.9" width="5.25" height="3" fill="#2f9478"/>
<rect x="594.6" y="610.2" width="5.25" height="3.7" fill="#2f9478"/>
<rect x="600.17" y="612.9" width="5.25" height="1" fill="#b5e2d8"/>
<rect x="605.74" y="613.9" width="5.25" height="0.7" fill="#f04a3e"/>
<rect x="611.3" y="613.9" width="5.25" height="0.3" fill="#fbc9cd"/>
<rect x="616.87" y="613.9" width="5.25" height="0.2" fill="#fbc9cd"/>
<rect x="622.44" y="613.9" width="5.25" height="0.3" fill="#f04a3e"/>
<rect x="628.01" y="613.9" width="5.25" height="0.7" fill="#f04a3e"/>
<rect x="633.57" y="613.9" width="5.25" height="0.7" fill="#f04a3e"/>
<rect x="639.14" y="613.9" width="5.25" height="0.2" fill="#fbc9cd"/>
<rect x="644.71" y="613.9" width="5.25" height="1.7" fill="#f04a3e"/>
<rect x="650.28" y="613.9" width="5.25" height="5" fill="#f04a3e"/>
<rect x="655.84" y="613.9" width="5.25" height="6" fill="#f04a3e"/>
<rect x="661.41" y="613.9" width="5.25" height="6.2" fill="#f04a3e"/>
<rect x="666.98" y="613.9" width="5.25" height="5.5" fill="#fbc9cd"/>
<rect x="672.55" y="613.9" width="5.25" height="5" fill="#fbc9cd"/>
<rect x="678.11" y="613.9" width="5.25" height="4" fill="#fbc9cd"/>
<rect x="683.68" y="613.9" width="5.25" height="3.3" fill="#fbc9cd"/>
<rect x="689.25" y="613.9" width="5.25" height="3.5" fill="#f04a3e"/>
<rect x="694.82" y="613.9" width="5.25" height="3.8" fill="#f04a3e"/>
<rect x="700.38" y="613.9" width="5.25" height="4" fill="#f04a3e"/>
<rect x="705.95" y="613.9" width="5.25" height="5" fill="#f04a3e"/>
<rect x="711.52" y="613.9" width="5.25" height="5.7" fill="#f04a3e"/>
<rect x="717.09" y="613.9" width="5.25" height="4.5" fill="#fbc9cd"/>
<rect x="722.65" y="613.9" width="5.25" height="3.7" fill="#fbc9cd"/>
<rect x="728.22" y="613.9" width="5.25" height="3" fill="#fbc9cd"/>
<rect x="733.79" y="613.9" width="5.25" height="2.5" fill="#fbc9cd"/>
<rect x="739.36" y="613.9" width="5.25" height="2.2" fill="#fbc9cd"/>
<rect x="744.92" y="613.9" width="5.25" height="2" fill="#fbc9cd"/>
<rect x="750.49" y="613.9" width="5.25" height="2.3" fill="#f04a3e"/>
<rect x="756.06" y="613.9" width="5.25" height="3.2" fill="#f04a3e"/>
<rect x="761.63" y="613.9" width="5.25" height="0.7" fill="#fbc9cd"/>
<rect x="767.2" y="613.9" width="5.25" height="0.1" fill="#fbc9cd"/>
<rect x="772.76" y="613.2" width="5.25" height="0.7" fill="#2f9478"/>
<rect x="778.33" y="612.4" width="5.25" height="1.5" fill="#2f9478"/>
<rect x="783.9" y="610.2" width="5.25" height="3.7" fill="#2f9478"/>
<rect x="789.47" y="608.7" width="5.25" height="5.2" fill="#2f9478"/>
<rect x="795.03" y="608.2" width="5.25" height="5.7" fill="#2f9478"/>
<rect x="800.6" y="608.6" width="5.25" height="5.3" fill="#b5e2d8"/>
<rect x="806.17" y="608.9" width="5.25" height="5" fill="#b5e2d8"/>
<rect x="811.74" y="610.7" width="5.25" height="3.2" fill="#b5e2d8"/>
<rect x="817.3" y="613.9" width="5.25" height="1.5" fill="#f04a3e"/>
<rect x="822.87" y="613.9" width="5.25" height="4" fill="#f04a3e"/>
<rect x="828.44" y="613.9" width="5.25" height="4.8" fill="#f04a3e"/>
<rect x="834.01" y="613.9" width="5.25" height="4.7" fill="#fbc9cd"/>
<rect x="839.57" y="613.9" width="5.25" height="4.5" fill="#fbc9cd"/>
<rect x="845.14" y="613.9" width="5.25" height="6" fill="#f04a3e"/>
<rect x="850.71" y="613.9" width="5.25" height="5" fill="#fbc9cd"/>
<rect x="856.28" y="613.9" width="5.25" height="4.2" fill="#fbc9cd"/>
<rect x="861.84" y="613.9" width="5.25" height="4.3" fill="#fbc9cd"/>
<rect x="867.41" y="613.9" width="5.25" height="5" fill="#f04a3e"/>
<rect x="872.98" y="613.9" width="5.25" height="6.3" fill="#f04a3e"/>
<rect x="878.55" y="613.9" width="5.25" height="5" fill="#fbc9cd"/>
<rect x="884.12" y="613.9" width="5.25" height="4" fill="#fbc9cd"/>
<rect x="889.68" y="613.9" width="5.25" height="3" fill="#fbc9cd"/>
<rect x="895.25" y="613.9" width="5.25" height="5.3" fill="#f04a3e"/>
<rect x="900.82" y="613.9" width="5.25" height="6.7" fill="#f04a3e"/>
<rect x="906.39" y="613.9" width="5.25" height="5.5" fill="#fbc9cd"/>
<rect x="911.95" y="613.9" width="5.25" height="3.5" fill="#fbc9cd"/>
<rect x="917.52" y="613.9" width="5.25" height="2" fill="#fbc9cd"/>
<rect x="923.09" y="613.9" width="5.25" height="0.8" fill="#fbc9cd"/>
<rect x="928.66" y="613.6" width="5.25" height="0.3" fill="#2f9478"/>
<rect x="934.22" y="612.9" width="5.25" height="1" fill="#2f9478"/>
<rect x="939.79" y="612.4" width="5.25" height="1.5" fill="#2f9478"/>
<rect x="945.36" y="611.6" width="5.25" height="2.3" fill="#2f9478"/>
<rect x="950.93" y="610.9" width="5.25" height="3" fill="#2f9478"/>
<rect x="956.49" y="610.6" width="5.25" height="3.3" fill="#2f9478"/>
<rect x="962.06" y="610.9" width="5.25" height="3" fill="#b5e2d8"/>
<rect x="967.63" y="610.1" width="5.25" height="3.8" fill="#2f9478"/>
<rect x="973.2" y="609.6" width="5.25" height="4.3" fill="#2f9478"/>
<rect x="978.76" y="609.2" width="5.25" height="4.7" fill="#2f9478"/>
<rect x="984.33" y="608.6" width="5.25" height="5.3" fill="#2f9478"/>
<rect x="989.9" y="608.1" width="5.25" height="5.8" fill="#2f9478"/>
<rect x="995.47" y="607.6" width="5.25" height="6.3" fill="#2f9478"/>
<rect x="1001.03" y="607.2" width="5.25" height="6.7" fill="#2f9478"/>
<rect x="1006.6" y="607.9" width="5.25" height="6" fill="#b5e2d8"/>
<rect x="1012.17" y="607.2" width="5.25" height="6.7" fill="#2f9478"/>
<rect x="1017.74" y="608.2" width="5.25" height="5.7" fill="#b5e2d8"/>
<rect x="1023.3" y="609.9" width="5.25" height="4" fill="#b5e2d8"/>
<rect x="1028.87" y="612.6" width="5.25" height="1.3" fill="#b5e2d8"/>
<rect x="1034.44" y="613.9" width="5.25" height="1.2" fill="#f04a3e"/>
<rect x="1040.01" y="613.9" width="5.25" height="4.5" fill="#f04a3e"/>
<rect x="1045.58" y="613.9" width="5.25" height="3.3" fill="#fbc9cd"/>
<rect x="1051.14" y="613.9" width="5.25" height="4.3" fill="#f04a3e"/>
<rect x="1056.71" y="613.9" width="5.25" height="3" fill="#fbc9cd"/>
<rect x="1062.28" y="613.9" width="5.25" height="2.3" fill="#fbc9cd"/>
<rect x="1067.85" y="613.9" width="5.25" height="0.3" fill="#fbc9cd"/>
<rect x="1073.41" y="611.4" width="5.25" height="2.5" fill="#2f9478"/>
<rect x="1078.98" y="609.1" width="5.25" height="4.8" fill="#2f9478"/>
<rect x="1084.55" y="610.6" width="5.25" height="3.3" fill="#b5e2d8"/>
<rect x="1090.12" y="611.9" width="5.25" height="2" fill="#b5e2d8"/>
<rect x="1095.68" y="612.2" width="5.25" height="1.7" fill="#b5e2d8"/>
<rect x="1101.25" y="610.9" width="5.25" height="3" fill="#2f9478"/>
<rect x="1106.82" y="610.1" width="5.25" height="3.8" fill="#2f9478"/>
<rect x="1112.39" y="609.9" width="5.25" height="4" fill="#2f9478"/>
<path d="M0 604.2 C2.67 604.28 11.37 604.44 16.7 604.7 C22.03 604.96 27.97 605.35 33.3 605.8 C38.63 606.25 45.73 606.96 50 607.5 C54.27 608.04 56.8 608.4 60 609.2 C63.2 610 66.8 611.04 70 612.5 C73.2 613.96 77.07 616.57 80 618.3 C82.93 620.03 85.63 621.96 88.3 623.3 C90.97 624.64 93.76 625.84 96.7 626.7 C99.64 627.56 102.97 628.22 106.7 628.7 C110.43 629.18 115.74 629.54 120 629.7 C124.26 629.86 129.03 629.92 133.3 629.7 C137.57 629.48 142.7 628.78 146.7 628.3 C150.7 627.82 153.77 627.5 158.3 626.7 C162.83 625.9 169.93 624.5 175 623.3 C180.07 622.1 186.27 620.53 190 619.2 C193.73 617.87 195.63 616.2 198.3 615 C200.97 613.8 202.7 612.9 206.7 611.7 C210.7 610.5 217.97 608.7 223.3 607.5 C228.63 606.3 234.66 605.19 240 604.2 C245.34 603.21 251.37 602.02 256.7 601.3 C262.03 600.58 267.97 599.96 273.3 599.7 C278.63 599.44 284.66 599.44 290 599.7 C295.34 599.96 301.37 600.64 306.7 601.3 C312.03 601.96 317.97 603.16 323.3 603.8 C328.63 604.44 334.66 605.16 340 605.3 C345.34 605.44 351.37 605.02 356.7 604.7 C362.03 604.38 367.97 603.65 373.3 603.3 C378.63 602.95 386.26 602.71 390 602.5 C393.74 602.29 392.97 602.19 396.7 602 C400.43 601.81 407.97 601.75 413.3 601.3 C418.63 600.85 424.66 600.16 430 599.2 C435.34 598.24 441.37 596.5 446.7 595.3 C452.03 594.1 457.97 592.68 463.3 591.7 C468.63 590.72 474.66 589.95 480 589.2 C485.34 588.45 492.43 587.4 496.7 587 C500.97 586.6 502.7 586.49 506.7 586.7 C510.7 586.91 517.97 587.82 521.7 588.3 C525.43 588.78 527.07 589.64 530 589.7 C532.93 589.76 536 589.13 540 588.7 C544 588.27 549.93 587.67 555 587 C560.07 586.33 566.63 585.14 571.7 584.5 C576.77 583.86 582.17 583.59 586.7 583 C591.23 582.41 596.27 581.01 600 580.8 C603.73 580.59 606.27 581.51 610 581.7 C613.73 581.89 617.97 581.79 623.3 582 C628.63 582.21 638.5 582.52 643.3 583 C648.1 583.48 650.1 584.2 653.3 585 C656.5 585.8 659.56 587.07 663.3 588 C667.04 588.93 672.43 589.95 676.7 590.8 C680.97 591.65 685.74 592.5 690 593.3 C694.26 594.1 699.03 594.86 703.3 595.8 C707.57 596.74 712.43 598.26 716.7 599.2 C720.97 600.14 725.74 601.04 730 601.7 C734.26 602.36 739.03 602.77 743.3 603.3 C747.57 603.83 752.43 604.6 756.7 605 C760.97 605.4 767.34 605.8 770 605.8 C772.66 605.8 770.63 605.45 773.3 605 C775.97 604.55 782.43 603.8 786.7 603 C790.97 602.2 795.74 600.88 800 600 C804.26 599.12 810.1 597.77 813.3 597.5 C816.5 597.23 816.8 597.63 820 598.3 C823.2 598.97 829.03 600.68 833.3 601.7 C837.57 602.72 842.43 603.77 846.7 604.7 C850.97 605.63 855.74 606.52 860 607.5 C864.26 608.48 869.03 609.81 873.3 610.8 C877.57 611.79 882.43 612.63 886.7 613.7 C890.97 614.77 896.27 616.36 900 617.5 C903.73 618.64 906.8 619.92 910 620.8 C913.2 621.68 916.8 622.6 920 623 C923.2 623.4 926.8 623.38 930 623.3 C933.2 623.22 935.73 623.16 940 622.5 C944.27 621.84 951.37 620.35 956.7 619.2 C962.03 618.05 967.97 616.5 973.3 615.3 C978.63 614.1 984.66 612.95 990 611.7 C995.34 610.45 1002.17 608.7 1006.7 607.5 C1011.23 606.3 1015.1 605 1018.3 604.2 C1021.5 603.4 1024.3 602.64 1026.7 602.5 C1029.1 602.36 1030.64 602.77 1033.3 603.3 C1035.96 603.83 1040.1 605.05 1043.3 605.8 C1046.5 606.55 1050.1 607.46 1053.3 608 C1056.5 608.54 1060.36 609.2 1063.3 609.2 C1066.24 609.2 1068.76 608.54 1071.7 608 C1074.64 607.46 1078.24 606.47 1081.7 605.8 C1085.16 605.13 1089.84 604.33 1093.3 603.8 C1096.76 603.27 1099.83 603 1103.3 602.5 C1106.77 602 1113.13 600.99 1115 600.7" fill="none" stroke="#f58a3a" stroke-width="0.55" stroke-opacity="0.8" stroke-linejoin="round" />
<path d="M0 604.2 C2.67 604.38 11.37 604.85 16.7 605.3 C22.03 605.75 27.97 606.25 33.3 607 C38.63 607.75 46 609.25 50 610 C54 610.75 55.63 610.37 58.3 611.7 C60.97 613.03 64.3 615.77 66.7 618.3 C69.1 620.83 71.44 624.96 73.3 627.5 C75.16 630.04 76.7 632.6 78.3 634.2 C79.9 635.8 81.7 636.84 83.3 637.5 C84.9 638.16 86.16 638.43 88.3 638.3 C90.44 638.17 93.5 637.36 96.7 636.7 C99.9 636.04 103.77 635.06 108.3 634.2 C112.83 633.34 119.66 632.37 125 631.3 C130.34 630.23 136.37 628.78 141.7 627.5 C147.03 626.22 152.97 624.77 158.3 623.3 C163.63 621.83 171 619.63 175 618.3 C179 616.97 180.63 616.06 183.3 615 C185.97 613.94 189.03 612.63 191.7 611.7 C194.37 610.77 197.6 609.95 200 609.2 C202.4 608.45 202.97 607.78 206.7 607 C210.43 606.22 217.97 605.1 223.3 604.3 C228.63 603.5 234.66 602.77 240 602 C245.34 601.23 252.7 600.04 256.7 599.5 C260.7 598.96 261.8 598.73 265 598.6 C268.2 598.47 272.7 598.52 276.7 598.7 C280.7 598.88 285.74 599.09 290 599.7 C294.26 600.31 299.3 601.65 303.3 602.5 C307.3 603.35 311.53 604.33 315 605 C318.47 605.67 322.07 606.57 325 606.7 C327.93 606.83 330.37 606.07 333.3 605.8 C336.23 605.53 339.56 605.26 343.3 605 C347.04 604.74 351.9 604.52 356.7 604.2 C361.5 603.88 367.97 603.32 373.3 603 C378.63 602.68 386.26 602.47 390 602.2 C393.74 601.93 392.97 601.57 396.7 601.3 C400.43 601.03 408.5 601.24 413.3 600.5 C418.1 599.76 422.43 597.98 426.7 596.7 C430.97 595.42 435.74 593.62 440 592.5 C444.26 591.38 449.57 590.42 453.3 589.7 C457.03 588.98 460.1 588.43 463.3 588 C466.5 587.57 469.56 587.48 473.3 587 C477.04 586.52 482.96 585.64 486.7 585 C490.44 584.36 494.04 582.87 496.7 583 C499.36 583.13 500.64 584.81 503.3 585.8 C505.96 586.79 510.63 588.32 513.3 589.2 C515.97 590.08 517.6 591.04 520 591.3 C522.4 591.56 525.37 591.33 528.3 590.8 C531.23 590.27 534.03 588.98 538.3 588 C542.57 587.02 549.66 585.69 555 584.7 C560.34 583.71 567.17 582.5 571.7 581.8 C576.23 581.1 579.3 580.91 583.3 580.3 C587.3 579.69 594.03 578.32 596.7 578 C599.37 577.68 598.4 577.66 600 578.3 C601.6 578.94 603.5 581.33 606.7 582 C609.9 582.67 615.2 582.29 620 582.5 C624.8 582.71 632.97 583.11 636.7 583.3 C640.43 583.49 641.17 583.03 643.3 583.7 C645.43 584.37 647.86 586.22 650 587.5 C652.14 588.78 654.3 590.55 656.7 591.7 C659.1 592.85 661.8 594.04 665 594.7 C668.2 595.36 673.23 595.54 676.7 595.8 C680.17 596.06 683.5 595.9 686.7 596.3 C689.9 596.7 693.5 597.44 696.7 598.3 C699.9 599.16 704.04 600.76 706.7 601.7 C709.36 602.64 710.64 603.67 713.3 604.2 C715.96 604.73 719.56 604.74 723.3 605 C727.04 605.26 732.43 605.48 736.7 605.8 C740.97 606.12 746.54 606.6 750 607 C753.46 607.4 755.9 608.35 758.3 608.3 C760.7 608.25 763.13 607.1 765 606.7 C766.87 606.3 767.6 606.34 770 605.8 C772.4 605.26 776.8 604.5 780 603.3 C783.2 602.1 786.8 599.68 790 598.3 C793.2 596.92 797.07 595.55 800 594.7 C802.93 593.85 805.9 592.95 808.3 593 C810.7 593.05 812.6 593.61 815 595 C817.4 596.39 820.37 599.97 823.3 601.7 C826.23 603.43 829.56 604.52 833.3 605.8 C837.04 607.08 842.43 608.63 846.7 609.7 C850.97 610.77 855.74 611.7 860 612.5 C864.26 613.3 869.03 613.9 873.3 614.7 C877.57 615.5 882.96 616.25 886.7 617.5 C890.44 618.75 893.77 621.03 896.7 622.5 C899.63 623.97 902.6 625.9 905 626.7 C907.4 627.5 909.3 627.56 911.7 627.5 C914.1 627.44 917.07 626.83 920 626.3 C922.93 625.77 926.8 625.13 930 624.2 C933.2 623.27 936.8 621.52 940 620.5 C943.2 619.48 946.8 618.63 950 617.8 C953.2 616.97 956.27 616.28 960 615.3 C963.73 614.32 969.03 612.82 973.3 611.7 C977.57 610.58 982.96 609.37 986.7 608.3 C990.44 607.23 993.5 606.12 996.7 605 C999.9 603.88 1003.77 602.37 1006.7 601.3 C1009.63 600.23 1012.6 598.86 1015 598.3 C1017.4 597.74 1019.3 597.48 1021.7 597.8 C1024.1 598.12 1027.6 599.28 1030 600.3 C1032.4 601.32 1034.3 602.92 1036.7 604.2 C1039.1 605.48 1042.34 607.29 1045 608.3 C1047.66 609.31 1050.63 609.96 1053.3 610.5 C1055.97 611.04 1059.3 611.65 1061.7 611.7 C1064.1 611.75 1066.17 611.74 1068.3 610.8 C1070.43 609.86 1072.86 607.26 1075 605.8 C1077.14 604.34 1079.57 602.42 1081.7 601.7 C1083.83 600.98 1086.17 601.22 1088.3 601.3 C1090.43 601.38 1092.6 602.36 1095 602.2 C1097.4 602.04 1100.1 601.07 1103.3 600.3 C1106.5 599.53 1113.13 597.86 1115 597.4" fill="none" stroke="#3f8cf0" stroke-width="0.55" stroke-opacity="0.85" stroke-linejoin="round" />
<text x="1177.2" y="328.9" font-size="4.55" fill="#3a3d45" stroke="#3a3d45" stroke-width="0.12" text-anchor="start" font-weight="normal" fill-opacity="1" >1040.00</text>
<text x="1177.2" y="313.85" font-size="4.55" fill="#3a3d45" stroke="#3a3d45" stroke-width="0.12" text-anchor="start" font-weight="normal" fill-opacity="1" >1080.00</text>
<text x="1177.2" y="298.8" font-size="4.55" fill="#3a3d45" stroke="#3a3d45" stroke-width="0.12" text-anchor="start" font-weight="normal" fill-opacity="1" >1120.00</text>
<text x="1177.2" y="283.75" font-size="4.55" fill="#3a3d45" stroke="#3a3d45" stroke-width="0.12" text-anchor="start" font-weight="normal" fill-opacity="1" >1160.00</text>
<text x="1177.2" y="268.7" font-size="4.55" fill="#3a3d45" stroke="#3a3d45" stroke-width="0.12" text-anchor="start" font-weight="normal" fill-opacity="1" >1200.00</text>
<text x="1177.2" y="253.65" font-size="4.55" fill="#3a3d45" stroke="#3a3d45" stroke-width="0.12" text-anchor="start" font-weight="normal" fill-opacity="1" >1240.00</text>
<text x="1177.2" y="238.6" font-size="4.55" fill="#3a3d45" stroke="#3a3d45" stroke-width="0.12" text-anchor="start" font-weight="normal" fill-opacity="1" >1280.00</text>
<text x="1177.2" y="223.55" font-size="4.55" fill="#3a3d45" stroke="#3a3d45" stroke-width="0.12" text-anchor="start" font-weight="normal" fill-opacity="1" >1320.00</text>
<text x="1177.2" y="208.5" font-size="4.55" fill="#3a3d45" stroke="#3a3d45" stroke-width="0.12" text-anchor="start" font-weight="normal" fill-opacity="1" >1360.00</text>
<text x="1177.2" y="193.45" font-size="4.55" fill="#3a3d45" stroke="#3a3d45" stroke-width="0.12" text-anchor="start" font-weight="normal" fill-opacity="1" >1400.00</text>
<text x="1177.2" y="178.4" font-size="4.55" fill="#3a3d45" stroke="#3a3d45" stroke-width="0.12" text-anchor="start" font-weight="normal" fill-opacity="1" >1440.00</text>
<text x="1177.2" y="163.35" font-size="4.55" fill="#3a3d45" stroke="#3a3d45" stroke-width="0.12" text-anchor="start" font-weight="normal" fill-opacity="1" >1480.00</text>
<text x="1177.2" y="148.3" font-size="4.55" fill="#3a3d45" stroke="#3a3d45" stroke-width="0.12" text-anchor="start" font-weight="normal" fill-opacity="1" >1520.00</text>
<text x="1177.2" y="133.25" font-size="4.55" fill="#3a3d45" stroke="#3a3d45" stroke-width="0.12" text-anchor="start" font-weight="normal" fill-opacity="1" >1560.00</text>
<text x="1177.2" y="118.2" font-size="4.55" fill="#3a3d45" stroke="#3a3d45" stroke-width="0.12" text-anchor="start" font-weight="normal" fill-opacity="1" >1600.00</text>
<text x="1177.2" y="103.15" font-size="4.55" fill="#3a3d45" stroke="#3a3d45" stroke-width="0.12" text-anchor="start" font-weight="normal" fill-opacity="1" >1640.00</text>
<text x="1177.2" y="88.1" font-size="4.55" fill="#3a3d45" stroke="#3a3d45" stroke-width="0.12" text-anchor="start" font-weight="normal" fill-opacity="1" >1680.00</text>
<text x="1177.2" y="73.05" font-size="4.55" fill="#3a3d45" stroke="#3a3d45" stroke-width="0.12" text-anchor="start" font-weight="normal" fill-opacity="1" >1720.00</text>
<text x="1177.2" y="58" font-size="4.55" fill="#3a3d45" stroke="#3a3d45" stroke-width="0.12" text-anchor="start" font-weight="normal" fill-opacity="1" >1760.00</text>
<text x="1177.2" y="42.95" font-size="4.55" fill="#3a3d45" stroke="#3a3d45" stroke-width="0.12" text-anchor="start" font-weight="normal" fill-opacity="1" >1800.00</text>
<text x="1177.2" y="27.9" font-size="4.55" fill="#3a3d45" stroke="#3a3d45" stroke-width="0.12" text-anchor="start" font-weight="normal" fill-opacity="1" >1840.00</text>
<text x="1177.2" y="12.85" font-size="4.55" fill="#3a3d45" stroke="#3a3d45" stroke-width="0.12" text-anchor="start" font-weight="normal" fill-opacity="1" >1880.00</text>
<text x="1177.2" y="355.85" font-size="4.55" fill="#3a3d45" stroke="#3a3d45" stroke-width="0.12" text-anchor="start" font-weight="normal" fill-opacity="1" >2.5B</text>
<text x="1177.2" y="367.45" font-size="4.55" fill="#3a3d45" stroke="#3a3d45" stroke-width="0.12" text-anchor="start" font-weight="normal" fill-opacity="1" >2B</text>
<text x="1177.2" y="379.65" font-size="4.55" fill="#3a3d45" stroke="#3a3d45" stroke-width="0.12" text-anchor="start" font-weight="normal" fill-opacity="1" >1.5B</text>
<text x="1177.2" y="390.95" font-size="4.55" fill="#3a3d45" stroke="#3a3d45" stroke-width="0.12" text-anchor="start" font-weight="normal" fill-opacity="1" >1B</text>
<text x="1177.2" y="436.25" font-size="4.55" fill="#3a3d45" stroke="#3a3d45" stroke-width="0.12" text-anchor="start" font-weight="normal" fill-opacity="1" >80.00</text>
<text x="1177.2" y="483.15" font-size="4.55" fill="#3a3d45" stroke="#3a3d45" stroke-width="0.12" text-anchor="start" font-weight="normal" fill-opacity="1" >40.00</text>
<text x="1177.2" y="506.55" font-size="4.55" fill="#3a3d45" stroke="#3a3d45" stroke-width="0.12" text-anchor="start" font-weight="normal" fill-opacity="1" >20.00</text>
<text x="1177.2" y="527.75" font-size="4.55" fill="#3a3d45" stroke="#3a3d45" stroke-width="0.12" text-anchor="start" font-weight="normal" fill-opacity="1" >0.50</text>
<text x="1177.2" y="555.75" font-size="4.55" fill="#3a3d45" stroke="#3a3d45" stroke-width="0.12" text-anchor="start" font-weight="normal" fill-opacity="1" >0.00</text>
<text x="1177.2" y="575.85" font-size="4.55" fill="#3a3d45" stroke="#3a3d45" stroke-width="0.12" text-anchor="start" font-weight="normal" fill-opacity="1" >60.00</text>
<text x="1177.2" y="588.95" font-size="4.55" fill="#3a3d45" stroke="#3a3d45" stroke-width="0.12" text-anchor="start" font-weight="normal" fill-opacity="1" >40.00</text>
<text x="1177.2" y="615.85" font-size="4.55" fill="#3a3d45" stroke="#3a3d45" stroke-width="0.12" text-anchor="start" font-weight="normal" fill-opacity="1" >0.00</text>
<text x="1177.2" y="628.65" font-size="4.55" fill="#3a3d45" stroke="#3a3d45" stroke-width="0.12" text-anchor="start" font-weight="normal" fill-opacity="1" >−20.00</text>
<text x="1177.2" y="641.95" font-size="4.55" fill="#3a3d45" stroke="#3a3d45" stroke-width="0.12" text-anchor="start" font-weight="normal" fill-opacity="1" >−40.00</text>
<rect x="1173.7" y="32" width="22.3" height="6.5" fill="#4a86e0" rx="0.6"/>
<text x="1177.2" y="36.9" font-size="4.55" fill="#fff" stroke="#fff" stroke-width="0.04" text-anchor="start" font-weight="normal" fill-opacity="0.93" >1816.02</text>
<rect x="1173.7" y="42.9" width="22.3" height="5.7" fill="#37916f" rx="0.6"/>
<text x="1177.2" y="47.4" font-size="4.55" fill="#fff" stroke="#fff" stroke-width="0.04" text-anchor="start" font-weight="normal" fill-opacity="0.93" >1788.40</text>
<rect x="1173.7" y="51.6" width="22.3" height="6.5" fill="#3f7af0" rx="0.6"/>
<text x="1177.2" y="56.5" font-size="4.55" fill="#fff" stroke="#fff" stroke-width="0.04" text-anchor="start" font-weight="normal" fill-opacity="0.93" >1764.89</text>
<rect x="1173.7" y="58.1" width="22.3" height="6.6" fill="#2e5fe8" rx="0.6"/>
<text x="1177.2" y="63.05" font-size="4.55" fill="#fff" stroke="#fff" stroke-width="0.04" text-anchor="start" font-weight="normal" fill-opacity="0.93" >1757.76</text>
<rect x="1173.7" y="64.7" width="22.3" height="6.9" fill="#ee8030" rx="0.6"/>
<text x="1177.2" y="69.8" font-size="4.55" fill="#fff" stroke="#fff" stroke-width="0.04" text-anchor="start" font-weight="normal" fill-opacity="0.93" >1728.02</text>
<rect x="1173.7" y="80.4" width="22.3" height="6.8" fill="#2d1be8" rx="0.6"/>
<text x="1177.2" y="85.45" font-size="4.55" fill="#fff" stroke="#fff" stroke-width="0.04" text-anchor="start" font-weight="normal" fill-opacity="0.93" >1687.12</text>
<rect x="1173.7" y="87.2" width="22.3" height="6.7" fill="#5a28e8" rx="0.6"/>
<text x="1177.2" y="92.2" font-size="4.55" fill="#fff" stroke="#fff" stroke-width="0.04" text-anchor="start" font-weight="normal" fill-opacity="0.93" >1680.16</text>
<rect x="1173.7" y="98.4" width="22.3" height="6.6" fill="#4a8ae0" rx="0.6"/>
<text x="1177.2" y="103.35" font-size="4.55" fill="#fff" stroke="#fff" stroke-width="0.04" text-anchor="start" font-weight="normal" fill-opacity="0.93" >1640.02</text>
<rect x="1173.7" y="144.5" width="22.3" height="6.5" fill="#8b30e0" rx="0.6"/>
<text x="1177.2" y="149.4" font-size="4.55" fill="#fff" stroke="#fff" stroke-width="0.04" text-anchor="start" font-weight="normal" fill-opacity="0.93" >1516.92</text>
<rect x="1173.7" y="390.9" width="25.1" height="6.3" fill="#4ba587" rx="0.6"/>
<text x="1177.2" y="395.7" font-size="4.55" fill="#fff" stroke="#fff" stroke-width="0.04" text-anchor="start" font-weight="normal" fill-opacity="0.93" >811.213M</text>
<rect x="1173.7" y="397.2" width="25.1" height="6.5" fill="#3f7af0" rx="0.6"/>
<text x="1177.2" y="402.1" font-size="4.55" fill="#fff" stroke="#fff" stroke-width="0.04" text-anchor="start" font-weight="normal" fill-opacity="0.93" >858.041M</text>
<rect x="1173.7" y="443.5" width="16.9" height="6.7" fill="#7b52c8" rx="0.6"/>
<text x="1177.2" y="448.5" font-size="4.55" fill="#fff" stroke="#fff" stroke-width="0.04" text-anchor="start" font-weight="normal" fill-opacity="0.93" >63.93</text>
<rect x="1173.7" y="450.2" width="16.9" height="6.8" fill="#7b52c8" rx="0.6"/>
<text x="1177.2" y="455.25" font-size="4.55" fill="#fff" stroke="#fff" stroke-width="0.04" text-anchor="start" font-weight="normal" fill-opacity="0.93" >63.93</text>
<rect x="1173.7" y="457" width="16.9" height="6.8" fill="#f0a030" rx="0.6"/>
<text x="1177.2" y="462.05" font-size="4.55" fill="#3a2a10" stroke="#3a2a10" stroke-width="0.04" text-anchor="start" font-weight="normal" fill-opacity="0.93" >60.28</text>
<rect x="1173.7" y="463.8" width="16.9" height="6.6" fill="#3050f0" rx="0.6"/>
<text x="1177.2" y="468.75" font-size="4.55" fill="#fff" stroke="#fff" stroke-width="0.04" text-anchor="start" font-weight="normal" fill-opacity="0.93" >56.75</text>
<rect x="1173.7" y="537.6" width="14.3" height="6.3" fill="#52a352" rx="0.6"/>
<text x="1177.2" y="542.4" font-size="4.55" fill="#fff" stroke="#fff" stroke-width="0.04" text-anchor="start" font-weight="normal" fill-opacity="0.93" >0.24</text>
<rect x="1173.7" y="592" width="17.1" height="6" fill="#3f8cf0" rx="0.6"/>
<text x="1177.2" y="596.65" font-size="4.55" fill="#fff" stroke="#fff" stroke-width="0.04" text-anchor="start" font-weight="normal" fill-opacity="0.93" >24.45</text>
<rect x="1173.7" y="598" width="17.1" height="6.5" fill="#f07a30" rx="0.6"/>
<text x="1177.2" y="602.9" font-size="4.55" fill="#fff" stroke="#fff" stroke-width="0.04" text-anchor="start" font-weight="normal" fill-opacity="0.93" >18.45</text>
<rect x="1173.7" y="607.2" width="14.3" height="5.8" fill="#37916f" rx="0.6"/>
<text x="1177.2" y="611.75" font-size="4.55" fill="#fff" stroke="#fff" stroke-width="0.04" text-anchor="start" font-weight="normal" fill-opacity="0.93" >6.00</text>
<text x="1.5" y="652.1" font-size="4.55" fill="#3a3d45" stroke="#3a3d45" stroke-width="0.12" text-anchor="start" font-weight="normal" fill-opacity="1" >9</text>
<text x="51.6" y="652.1" font-size="4.55" fill="#3a3d45" stroke="#3a3d45" stroke-width="0.12" text-anchor="middle" font-weight="normal" fill-opacity="1" >Tháng 4</text>
<text x="85.01" y="652.1" font-size="4.55" fill="#3a3d45" stroke="#3a3d45" stroke-width="0.12" text-anchor="middle" font-weight="normal" fill-opacity="1" >10</text>
<text x="118.41" y="652.1" font-size="4.55" fill="#3a3d45" stroke="#3a3d45" stroke-width="0.12" text-anchor="middle" font-weight="normal" fill-opacity="1" >18</text>
<text x="162.95" y="652.1" font-size="4.55" fill="#3a3d45" stroke="#3a3d45" stroke-width="0.12" text-anchor="middle" font-weight="normal" fill-opacity="1" >Tháng Năm</text>
<text x="196.36" y="652.1" font-size="4.55" fill="#3a3d45" stroke="#3a3d45" stroke-width="0.12" text-anchor="middle" font-weight="normal" fill-opacity="1" >13</text>
<text x="229.76" y="652.1" font-size="4.55" fill="#3a3d45" stroke="#3a3d45" stroke-width="0.12" text-anchor="middle" font-weight="normal" fill-opacity="1" >21</text>
<text x="274.3" y="652.1" font-size="4.55" fill="#3a3d45" stroke="#3a3d45" stroke-width="0.12" text-anchor="middle" font-weight="normal" fill-opacity="1" >Tháng 6</text>
<text x="307.71" y="652.1" font-size="4.55" fill="#3a3d45" stroke="#3a3d45" stroke-width="0.12" text-anchor="middle" font-weight="normal" fill-opacity="1" >10</text>
<text x="341.12" y="652.1" font-size="4.55" fill="#3a3d45" stroke="#3a3d45" stroke-width="0.12" text-anchor="middle" font-weight="normal" fill-opacity="1" >18</text>
<text x="391.22" y="652.1" font-size="4.55" fill="#3a3d45" stroke="#3a3d45" stroke-width="0.12" text-anchor="middle" font-weight="normal" fill-opacity="1" >Tháng 7</text>
<text x="424.63" y="652.1" font-size="4.55" fill="#3a3d45" stroke="#3a3d45" stroke-width="0.12" text-anchor="middle" font-weight="normal" fill-opacity="1" >9</text>
<text x="458.03" y="652.1" font-size="4.55" fill="#3a3d45" stroke="#3a3d45" stroke-width="0.12" text-anchor="middle" font-weight="normal" fill-opacity="1" >17</text>
<text x="519.28" y="652.1" font-size="4.55" fill="#3a3d45" stroke="#3a3d45" stroke-width="0.12" text-anchor="middle" font-weight="normal" fill-opacity="1" >Tháng Tám</text>
<text x="552.68" y="652.1" font-size="4.55" fill="#3a3d45" stroke="#3a3d45" stroke-width="0.12" text-anchor="middle" font-weight="normal" fill-opacity="1" >11</text>
<text x="586.09" y="652.1" font-size="4.55" fill="#3a3d45" stroke="#3a3d45" stroke-width="0.12" text-anchor="middle" font-weight="normal" fill-opacity="1" >19</text>
<text x="636.2" y="652.1" font-size="4.55" fill="#3a3d45" stroke="#3a3d45" stroke-width="0.12" text-anchor="middle" font-weight="normal" fill-opacity="1" >Tháng 9</text>
<text x="669.6" y="652.1" font-size="4.55" fill="#3a3d45" stroke="#3a3d45" stroke-width="0.12" text-anchor="middle" font-weight="normal" fill-opacity="1" >11</text>
<text x="703.01" y="652.1" font-size="4.55" fill="#3a3d45" stroke="#3a3d45" stroke-width="0.12" text-anchor="middle" font-weight="normal" fill-opacity="1" >19</text>
<text x="747.55" y="652.1" font-size="4.55" fill="#3a3d45" stroke="#3a3d45" stroke-width="0.12" text-anchor="middle" font-weight="normal" fill-opacity="1" >Tháng 10</text>
<text x="780.96" y="652.1" font-size="4.55" fill="#3a3d45" stroke="#3a3d45" stroke-width="0.12" text-anchor="middle" font-weight="normal" fill-opacity="1" >9</text>
<text x="814.36" y="652.1" font-size="4.55" fill="#3a3d45" stroke="#3a3d45" stroke-width="0.12" text-anchor="middle" font-weight="normal" fill-opacity="1" >17</text>
<text x="875.6" y="652.1" font-size="4.55" fill="#3a3d45" stroke="#3a3d45" stroke-width="0.12" text-anchor="middle" font-weight="normal" fill-opacity="1" >Tháng 11</text>
<text x="909.01" y="652.1" font-size="4.55" fill="#3a3d45" stroke="#3a3d45" stroke-width="0.12" text-anchor="middle" font-weight="normal" fill-opacity="1" >11</text>
<text x="942.42" y="652.1" font-size="4.55" fill="#3a3d45" stroke="#3a3d45" stroke-width="0.12" text-anchor="middle" font-weight="normal" fill-opacity="1" >19</text>
<text x="986.96" y="652.1" font-size="4.55" fill="#3a3d45" stroke="#3a3d45" stroke-width="0.12" text-anchor="middle" font-weight="normal" fill-opacity="1" >Tháng Mười hai</text>
<text x="1020.36" y="652.1" font-size="4.55" fill="#3a3d45" stroke="#3a3d45" stroke-width="0.12" text-anchor="middle" font-weight="normal" fill-opacity="1" >9</text>
<text x="1053.77" y="652.1" font-size="4.55" fill="#3a3d45" stroke="#3a3d45" stroke-width="0.12" text-anchor="middle" font-weight="normal" fill-opacity="1" >17</text>
<text x="1148.42" y="652.1" font-size="4.55" fill="#3a3d45" stroke="#3a3d45" stroke-width="0.12" text-anchor="middle" font-weight="normal" fill-opacity="1" >13</text>
<text x="1115.01" y="652.1" font-size="4.55" fill="#1c1e24" stroke="#1c1e24" stroke-width="0.12" text-anchor="middle" font-weight="bold" fill-opacity="1" >2026</text>
<text x="5" y="9.7" font-size="6.3" fill="#2a2d35" stroke="#2a2d35" stroke-width="0.22" text-anchor="start" font-weight="normal" fill-opacity="1" >Chỉ số VNINDEX · 1D</text>
<rect x="73" y="7.2" width="5" height="0.9" fill="#555" rx="0.4"/>
<text x="85.5" y="9.3" font-size="5.3" fill="#37916f" fill-opacity="0.85"><tspan fill="#3a3d45" stroke="#3a3d45" stroke-width="0.1">O</tspan>1787.13 <tspan fill="#3a3d45" stroke="#3a3d45" stroke-width="0.1">H</tspan>1797.40 <tspan fill="#3a3d45" stroke="#3a3d45" stroke-width="0.1">L</tspan>1775.16 <tspan fill="#3a3d45" stroke="#3a3d45" stroke-width="0.1">C</tspan>1788.40 +3.91 (+0.22%)</text>
<text y="19.3" font-size="5.3"><tspan x="5" fill="#2a2d35" stroke="#2a2d35" stroke-width="0.1">MA</tspan><tspan x="14.6" fill="#6a6e78" stroke="#6a6e78" stroke-width="0.1">5 close 0</tspan><tspan x="39" fill="#4a8cf2" stroke="#4a8cf2" stroke-width="0.1">1764.89</tspan></text>
<text y="28.7" font-size="5.3"><tspan x="5" fill="#2a2d35" stroke="#2a2d35" stroke-width="0.1">MA</tspan><tspan x="14.6" fill="#6a6e78" stroke="#6a6e78" stroke-width="0.1">10 close 0</tspan><tspan x="41.6" fill="#3a5fe8" stroke="#3a5fe8" stroke-width="0.1">1757.76</tspan></text>
<text y="38.1" font-size="5.3"><tspan x="5" fill="#2a2d35" stroke="#2a2d35" stroke-width="0.1">MA</tspan><tspan x="14.6" fill="#6a6e78" stroke="#6a6e78" stroke-width="0.1">50 close 0</tspan><tspan x="41.6" fill="#3a30e0" stroke="#3a30e0" stroke-width="0.1">1687.12</tspan></text>
<text y="47.6" font-size="5.3"><tspan x="5" fill="#2a2d35" stroke="#2a2d35" stroke-width="0.1">MA</tspan><tspan x="14.6" fill="#6a6e78" stroke="#6a6e78" stroke-width="0.1">100 close 0</tspan><tspan x="44.6" fill="#5a34e0" stroke="#5a34e0" stroke-width="0.1">1680.16</tspan></text>
<text y="56.9" font-size="5.3"><tspan x="5" fill="#2a2d35" stroke="#2a2d35" stroke-width="0.1">MA</tspan><tspan x="14.6" fill="#6a6e78" stroke="#6a6e78" stroke-width="0.1">200 close 0</tspan><tspan x="44.6" fill="#a45be8" stroke="#a45be8" stroke-width="0.1">1516.92</tspan></text>
<text y="66.3" font-size="5.3"><tspan x="5" fill="#2a2d35" stroke="#2a2d35" stroke-width="0.1">BB</tspan><tspan x="13.6" fill="#6a6e78" stroke="#6a6e78" stroke-width="0.1">20 2</tspan><tspan x="26.6" fill="#ee8030" stroke="#ee8030" stroke-width="0.1">1728.02</tspan><tspan x="48.6" fill="#4a8ae0" stroke="#4a8ae0" stroke-width="0.1">1816.02</tspan><tspan x="69.2" fill="#4a8ae0" stroke="#4a8ae0" stroke-width="0.1">1640.02</tspan></text>
<text x="5" y="76.2" font-size="5.3" fill="#b5b8c0" stroke="#b5b8c0" stroke-width="0.12" text-anchor="start" font-weight="normal" fill-opacity="1" >Ichimoku 9 26 52 26 26</text>
<ellipse cx="66.2" cy="74.6" rx="3" ry="2.1" fill="none" stroke="#4a4d55" stroke-width="0.8"/><circle cx="66.2" cy="74.6" r="1" fill="#4a4d55"/><line x1="64" y1="76.5" x2="68.4" y2="72.7" stroke="#4a4d55" stroke-width="0.7"/>
<text x="5" y="85.8" font-size="5.3" fill="#b5b8c0" stroke="#b5b8c0" stroke-width="0.12" text-anchor="start" font-weight="normal" fill-opacity="1" >Ichimoku 9 17 26 26 26</text>
<ellipse cx="66.2" cy="84.2" rx="3" ry="2.1" fill="none" stroke="#4a4d55" stroke-width="0.8"/><circle cx="66.2" cy="84.2" r="1" fill="#4a4d55"/><line x1="64" y1="86.1" x2="68.4" y2="82.3" stroke="#4a4d55" stroke-width="0.7"/>
<rect x="5.3" y="90" width="10.5" height="7.4" rx="1" fill="#fff" stroke="#e3e5ea" stroke-width="0.5"/>
<path d="M9.2 94.3 L10.5 93 L11.8 94.3" fill="none" stroke="#444" stroke-width="0.7"/>
<text y="350.3" font-size="5.3"><tspan x="5" fill="#2a2d35" stroke="#2a2d35" stroke-width="0.1">Volume - Khối lượng</tspan><tspan x="54.3" fill="#6a6e78" stroke="#6a6e78" stroke-width="0.1">20</tspan><tspan x="63.2" fill="#5aa890" stroke="#5aa890" stroke-width="0.1">811.213M</tspan><tspan x="88" fill="#4a8cf2" stroke="#4a8cf2" stroke-width="0.1">858.041M</tspan></text>
<text y="423.4" font-size="5.3"><tspan x="5" fill="#2a2d35" stroke="#2a2d35" stroke-width="0.1">RSI</tspan><tspan x="14.6" fill="#6a6e78" stroke="#6a6e78" stroke-width="0.1">14 EMA 9</tspan><tspan x="41" fill="#7e57c2" stroke="#7e57c2" stroke-width="0.1">63.93</tspan><tspan x="56.2" fill="#f0a860" stroke="#f0a860" stroke-width="0.1">60.28</tspan></text>
<text y="432.2" font-size="5.3"><tspan x="5" fill="#2a2d35" stroke="#2a2d35" stroke-width="0.1">RSI</tspan><tspan x="14.6" fill="#6a6e78" stroke="#6a6e78" stroke-width="0.1">14 WMA 45</tspan><tspan x="45" fill="#9a7fd0" stroke="#9a7fd0" stroke-width="0.1">63.93</tspan><tspan x="60.2" fill="#3d55e8" stroke="#3d55e8" stroke-width="0.1">56.75</tspan></text>
<rect x="5.3" y="436" width="10.5" height="7.4" rx="1" fill="#fff" stroke="#e3e5ea" stroke-width="0.5"/>
<path d="M9.2 440.3 L10.5 439 L11.8 440.3" fill="none" stroke="#444" stroke-width="0.7"/>
<text y="532.3" font-size="5.3"><tspan x="5" fill="#2a2d35" stroke="#2a2d35" stroke-width="0.1">CMF</tspan><tspan x="18.3" fill="#6a6e78" stroke="#6a6e78" stroke-width="0.1">20</tspan><tspan x="27" fill="#58a858" stroke="#58a858" stroke-width="0.1">0.24</tspan></text>
<text x="5" y="579" font-size="5.3" fill="#2a2d35" textLength="219.2" lengthAdjust="spacingAndGlyphs">Moving Average Convergence Divergence (MACD) - Chỉ báo Trung bình Động hội tụ và phân kỳ</text>
<text y="579" font-size="5.3"><tspan x="227" fill="#6a6e78" stroke="#6a6e78" stroke-width="0.1">12 26 close 9</tspan><tspan x="260" fill="#7cc4b0" stroke="#7cc4b0" stroke-width="0.1">6.00</tspan><tspan x="273" fill="#3f8cf0" stroke="#3f8cf0" stroke-width="0.1">24.45</tspan><tspan x="288.3" fill="#f07a30" stroke="#f07a30" stroke-width="0.1">18.45</tspan></text>
<g fill="#1c1e24"><path d="M8.9 631.1 h3.8 v4.5 h-1.8 v-3 h-2z"/><circle cx="13.7" cy="631.9" r="0.8"/><path d="M15.3 631.1 h2 l-1.8 4.5 h-1.9z"/></g>
<circle cx="1187" cy="650.5" r="2.3" fill="none" stroke="#444" stroke-width="0.6"/><circle cx="1187" cy="650.5" r="0.8" fill="none" stroke="#444" stroke-width="0.5"/>
</svg></body></html>
